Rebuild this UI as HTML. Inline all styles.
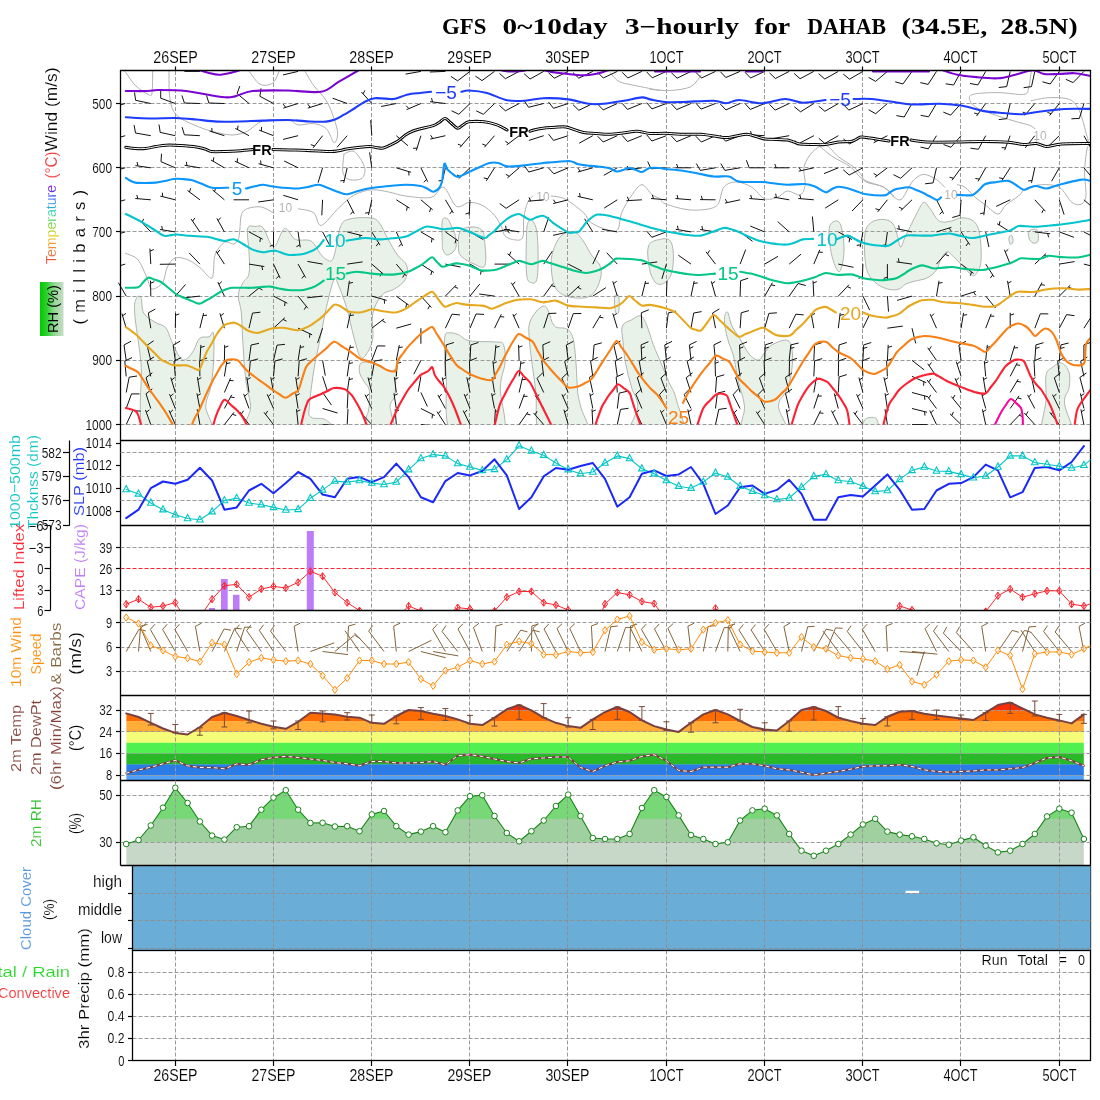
<!DOCTYPE html>
<html><head><meta charset="utf-8"><title>GFS meteogram DAHAB</title>
<style>html,body{margin:0;padding:0;background:#fff;}svg{display:block;}</style></head>
<body>
<svg width="1100" height="1100" viewBox="0 0 1100 1100" shape-rendering="auto">
<rect width="1100" height="1100" fill="#fff"/>
<g id="all" opacity="0.999">
<defs>
<clipPath id="cm"><rect x="120.5" y="70.5" width="970.0" height="354.3"/></clipPath>
<clipPath id="cmb"><rect x="100" y="70.5" width="990.5" height="354.4"/></clipPath>
<clipPath id="c3"><rect x="120.5" y="525.5" width="970.0" height="85"/></clipPath>
<clipPath id="c2"><rect x="120.5" y="441" width="970.0" height="84.5"/></clipPath>
<clipPath id="c4"><rect x="120.5" y="610.5" width="970.0" height="85"/></clipPath>
<linearGradient id="tg" x1="0" y1="0" x2="1" y2="0"><stop offset="0" stop-color="#f04040"/><stop offset="0.18" stop-color="#f08030"/><stop offset="0.36" stop-color="#e8d020"/><stop offset="0.52" stop-color="#60d840"/><stop offset="0.68" stop-color="#20d0c0"/><stop offset="0.82" stop-color="#2060f0"/><stop offset="1" stop-color="#9010d0"/></linearGradient>
<linearGradient id="rhg" x1="0" y1="0" x2="1" y2="0"><stop offset="0" stop-color="#00c800"/><stop offset="0.3" stop-color="#30d030"/><stop offset="0.6" stop-color="#90d890"/><stop offset="1" stop-color="#c8dcc8"/></linearGradient>
</defs>
<text x="442.0" y="33.5" font-family="Liberation Serif, serif" font-weight="bold" font-size="22.5" textLength="44.4" lengthAdjust="spacingAndGlyphs" fill="#000">GFS</text>
<text x="502.6" y="33.5" font-family="Liberation Serif, serif" font-weight="bold" font-size="22.5" textLength="105.0" lengthAdjust="spacingAndGlyphs" fill="#000">0~10day</text>
<text x="625.0" y="33.5" font-family="Liberation Serif, serif" font-weight="bold" font-size="22.5" textLength="114.0" lengthAdjust="spacingAndGlyphs" fill="#000">3&#8722;hourly</text>
<text x="754.6" y="33.5" font-family="Liberation Serif, serif" font-weight="bold" font-size="22.5" textLength="35.6" lengthAdjust="spacingAndGlyphs" fill="#000">for</text>
<text x="807.2" y="33.5" font-family="Liberation Serif, serif" font-weight="bold" font-size="22.5" textLength="78.8" lengthAdjust="spacingAndGlyphs" fill="#000">DAHAB</text>
<text x="901.5" y="33.5" font-family="Liberation Serif, serif" font-weight="bold" font-size="22.5" textLength="85.9" lengthAdjust="spacingAndGlyphs" fill="#000">(34.5E,</text>
<text x="1000.4" y="33.5" font-family="Liberation Serif, serif" font-weight="bold" font-size="22.5" textLength="77.3" lengthAdjust="spacingAndGlyphs" fill="#000">28.5N)</text>
<g clip-path="url(#cm)">
<path d="M136.3 298.5 C137.4 295.7 139.6 295.3 141.0 298.0 C142.4 300.7 141.2 309.1 144.0 313.6 C146.8 318.1 152.5 320.5 156.4 323.0 C160.3 325.5 162.8 324.2 165.6 327.5 C168.4 330.8 169.3 336.2 171.8 341.5 C174.3 346.8 177.0 353.8 179.5 357.0 C182.0 360.2 183.2 360.5 185.7 359.4 C188.2 358.3 191.0 354.5 193.5 350.7 C196.0 346.9 196.8 340.9 199.6 338.4 C202.4 335.9 206.5 337.6 209.0 336.8 C211.5 336.0 212.7 329.0 213.5 333.7 C214.3 338.4 214.0 353.3 213.5 363.0 C213.0 372.7 211.9 380.0 210.5 387.8 C209.1 395.6 206.1 397.7 205.8 406.4 C205.5 415.1 219.6 430.7 209.0 436.0 C198.4 441.3 159.2 449.1 147.0 436.0 C134.8 422.9 143.2 385.0 141.0 363.0 C138.8 341.0 135.5 325.2 134.7 313.6 C133.9 302.0 135.2 301.3 136.3 298.5Z" fill="#e8f2e8" stroke="#b0b4b0" stroke-width="1" stroke-linejoin="round"/>
<path d="M247.6 228.6 C248.7 224.0 252.5 226.7 255.3 226.5 C258.1 226.3 260.2 224.5 263.0 227.7 C265.8 230.8 268.5 240.8 270.7 244.0 C272.9 247.2 273.2 248.1 275.4 245.6 C277.6 243.1 280.8 232.8 283.0 230.0 C285.2 227.2 285.4 228.3 287.7 230.0 C289.9 231.7 291.3 237.5 295.5 239.5 C299.7 241.5 306.6 238.5 311.0 241.0 C315.4 243.5 317.4 250.1 320.2 253.4 C323.0 256.7 324.2 258.4 326.4 259.5 C328.6 260.6 330.7 262.6 332.6 259.5 C334.5 256.4 335.8 248.3 337.2 242.5 C338.6 236.7 338.4 231.2 340.3 227.0 C342.2 222.8 342.7 221.1 348.0 219.4 C353.3 217.7 364.1 217.2 369.7 217.8 C375.3 218.4 375.7 218.6 379.0 222.5 C382.3 226.4 384.9 233.7 388.2 239.5 C391.5 245.3 394.2 250.3 397.5 255.0 C400.8 259.7 405.4 261.3 406.8 265.7 C408.2 270.1 407.4 275.4 405.2 279.6 C403.0 283.8 398.6 286.2 394.4 289.0 C390.2 291.8 385.9 290.6 382.0 295.0 C378.1 299.4 374.5 305.8 372.8 313.6 C371.1 321.4 373.9 331.2 372.8 338.4 C371.7 345.6 368.8 350.5 366.6 353.8 C364.4 357.1 362.6 359.8 360.4 357.0 C358.2 354.2 356.7 347.3 354.2 338.4 C351.7 329.5 349.3 317.0 346.5 307.5 C343.7 298.0 340.9 290.8 338.7 285.8 C336.4 280.8 336.2 275.7 334.0 279.6 C331.8 283.5 328.9 296.9 326.4 307.5 C323.9 318.1 322.4 327.3 320.2 338.4 C318.0 349.5 315.9 357.1 314.0 369.3 C312.1 381.5 309.9 397.8 309.4 406.4 C308.9 415.0 307.9 414.7 311.0 417.2 C314.1 419.7 322.5 416.9 326.4 420.3 C330.3 423.7 346.2 433.2 332.6 436.0 C319.0 438.8 265.4 441.3 250.6 436.0 C235.8 430.7 251.4 416.2 250.6 406.4 C249.8 396.6 247.4 392.8 246.0 381.7 C244.6 370.6 243.8 356.9 243.0 344.6 C242.2 332.3 242.2 322.5 241.4 313.6 C240.6 304.7 238.0 300.6 238.3 295.0 C238.6 289.4 241.1 286.6 243.0 282.7 C244.9 278.8 247.9 279.1 249.0 273.5 C250.1 267.9 249.3 259.9 249.0 251.8 C248.7 243.7 246.5 233.2 247.6 228.6Z" fill="#e8f2e8" stroke="#b0b4b0" stroke-width="1" stroke-linejoin="round"/>
<path d="M360.2 364.0 C361.4 362.1 363.8 362.1 366.0 362.0 C368.2 361.9 370.0 362.6 372.7 363.5 C375.4 364.4 377.9 365.6 381.0 367.0 C384.1 368.4 387.6 370.4 390.2 371.0 C392.8 371.6 394.6 368.2 395.6 370.5 C396.6 372.8 395.8 378.9 395.6 383.6 C395.4 388.3 395.5 393.0 394.5 396.7 C393.5 400.4 390.8 401.2 390.2 404.4 C389.6 407.5 390.5 408.5 391.3 414.2 C392.1 419.9 399.1 432.1 394.5 436.0 C389.9 439.9 370.7 439.1 365.6 436.0 C360.5 432.9 365.7 423.0 366.2 418.5 C366.7 414.0 367.8 414.1 368.4 411.0 C369.0 407.9 369.4 405.0 369.5 401.0 C369.6 397.0 370.0 392.5 369.0 389.0 C368.0 385.5 365.7 384.4 364.0 381.5 C362.3 378.6 360.3 375.8 359.6 372.7 C358.9 369.6 359.0 365.9 360.2 364.0Z" fill="#e8f2e8" stroke="#b0b4b0" stroke-width="1" stroke-linejoin="round"/>
<path d="M442.3 221.0 C443.1 216.7 445.4 217.8 447.0 218.5 C448.6 219.2 449.5 221.8 451.0 225.0 C452.5 228.2 454.7 232.1 455.5 236.4 C456.3 240.7 456.9 245.4 455.5 248.7 C454.1 252.0 449.9 254.8 447.7 255.0 C445.4 255.2 444.0 252.2 443.0 250.0 C442.0 247.8 442.4 247.7 442.3 242.5 C442.2 237.3 441.5 225.3 442.3 221.0Z" fill="#e8f2e8" stroke="#b0b4b0" stroke-width="1" stroke-linejoin="round"/>
<path d="M460.0 231.7 C462.2 227.8 467.1 227.3 471.0 227.0 C474.9 226.7 479.2 227.2 481.7 230.0 C484.2 232.8 484.2 236.1 484.8 242.5 C485.4 248.9 486.7 261.8 484.8 265.7 C482.9 269.6 478.2 265.7 474.0 264.0 C469.8 262.3 464.4 259.3 461.6 256.5 C458.8 253.7 458.8 253.2 458.5 248.7 C458.2 244.2 457.8 235.6 460.0 231.7Z" fill="#e8f2e8" stroke="#b0b4b0" stroke-width="1" stroke-linejoin="round"/>
<path d="M528.0 222.5 C529.1 219.7 531.0 218.5 532.7 221.0 C534.4 223.5 536.6 226.4 537.4 236.4 C538.2 246.4 538.5 268.2 537.4 276.5 C536.3 284.8 533.2 283.2 531.2 282.7 C529.2 282.2 527.3 281.8 526.5 273.5 C525.7 265.2 526.2 245.6 526.5 236.4 C526.8 227.2 526.9 225.3 528.0 222.5Z" fill="#e8f2e8" stroke="#b0b4b0" stroke-width="1" stroke-linejoin="round"/>
<path d="M552.8 251.8 C554.5 246.2 557.0 240.0 560.6 236.4 C564.2 232.8 569.1 231.1 573.0 231.7 C576.9 232.3 578.9 235.3 582.2 239.5 C585.5 243.7 588.2 250.0 591.5 255.0 C594.8 260.0 599.3 262.3 600.7 267.3 C602.1 272.3 600.9 277.7 599.2 282.7 C597.5 287.7 595.1 292.2 591.5 295.0 C587.9 297.8 584.0 298.2 579.0 298.2 C574.0 298.2 568.0 297.2 563.6 295.0 C559.2 292.8 556.6 290.8 554.4 285.8 C552.2 280.8 551.6 273.4 551.3 267.3 C551.0 261.2 551.1 257.4 552.8 251.8Z" fill="#e8f2e8" stroke="#b0b4b0" stroke-width="1" stroke-linejoin="round"/>
<path d="M648.7 245.6 C650.6 241.2 655.6 240.3 659.5 239.5 C663.4 238.7 667.8 237.7 670.3 241.0 C672.8 244.3 673.4 251.6 673.4 258.0 C673.4 264.4 672.5 271.8 670.3 276.5 C668.1 281.2 664.1 283.7 661.0 284.3 C657.9 284.9 655.5 283.2 653.3 279.6 C651.1 276.0 649.5 270.3 648.7 264.2 C647.9 258.1 646.8 250.0 648.7 245.6Z" fill="#e8f2e8" stroke="#b0b4b0" stroke-width="1" stroke-linejoin="round"/>
<path d="M614.7 296.6 C615.3 293.8 618.0 293.8 618.7 296.6 C619.4 299.4 619.3 309.2 618.7 312.0 C618.1 314.8 616.2 314.8 615.5 312.0 C614.8 309.2 614.1 299.4 614.7 296.6Z" fill="#e8f2e8" stroke="#b0b4b0" stroke-width="1" stroke-linejoin="round"/>
<path d="M445.0 336.0 C445.8 332.2 446.9 333.0 449.3 332.8 C451.7 332.6 454.9 333.3 458.5 334.7 C462.1 336.1 462.7 339.5 469.4 340.8 C476.1 342.1 489.5 341.3 495.6 342.0 C501.7 342.7 501.7 340.8 503.4 344.6 C505.1 348.4 505.6 355.2 505.0 363.0 C504.4 370.8 500.9 374.7 500.3 387.8 C499.7 400.9 510.4 427.3 501.8 436.0 C493.2 444.7 462.4 446.9 452.4 436.0 C442.4 425.1 447.6 390.3 446.2 375.5 C444.8 360.7 444.8 360.9 444.6 353.8 C444.4 346.7 444.2 339.8 445.0 336.0Z" fill="#e8f2e8" stroke="#b0b4b0" stroke-width="1" stroke-linejoin="round"/>
<path d="M529.6 323.0 C530.8 318.8 533.3 315.1 535.8 312.0 C538.3 308.9 541.4 306.3 543.6 306.0 C545.8 305.7 546.3 306.9 548.2 310.5 C550.1 314.1 551.1 322.7 554.4 326.0 C557.7 329.3 563.4 326.8 566.7 329.0 C570.0 331.2 571.3 332.3 573.0 338.4 C574.7 344.5 575.2 353.5 576.0 363.0 C576.8 372.5 576.8 383.2 577.6 391.0 C578.4 398.8 578.9 398.3 580.6 406.4 C582.3 414.5 593.7 430.7 586.8 436.0 C579.9 441.3 551.2 444.1 542.0 436.0 C532.8 427.9 537.7 405.2 535.8 391.0 C533.9 376.8 532.4 367.0 531.2 357.0 C530.0 347.0 529.3 341.4 529.0 335.3 C528.7 329.2 528.4 327.2 529.6 323.0Z" fill="#e8f2e8" stroke="#b0b4b0" stroke-width="1" stroke-linejoin="round"/>
<path d="M622.4 326.0 C624.0 322.1 628.4 321.6 631.7 319.8 C635.0 318.0 638.2 314.9 641.0 316.0 C643.8 317.1 644.8 320.9 647.0 326.0 C649.2 331.1 650.8 337.9 653.3 344.6 C655.8 351.3 658.2 356.3 661.0 363.0 C663.8 369.7 665.9 375.0 668.7 381.7 C671.5 388.4 674.3 390.4 676.5 400.2 C678.7 410.0 689.1 429.6 681.0 436.0 C672.9 442.4 639.5 441.3 631.7 436.0 C623.9 430.7 637.8 415.1 637.8 406.4 C637.8 397.7 633.9 395.6 631.7 387.8 C629.5 380.0 627.1 371.3 625.5 363.0 C623.9 354.7 623.6 348.2 623.0 341.5 C622.4 334.8 620.8 329.9 622.4 326.0Z" fill="#e8f2e8" stroke="#b0b4b0" stroke-width="1" stroke-linejoin="round"/>
<path d="M724.4 319.8 C724.4 315.0 726.1 310.9 727.5 312.0 C728.9 313.1 729.8 321.2 732.0 326.0 C734.2 330.8 736.7 333.4 739.8 338.4 C742.9 343.4 745.7 349.9 749.0 353.8 C752.3 357.7 755.5 360.3 758.4 360.0 C761.3 359.7 762.5 354.8 765.0 352.0 C767.5 349.2 768.3 346.7 772.4 344.6 C776.5 342.5 784.2 338.8 787.8 340.5 C791.4 342.2 791.9 347.5 792.5 353.8 C793.1 360.1 792.1 368.8 791.0 375.5 C789.9 382.2 788.5 385.4 786.3 391.0 C784.0 396.6 778.5 398.3 778.5 406.4 C778.5 414.5 792.7 430.7 786.3 436.0 C779.9 441.3 750.5 441.3 743.0 436.0 C735.5 430.7 745.3 416.2 744.5 406.4 C743.7 396.6 740.2 390.6 738.3 381.7 C736.4 372.8 735.6 364.8 733.7 357.0 C731.8 349.2 729.2 345.1 727.5 338.4 C725.8 331.7 724.4 324.6 724.4 319.8Z" fill="#e8f2e8" stroke="#b0b4b0" stroke-width="1" stroke-linejoin="round"/>
<path d="M829.5 227.0 C830.7 222.0 835.0 220.5 837.3 221.0 C839.5 221.5 840.8 224.5 842.0 230.0 C843.2 235.5 844.3 244.5 844.0 251.8 C843.7 259.1 841.9 267.6 840.4 270.4 C838.9 273.2 837.5 271.2 835.7 267.3 C833.9 263.4 831.6 256.0 830.5 248.7 C829.4 241.4 828.3 232.0 829.5 227.0Z" fill="#e8f2e8" stroke="#b0b4b0" stroke-width="1" stroke-linejoin="round"/>
<path d="M865.0 233.3 C866.1 226.9 868.0 225.0 871.3 222.5 C874.6 220.0 879.7 219.1 883.6 219.4 C887.5 219.7 890.5 220.9 893.0 224.0 C895.5 227.1 896.2 232.2 897.6 236.4 C899.0 240.6 899.2 247.2 900.6 247.2 C902.0 247.2 903.3 240.6 905.3 236.4 C907.3 232.2 909.3 228.5 911.5 224.0 C913.7 219.5 915.5 215.5 917.7 211.6 C919.9 207.7 921.6 203.0 923.8 202.4 C926.0 201.8 927.2 205.2 930.0 208.5 C932.8 211.8 935.4 218.8 939.3 221.0 C943.2 223.2 947.8 221.6 951.7 221.0 C955.6 220.4 957.1 217.8 961.0 217.8 C964.9 217.8 970.0 218.2 973.3 221.0 C976.6 223.8 978.1 226.1 979.5 233.3 C980.9 240.5 981.6 253.8 981.0 261.0 C980.4 268.2 978.1 271.0 976.4 273.5 C974.7 276.0 974.5 276.7 971.7 275.0 C968.9 273.3 964.3 267.5 961.0 264.2 C957.7 260.9 955.7 258.7 953.2 256.5 C950.7 254.3 949.2 251.3 947.0 251.8 C944.8 252.3 942.7 256.2 940.8 259.5 C938.9 262.8 938.7 267.1 936.2 270.4 C933.7 273.7 930.9 276.1 927.0 278.0 C923.1 279.9 918.5 280.1 914.6 281.2 C910.7 282.3 908.1 282.9 905.3 284.3 C902.5 285.7 901.8 288.1 899.0 289.0 C896.2 289.9 893.7 290.3 889.8 289.5 C885.9 288.7 881.4 287.2 877.5 284.3 C873.6 281.4 870.5 278.2 868.2 273.5 C866.0 268.8 865.6 265.2 865.0 258.0 C864.4 250.8 863.9 239.7 865.0 233.3Z" fill="#e8f2e8" stroke="#b0b4b0" stroke-width="1" stroke-linejoin="round"/>
<path d="M1009.0 237.0 C1009.4 235.6 1011.3 235.1 1012.0 236.0 C1012.7 236.9 1013.4 240.6 1013.0 242.0 C1012.6 243.4 1010.7 244.9 1010.0 244.0 C1009.3 243.1 1008.6 238.4 1009.0 237.0Z" fill="#e8f2e8" stroke="#b0b4b0" stroke-width="1" stroke-linejoin="round"/>
<path d="M1029.0 231.0 C1030.4 229.6 1035.4 228.2 1037.0 230.0 C1038.6 231.8 1038.7 238.7 1038.0 241.0 C1037.3 243.3 1034.6 243.5 1033.0 243.0 C1031.4 242.5 1029.7 240.2 1029.0 238.0 C1028.3 235.8 1027.6 232.4 1029.0 231.0Z" fill="#e8f2e8" stroke="#b0b4b0" stroke-width="1" stroke-linejoin="round"/>
<path d="M862.0 436.0 C859.3 433.3 862.4 424.3 864.0 421.0 C865.6 417.7 868.7 417.7 871.0 417.5 C873.3 417.3 875.6 416.7 877.0 420.0 C878.4 423.3 881.7 433.1 879.0 436.0 C876.3 438.9 864.7 438.7 862.0 436.0Z" fill="#e8f2e8" stroke="#b0b4b0" stroke-width="1" stroke-linejoin="round"/>
<path d="M1046.0 375.5 C1047.1 369.6 1049.2 369.9 1052.0 367.7 C1054.8 365.4 1058.3 362.2 1061.4 363.0 C1064.5 363.8 1067.6 367.9 1069.0 372.4 C1070.4 376.9 1069.8 382.2 1069.0 387.8 C1068.2 393.4 1063.9 394.6 1064.5 403.3 C1065.1 412.0 1076.1 430.1 1072.2 436.0 C1068.3 441.9 1047.5 442.4 1042.8 436.0 C1038.1 429.6 1045.4 411.1 1046.0 400.2 C1046.6 389.3 1044.9 381.4 1046.0 375.5Z" fill="#e8f2e8" stroke="#b0b4b0" stroke-width="1" stroke-linejoin="round"/>
</g>
<line x1="120.5" y1="103.5" x2="1090.5" y2="103.5" stroke="#9a9a9a" stroke-width="1" stroke-dasharray="4,2"/>
<line x1="120.5" y1="167.5" x2="1090.5" y2="167.5" stroke="#9a9a9a" stroke-width="1" stroke-dasharray="4,2"/>
<line x1="120.5" y1="231.5" x2="1090.5" y2="231.5" stroke="#9a9a9a" stroke-width="1" stroke-dasharray="4,2"/>
<line x1="120.5" y1="296.5" x2="1090.5" y2="296.5" stroke="#9a9a9a" stroke-width="1" stroke-dasharray="4,2"/>
<line x1="120.5" y1="360.5" x2="1090.5" y2="360.5" stroke="#9a9a9a" stroke-width="1" stroke-dasharray="4,2"/>
<line x1="120.5" y1="424.5" x2="1090.5" y2="424.5" stroke="#9a9a9a" stroke-width="1" stroke-dasharray="4,2"/>
<line x1="175.5" y1="71.0" x2="175.5" y2="425.0" stroke="#9a9a9a" stroke-width="1" stroke-dasharray="4,2"/>
<line x1="273.5" y1="71.0" x2="273.5" y2="425.0" stroke="#9a9a9a" stroke-width="1" stroke-dasharray="4,2"/>
<line x1="371.5" y1="71.0" x2="371.5" y2="425.0" stroke="#9a9a9a" stroke-width="1" stroke-dasharray="4,2"/>
<line x1="469.5" y1="71.0" x2="469.5" y2="425.0" stroke="#9a9a9a" stroke-width="1" stroke-dasharray="4,2"/>
<line x1="567.5" y1="71.0" x2="567.5" y2="425.0" stroke="#9a9a9a" stroke-width="1" stroke-dasharray="4,2"/>
<line x1="666.5" y1="71.0" x2="666.5" y2="425.0" stroke="#9a9a9a" stroke-width="1" stroke-dasharray="4,2"/>
<line x1="764.5" y1="71.0" x2="764.5" y2="425.0" stroke="#9a9a9a" stroke-width="1" stroke-dasharray="4,2"/>
<line x1="862.5" y1="71.0" x2="862.5" y2="425.0" stroke="#9a9a9a" stroke-width="1" stroke-dasharray="4,2"/>
<line x1="960.5" y1="71.0" x2="960.5" y2="425.0" stroke="#9a9a9a" stroke-width="1" stroke-dasharray="4,2"/>
<line x1="1059.5" y1="71.0" x2="1059.5" y2="425.0" stroke="#9a9a9a" stroke-width="1" stroke-dasharray="4,2"/>
<g clip-path="url(#cm)">
<path d="M125.0 71.5 C126.7 73.7 131.7 81.7 135.4 85.4 C139.1 89.1 145.5 93.2 148.2 94.4 C150.9 95.6 151.3 96.8 152.0 93.0 C152.7 89.2 152.6 74.3 152.7 70.7" fill="none" stroke="#b0b0b0" stroke-width="1" stroke-linejoin="round" stroke-linecap="round" />
<path d="M169.0 70.7 C169.1 75.1 168.7 91.2 169.8 98.2 C170.9 105.2 172.1 110.4 176.0 114.7 C179.9 119.0 188.3 122.3 194.0 124.9 C199.7 127.5 205.7 129.6 211.8 131.2 C217.9 132.8 226.3 135.0 232.0 135.0 C237.7 135.0 242.5 133.4 247.4 131.2 C252.3 129.0 256.2 122.8 262.7 121.0 C269.2 119.2 282.3 119.2 288.0 119.8 C293.7 120.4 294.2 124.3 298.3 124.9 C302.4 125.5 309.1 123.0 313.6 123.6 C318.1 124.2 323.0 125.6 326.3 128.7 C329.6 131.8 332.2 141.9 334.0 142.7 C335.8 143.5 337.7 137.7 337.7 133.8 C337.7 129.9 335.8 123.8 334.0 118.5 C332.2 113.2 329.6 106.0 326.3 100.7 C323.0 95.4 317.1 90.2 313.6 85.4 C310.1 80.6 306.1 73.1 304.7 70.7" fill="none" stroke="#b0b0b0" stroke-width="1" stroke-linejoin="round" stroke-linecap="round" />
<path d="M248.7 70.7 C250.5 72.9 256.1 82.2 260.0 84.2 C263.9 86.2 269.7 85.2 272.8 83.0 C275.9 80.8 278.2 72.7 279.2 70.7" fill="none" stroke="#b0b0b0" stroke-width="1" stroke-linejoin="round" stroke-linecap="round" />
<path d="M344.0 154.0 C345.6 153.6 351.0 149.5 354.3 151.6 C357.6 153.7 363.3 162.6 364.5 166.9 C365.7 171.2 364.4 176.3 362.0 178.3 C359.6 180.3 352.3 180.6 349.2 179.6 C346.1 178.6 343.6 176.1 342.8 172.0 C342.0 167.9 343.8 156.9 344.0 154.0" fill="none" stroke="#b0b0b0" stroke-width="1" stroke-linejoin="round" stroke-linecap="round" />
<path d="M298.3 208.8 C300.7 209.4 309.9 210.0 313.6 212.7 C317.3 215.4 317.1 226.2 321.2 225.4 C325.3 224.6 333.7 212.5 339.0 207.6 C344.3 202.7 349.0 197.7 354.3 194.9 C359.6 192.1 366.3 190.2 372.0 189.8 C377.7 189.4 384.7 191.3 390.0 192.3 C395.3 193.3 398.8 195.2 405.4 196.0 C412.0 196.8 424.9 198.8 431.0 197.4 C437.1 196.0 439.6 185.8 443.6 187.2 C447.6 188.6 452.2 203.9 456.3 206.3 C460.4 208.7 464.9 202.7 469.0 202.5 C473.1 202.3 477.7 203.0 481.8 205.0 C485.9 207.0 491.3 211.5 494.5 215.2 C497.7 218.9 500.4 224.7 502.0 228.0 C503.6 231.3 503.1 233.8 504.7 235.6 C506.3 237.4 509.5 239.0 512.3 239.4 C515.1 239.8 520.7 241.5 522.5 238.0 C524.3 234.5 523.0 223.5 523.8 217.8 C524.6 212.1 526.2 206.0 527.6 202.5 C529.0 199.0 531.9 197.0 532.7 196.0" fill="none" stroke="#b0b0b0" stroke-width="1" stroke-linejoin="round" stroke-linecap="round" />
<path d="M610.3 72.7 C611.7 74.1 615.3 79.6 619.2 81.6 C623.1 83.6 628.0 84.0 634.5 85.4 C641.0 86.8 655.9 89.7 660.0 90.5" fill="none" stroke="#b0b0b0" stroke-width="1" stroke-linejoin="round" stroke-linecap="round" />
<path d="M551.0 196.0 C553.2 196.5 559.8 196.3 565.0 199.0 C570.2 201.7 579.4 208.9 583.6 212.7 C587.8 216.5 587.1 220.0 591.2 222.8 C595.3 225.6 604.7 229.5 609.0 230.5 C613.3 231.5 616.0 232.0 618.0 229.2 C620.0 226.4 619.5 218.2 621.7 212.7 C623.9 207.2 628.8 199.4 632.0 194.9 C635.2 190.4 638.8 184.7 642.0 184.7 C645.2 184.7 649.4 192.7 652.3 194.9 C655.2 197.1 657.9 197.3 660.0 198.7 C662.1 200.1 660.4 202.0 665.3 203.8 C670.2 205.6 682.6 209.6 690.7 210.0 C698.8 210.4 710.7 209.9 716.0 206.3 C721.3 202.7 720.5 191.1 723.8 187.2 C727.1 183.3 732.0 182.0 736.5 182.0 C741.0 182.0 747.3 184.5 751.8 187.2 C756.3 189.9 760.4 197.1 764.5 198.7 C768.6 200.3 773.5 198.6 777.2 197.4 C780.9 196.2 783.8 191.4 787.4 191.0 C791.0 190.6 797.2 195.9 800.0 194.9 C802.8 193.9 804.6 189.2 805.2 184.7 C805.8 180.2 802.8 172.2 804.0 166.9 C805.2 161.6 809.3 155.1 812.8 151.6 C816.3 148.1 821.5 144.4 825.6 145.2 C829.7 146.0 833.8 153.2 838.3 156.7 C842.8 160.2 850.0 164.1 853.6 166.9 C857.2 169.7 859.0 172.1 861.0 174.5 C863.0 176.9 862.6 180.0 866.3 182.0 C870.0 184.0 879.5 184.7 884.0 187.2 C888.5 189.7 891.4 195.6 894.3 197.4 C897.2 199.2 899.2 201.2 902.0 198.7 C904.8 196.2 908.8 185.9 912.0 182.0 C915.2 178.1 919.1 175.3 922.3 174.5 C925.5 173.7 929.2 175.8 932.0 177.0 C934.8 178.2 937.6 180.4 939.6 182.0 C941.6 183.6 943.9 186.4 944.7 187.2" fill="none" stroke="#b0b0b0" stroke-width="1" stroke-linejoin="round" stroke-linecap="round" />
<path d="M650.0 89.3 C653.3 89.5 663.9 90.9 670.4 90.5 C676.9 90.1 685.8 89.1 690.7 86.7 C695.6 84.3 699.4 77.1 701.0 75.3" fill="none" stroke="#b0b0b0" stroke-width="1" stroke-linejoin="round" stroke-linecap="round" />
<path d="M1031.2 71.5 C1030.8 74.1 1029.9 84.3 1028.7 88.0 C1027.5 91.7 1028.5 93.7 1023.6 94.4 C1018.7 95.1 1006.1 92.6 998.0 92.6 C989.9 92.6 977.2 93.1 972.7 94.4 C968.2 95.7 969.2 98.5 970.0 100.7 C970.8 102.9 973.3 105.9 977.8 108.3 C982.3 110.7 991.5 113.8 998.0 116.0 C1004.5 118.2 1013.2 120.7 1018.5 122.3 C1023.8 123.9 1028.0 124.2 1031.2 126.0 C1034.4 127.8 1038.0 131.3 1038.8 133.8 C1039.6 136.3 1036.7 140.2 1036.3 141.4" fill="none" stroke="#b0b0b0" stroke-width="1" stroke-linejoin="round" stroke-linecap="round" />
<path d="M1031.2 100.7 C1034.0 100.2 1042.9 97.9 1049.0 97.7 C1055.1 97.5 1064.5 97.3 1069.4 99.4 C1074.3 101.5 1076.7 105.0 1079.5 110.9 C1082.3 116.8 1085.2 130.6 1087.0 136.3 C1088.8 142.0 1089.9 144.9 1090.5 146.5" fill="none" stroke="#b0b0b0" stroke-width="1" stroke-linejoin="round" stroke-linecap="round" />
<path d="M820.0 146.5 C822.0 148.1 827.8 153.4 832.7 156.7 C837.6 160.0 845.6 163.2 850.5 166.9 C855.4 170.6 858.0 176.4 863.3 179.6 C868.6 182.8 878.7 184.6 883.6 187.2 C888.5 189.8 892.2 194.6 893.8 196.0" fill="none" stroke="#b0b0b0" stroke-width="1" stroke-linejoin="round" stroke-linecap="round" />
<path d="M957.4 184.7 C958.6 185.1 962.2 185.2 965.0 187.2 C967.8 189.2 971.9 194.6 975.2 197.4 C978.5 200.2 981.8 202.3 985.4 205.0 C989.0 207.7 994.7 214.0 998.0 214.0 C1001.3 214.0 1002.5 207.9 1005.8 205.0 C1009.1 202.1 1015.3 198.6 1018.5 196.0 C1021.7 193.4 1022.3 190.3 1026.0 188.5 C1029.7 186.7 1036.1 184.9 1041.4 184.7 C1046.7 184.5 1054.3 184.4 1059.2 187.2 C1064.1 190.0 1068.4 199.8 1072.0 202.5 C1075.6 205.2 1079.8 205.0 1082.0 203.8 C1084.2 202.6 1085.6 200.0 1086.0 194.9 C1086.4 189.8 1084.4 179.3 1084.6 172.0 C1084.8 164.7 1086.1 153.5 1087.0 149.0 C1087.9 144.5 1089.9 144.8 1090.5 144.0" fill="none" stroke="#b0b0b0" stroke-width="1" stroke-linejoin="round" stroke-linecap="round" />
<path d="M125.5 253.4 C127.5 254.4 134.4 255.6 137.8 259.5 C141.2 263.4 144.8 273.3 147.0 278.0 C149.2 282.7 149.2 288.2 151.7 289.0 C154.2 289.8 160.0 286.2 162.5 282.7 C165.0 279.2 165.2 271.3 167.2 267.3 C169.2 263.3 171.8 259.2 175.0 258.0 C178.2 256.8 183.4 258.0 187.3 259.5 C191.2 261.0 195.6 264.3 199.6 267.3 C203.6 270.3 209.5 280.0 212.0 278.0 C214.5 276.0 213.0 260.7 215.0 255.0 C217.0 249.3 221.4 244.3 224.4 242.5 C227.4 240.7 231.4 244.5 233.6 244.0 C235.8 243.5 237.3 241.7 238.3 239.5 C239.3 237.3 239.3 234.0 239.8 230.0 C240.3 226.0 240.2 218.1 241.4 214.7 C242.6 211.3 244.4 209.7 247.6 208.5 C250.8 207.3 257.3 206.2 261.5 207.0 C265.7 207.8 271.8 212.2 273.8 213.2" fill="none" stroke="#b0b0b0" stroke-width="1" stroke-linejoin="round" stroke-linecap="round" />
</g>
<rect x="278.0" y="201.7" width="15" height="11" fill="#fff"/>
<text x="285.5" y="212.2" font-family="Liberation Sans, sans-serif" font-size="12" fill="#aaa" text-anchor="middle" stroke="#fff" stroke-width="0.12" >10</text>
<rect x="535.5" y="190.0" width="15" height="11" fill="#fff"/>
<text x="543.0" y="200.5" font-family="Liberation Sans, sans-serif" font-size="12" fill="#aaa" text-anchor="middle" stroke="#fff" stroke-width="0.12" >10</text>
<rect x="943.5" y="188.0" width="15" height="11" fill="#fff"/>
<text x="951.0" y="198.5" font-family="Liberation Sans, sans-serif" font-size="12" fill="#aaa" text-anchor="middle" stroke="#fff" stroke-width="0.12" >10</text>
<rect x="1032.5" y="129.0" width="15" height="11" fill="#fff"/>
<text x="1040.0" y="139.5" font-family="Liberation Sans, sans-serif" font-size="12" fill="#aaa" text-anchor="middle" stroke="#fff" stroke-width="0.12" >10</text>
<g clip-path="url(#cmb)"><path d="M199.9 71.4 L184.4 71.4 M298.1 71.4 L283.0 74.9 M420.9 71.4 L405.6 74.1 M445.4 71.4 L429.9 72.0 M470.0 71.4 L457.6 80.8 L450.9 76.4 M494.5 71.4 L482.0 80.6 L475.4 76.1 M519.1 71.4 L505.4 78.7 L499.5 73.4 M543.7 71.4 L530.1 79.0 L524.1 73.7 M568.2 71.4 L554.3 78.2 L548.5 72.7 M592.8 71.4 L578.8 78.2 L573.1 72.7 M617.3 71.4 L603.3 78.0 L597.6 72.3 M641.9 71.4 L627.8 78.0 L622.2 72.3 M666.4 71.4 L652.3 77.8 L646.7 72.0 M691.0 71.4 L677.1 78.2 L671.3 72.7 M715.5 71.4 L701.5 78.0 L695.8 72.3 M740.1 71.4 L725.8 77.5 L720.4 71.7 M764.7 71.4 L750.6 78.0 L745.0 72.3 M789.2 71.4 L775.4 78.5 L769.6 73.0 M813.8 71.4 L800.1 78.7 L794.1 73.4 M838.3 71.4 L824.8 79.0 L818.7 73.7 M862.9 71.4 L849.5 79.2 L843.3 74.1 M887.4 71.4 L875.6 81.4 L868.6 77.4 M912.0 71.4 L902.9 84.0 L895.2 81.8 M936.5 71.4 L928.1 84.4 L920.3 82.6 M961.1 71.4 L953.6 85.0 L945.7 83.8 M985.7 71.4 L977.9 84.9 L970.0 83.5 M1010.2 71.4 L1006.7 86.6 L998.8 87.5 M1034.8 71.4 L1031.5 86.6 L1023.6 87.7 M1059.3 71.4 L1050.2 84.0 L1042.5 81.8 M1083.9 71.4 L1073.1 82.6 L1065.8 79.3 M120.2 105.0 L125.2 103.5 M150.8 103.5 L135.6 100.3 L134.5 92.4 M175.3 103.5 L160.7 98.2 L160.7 90.2 M199.9 103.5 L184.4 103.0 L181.9 95.4 M224.4 103.5 L208.9 103.0 L206.5 95.4 M249.0 103.5 L237.1 93.6 L239.8 86.1 M273.5 103.5 L259.9 96.3 L261.0 88.4 M298.1 103.5 L283.3 108.1 M285.7 107.4 L283.3 104.2 M322.6 103.5 L307.8 108.1 M310.2 107.4 L307.8 104.2 M347.2 103.5 L332.6 98.2 M371.8 103.5 L361.4 92.0 M363.1 93.9 L364.9 90.4 M396.3 103.5 L381.1 106.5 M420.9 103.5 L406.6 109.6 M408.9 108.6 L406.2 105.7 M445.4 103.5 L430.0 101.7 M432.5 102.0 L431.6 98.1 M470.0 103.5 L458.8 114.3 L451.6 110.8 M494.5 103.5 L483.4 114.3 L476.2 110.8 M519.1 103.5 L505.4 110.8 L499.5 105.5 M543.7 103.5 L528.6 107.3 L524.1 100.7 M568.2 103.5 L553.5 108.3 L548.5 102.0 M592.8 103.5 L578.8 110.3 L573.1 104.8 M617.3 103.5 L603.2 109.9 L597.6 104.1 M641.9 103.5 L627.5 109.4 L622.2 103.4 M666.4 103.5 L651.9 108.9 L646.7 102.7 M691.0 103.5 L676.7 109.6 L671.3 103.8 M715.5 103.5 L701.1 109.1 L695.8 103.1 M740.1 103.5 L725.9 109.9 L720.4 104.1 M764.7 103.5 L750.3 109.4 L744.9 103.4 M789.2 103.5 L775.2 110.1 L769.5 104.4 M813.8 103.5 L800.6 111.8 L794.3 106.8 M838.3 103.5 L824.9 111.3 L818.8 106.2 M862.9 103.5 L848.8 110.1 L843.2 104.4 M887.4 103.5 L875.7 113.7 L868.7 109.8 M912.0 103.5 L904.2 117.0 L896.4 115.6 M936.5 103.5 L928.6 116.8 L920.7 115.3 M961.1 103.5 L950.7 115.1 L943.3 112.1 M985.7 103.5 L976.5 116.1 M978.0 114.1 L974.2 113.0 M1010.2 103.5 L1006.7 118.7 L998.8 119.6 M1034.8 103.5 L1024.8 115.4 M1026.4 113.5 L1022.7 112.1 M1059.3 103.5 L1049.6 115.6 M1051.1 113.7 L1047.4 112.4 M1083.9 103.5 L1079.4 118.4 L1071.4 118.8 M120.2 137.2 L125.2 135.7 M150.8 135.7 L135.5 133.0 L134.1 125.1 M175.3 135.7 L160.2 132.4 L159.0 124.5 M199.9 135.7 L184.4 134.8 L182.1 127.2 M224.4 135.7 L209.6 131.1 M212.0 131.8 L211.8 127.9 M249.0 135.7 L235.3 128.4 M237.5 129.5 L238.1 125.6 M273.5 135.7 L259.1 130.1 M261.4 131.0 L261.5 127.0 M298.1 135.7 L283.1 139.4 M322.6 135.7 L313.1 147.9 M314.6 145.9 L310.8 144.7 M347.2 135.7 L337.0 147.3 M371.8 135.7 L370.7 120.2 M396.3 135.7 L408.0 145.8 M420.9 135.7 L416.3 150.5 M417.1 148.1 L413.1 148.3 M445.4 135.7 L430.3 139.1 M432.8 138.6 L430.6 135.2 M470.0 135.7 L460.0 147.5 M461.6 145.6 L457.9 144.2 M494.5 135.7 L484.4 147.3 M486.0 145.5 L482.3 144.0 M519.1 135.7 L506.7 145.0 M508.7 143.5 L505.4 141.3 M543.7 135.7 L528.9 140.4 M568.2 135.7 L553.5 140.4 L548.5 134.1 M592.8 135.7 L579.2 143.2 M617.3 135.7 L603.2 142.0 L597.6 136.2 M641.9 135.7 L627.5 141.5 L622.2 135.5 M666.4 135.7 L651.9 141.0 L646.7 134.8 M691.0 135.7 L676.7 141.7 L671.3 135.9 M715.5 135.7 L701.4 142.0 L695.8 136.2 M740.1 135.7 L725.6 141.2 L720.4 135.2 M764.7 135.7 L749.2 134.8 M751.7 135.0 L750.5 131.1 M789.2 135.7 L773.9 138.3 M813.8 135.7 L800.1 142.9 M838.3 135.7 L824.9 143.4 L818.8 138.3 M862.9 135.7 L849.7 143.9 L843.4 138.9 M887.4 135.7 L873.6 142.7 M875.9 141.6 L872.9 138.8 M936.5 135.7 L928.3 148.8 L920.5 147.1 M961.1 135.7 L950.9 147.3 L943.5 144.5 M985.7 135.7 L978.4 149.3 L970.5 148.2 M1010.2 135.7 L1004.7 150.1 M1005.6 147.8 L1001.6 147.7 M1034.8 135.7 L1025.2 147.9 M1026.8 145.9 L1023.0 144.7 M1059.3 135.7 L1048.2 146.4 M1083.9 135.7 L1091.6 149.1 M120.2 169.2 L125.2 167.8 M150.8 167.8 L135.4 165.6 M137.9 165.9 L137.1 162.0 M175.3 167.8 L161.0 161.7 L161.5 153.7 M199.9 167.8 L184.6 165.3 M187.0 165.7 L186.3 161.8 M224.4 167.8 L211.0 160.0 M213.2 161.2 L213.9 157.3 M249.0 167.8 L234.9 161.2 M237.2 162.3 L237.5 158.3 M273.5 167.8 L258.6 163.7 M261.0 164.4 L260.6 160.4 M298.1 167.8 L284.2 161.0 M322.6 167.8 L318.1 182.6 M347.2 167.8 L343.7 182.9 M344.3 180.4 L340.3 180.9 M371.8 167.8 L369.6 152.4 M396.3 167.8 L411.1 172.3 M408.7 171.6 L409.0 175.5 M420.9 167.8 L427.7 181.7 M426.6 179.4 L423.8 182.3 M445.4 167.8 L441.9 182.9 M442.5 180.4 L438.5 180.9 M470.0 167.8 L458.8 178.5 M460.6 176.8 L457.0 175.0 M494.5 167.8 L486.3 180.9 M487.7 178.8 L483.7 177.9 M519.1 167.8 L507.4 177.9 M509.3 176.3 L505.8 174.3 M543.7 167.8 L528.8 172.0 L524.1 165.6 M568.2 167.8 L553.9 173.8 L548.5 168.0 M592.8 167.8 L577.9 172.0 M580.3 171.3 L577.9 168.1 M617.3 167.8 L603.8 175.3 M641.9 167.8 L626.5 169.9 M629.0 169.6 L627.1 166.0 M666.4 167.8 L651.0 168.8 L647.7 161.5 M691.0 167.8 L675.5 167.8 M678.0 167.8 L676.6 164.0 M715.5 167.8 L700.3 170.4 L696.3 163.5 M740.1 167.8 L724.8 170.4 L720.8 163.5 M764.7 167.8 L749.2 167.8 L746.4 160.2 M789.2 167.8 L773.7 167.8 M776.2 167.8 L774.8 164.0 M813.8 167.8 L798.7 171.2 M801.1 170.7 L798.9 167.3 M838.3 167.8 L824.0 173.6 M862.9 167.8 L849.2 175.0 L843.2 169.7 M887.4 167.8 L875.1 177.1 M877.1 175.6 L873.7 173.4 M912.0 167.8 L900.7 178.3 L893.5 174.7 M936.5 167.8 L933.1 182.9 L925.1 183.8 M961.1 167.8 L952.0 180.3 M953.5 178.3 L949.6 177.2 M985.7 167.8 L978.1 181.3 M979.4 179.1 L975.4 178.5 M1010.2 167.8 L1001.8 180.7 M1003.1 178.7 L999.2 177.8 M1034.8 167.8 L1031.5 182.9 M1032.1 180.5 L1028.1 181.0 M1059.3 167.8 L1051.6 181.2 M1083.9 167.8 L1093.8 179.6 M120.2 201.3 L125.2 199.8 M150.8 199.8 L135.3 198.5 M137.8 198.7 L136.8 194.9 M175.3 199.8 L160.3 196.1 M162.7 196.7 L162.3 192.7 M199.9 199.8 L187.5 190.5 M189.5 192.0 L190.7 188.2 M224.4 199.8 L212.6 189.9 M214.5 191.5 L215.8 187.7 M249.0 199.8 L233.5 199.8 M273.5 199.8 L258.2 202.0 M298.1 199.8 L283.3 195.3 M322.6 199.8 L321.8 215.3 M347.2 199.8 L354.2 213.7 M353.1 211.4 L350.4 214.4 M371.8 199.8 L368.5 215.0 M369.1 212.6 L365.1 213.1 M396.3 199.8 L409.5 208.1 M407.3 206.7 L406.5 210.7 M420.9 199.8 L432.7 209.8 M430.8 208.2 L429.5 212.0 M445.4 199.8 L453.4 213.1 M452.1 211.0 L449.6 214.1 M470.0 199.8 L469.2 215.3 M469.3 212.8 L465.5 214.0 M519.1 199.8 L506.1 208.3 L499.7 203.5 M543.7 199.8 L528.2 201.2 M530.7 201.0 L529.0 197.4 M568.2 199.8 L553.2 203.6 M555.6 203.0 L553.4 199.7 M592.8 199.8 L577.7 196.4 M580.1 196.9 L579.6 193.0 M617.3 199.8 L604.2 208.1 M641.9 199.8 L626.4 200.7 M628.9 200.5 L627.3 196.8 M666.4 199.8 L651.0 198.5 M653.5 198.7 L652.4 194.9 M691.0 199.8 L675.5 198.5 M678.0 198.7 L677.0 194.9 M715.5 199.8 L700.0 199.6 M702.5 199.6 L701.2 195.8 M740.1 199.8 L724.9 203.1 M727.4 202.6 L725.3 199.2 M764.7 199.8 L749.2 198.5 M751.7 198.7 L750.7 194.9 M789.2 199.8 L773.9 197.2 M776.4 197.6 L775.7 193.7 M813.8 199.8 L798.3 198.5 M800.8 198.7 L799.8 194.9 M838.3 199.8 L825.2 208.1 M862.9 199.8 L852.1 211.0 M887.4 199.8 L877.7 211.9 M879.3 210.0 L875.5 208.7 M912.0 199.8 L900.8 210.6 M902.6 208.9 L899.0 207.1 M936.5 199.8 L943.6 213.7 M942.4 211.4 L939.7 214.4 M961.1 199.8 L960.0 215.3 L952.3 217.5 M985.7 199.8 L983.8 215.2 M984.1 212.8 L980.2 213.7 M1010.2 199.8 L996.2 206.4 M1034.8 199.8 L1045.3 211.2 M1043.6 209.4 L1041.8 212.9 M1059.3 199.8 L1064.1 214.6 M1083.9 199.8 L1095.6 210.0 M120.2 233.4 L125.2 231.9 M150.8 231.9 L140.2 220.6 M141.9 222.4 L143.7 218.9 M175.3 231.9 L160.0 229.5 M162.5 229.9 L161.7 226.0 M199.9 231.9 L191.2 219.1 M192.6 221.2 L194.9 217.9 M224.4 231.9 L216.9 218.4 M218.1 220.6 L220.7 217.6 M249.0 231.9 L262.7 239.2 M260.5 238.1 L259.9 242.0 M273.5 231.9 L273.5 247.4 M273.5 244.9 L269.8 246.3 M298.1 231.9 L300.2 247.3 M299.9 244.8 L296.4 246.7 M322.6 231.9 L329.9 245.6 M347.2 231.9 L362.2 235.7 M359.8 235.1 L360.2 239.1 M371.8 231.9 L380.0 245.1 M378.6 243.0 L376.2 246.1 M396.3 231.9 L402.6 246.1 M401.6 243.8 L398.7 246.6 M420.9 231.9 L434.3 239.7 M432.1 238.4 L431.4 242.4 M445.4 231.9 L458.1 240.8 M456.1 239.4 L455.0 243.3 M470.0 231.9 L483.4 239.7 M494.5 231.9 L509.8 229.3 M507.3 229.7 L509.3 233.2 M519.1 231.9 L503.8 229.3 M506.3 229.7 L505.6 225.8 M543.7 231.9 L548.7 217.3 M568.2 231.9 L553.1 235.4 M592.8 231.9 L584.6 218.8 M617.3 231.9 L602.1 229.3 M666.4 231.9 L651.9 237.3 L646.7 231.1 M691.0 231.9 L675.7 229.3 M678.2 229.7 L677.5 225.8 M715.5 231.9 L700.2 229.5 M702.7 229.9 L701.9 226.0 M740.1 231.9 L752.5 241.3 M764.7 231.9 L750.3 226.1 M789.2 231.9 L777.7 221.6 M813.8 231.9 L812.4 216.5 M838.3 231.9 L851.9 239.5 M849.7 238.3 L849.1 242.2 M862.9 231.9 L860.2 247.2 M860.6 244.8 L856.7 245.4 M887.4 231.9 L885.3 247.3 M885.6 244.8 L881.7 245.7 M912.0 231.9 L896.8 228.7 M899.3 229.2 L898.7 225.3 M936.5 231.9 L951.4 227.4 M949.0 228.1 L951.4 231.3 M961.1 231.9 L969.8 244.8 M968.4 242.7 L966.0 246.0 M985.7 231.9 L988.9 247.1 M1010.2 231.9 L997.1 223.7 M999.2 225.1 L1000.0 221.1 M1034.8 231.9 L1050.2 233.8 M1047.7 233.5 L1048.6 237.4 M1059.3 231.9 L1073.9 237.3 M1083.9 231.9 L1097.6 239.2 M120.2 265.6 L125.2 264.1 M150.8 264.1 L149.9 248.6 M150.1 251.1 L153.8 249.5 M175.3 264.1 L159.8 264.3 M199.9 264.1 L189.1 252.9 M224.4 264.1 L216.0 251.1 M217.3 253.1 L219.8 250.0 M249.0 264.1 L264.3 266.5 M261.8 266.1 L262.6 270.0 M273.5 264.1 L280.1 278.1 M279.0 275.8 L276.2 278.7 M298.1 264.1 L305.6 277.6 M304.4 275.4 L301.8 278.4 M322.6 264.1 L307.4 261.4 M347.2 264.1 L362.6 261.9 M371.8 264.1 L383.5 274.2 M381.6 272.6 L380.1 276.3 M396.3 264.1 L406.3 275.9 M404.7 274.0 L402.7 277.5 M420.9 264.1 L433.9 272.5 M431.8 271.1 L430.9 275.0 M445.4 264.1 L460.6 267.0 M470.0 264.1 L483.4 271.8 M481.2 270.6 L480.5 274.5 M494.5 264.1 L510.0 264.1 M519.1 264.1 L507.6 253.7 M509.4 255.4 L510.9 251.6 M543.7 264.1 L552.3 251.2 M568.2 264.1 L582.0 271.1 M592.8 264.1 L599.3 250.0 M617.3 264.1 L606.7 252.7 M641.9 264.1 L657.2 261.9 M666.4 264.1 L661.9 278.9 M691.0 264.1 L678.3 255.2 M715.5 264.1 L706.0 251.8 M707.5 253.8 L709.7 250.4 M740.1 264.1 L745.7 249.6 M764.7 264.1 L778.1 256.3 M789.2 264.1 L801.1 254.1 M813.8 264.1 L819.8 249.8 M818.8 252.1 L822.8 252.3 M838.3 264.1 L853.5 267.3 M862.9 264.1 L862.3 279.5 M862.4 277.0 L858.6 278.3 M887.4 264.1 L887.4 279.6 M887.4 277.1 L883.7 278.4 M912.0 264.1 L896.6 261.9 M899.1 262.2 L898.3 258.3 M936.5 264.1 L946.9 252.5 M945.2 254.4 L949.0 255.9 M961.1 264.1 L973.5 273.4 M971.5 271.9 L970.3 275.7 M985.7 264.1 L994.1 277.0 M992.7 275.0 L990.3 278.1 M1010.2 264.1 L1004.4 249.7 M1005.3 252.0 L1008.3 249.3 M1034.8 264.1 L1046.1 253.5 M1044.3 255.2 L1047.8 257.0 M1059.3 264.1 L1074.6 261.6 M1083.9 264.1 L1098.9 267.8 M126.2 296.1 L118.4 282.7 M150.8 296.1 L150.5 280.7 M150.5 283.2 L154.3 281.7 M175.3 296.1 L185.5 284.5 M199.9 296.1 L184.5 297.8 M224.4 296.1 L217.9 282.1 M218.9 284.4 L221.8 281.5 M249.0 296.1 L261.0 286.4 M259.1 288.0 L262.5 290.0 M273.5 296.1 L287.3 303.2 M285.1 302.1 L284.6 306.0 M298.1 296.1 L307.8 308.2 M306.3 306.3 L304.2 309.7 M322.6 296.1 L307.2 297.8 M347.2 296.1 L349.4 280.8 M349.0 283.3 L352.9 282.4 M371.8 296.1 L386.7 300.4 M384.3 299.7 L384.5 303.7 M396.3 296.1 L408.9 305.3 M406.8 303.8 L405.7 307.6 M420.9 296.1 L431.4 307.5 M429.7 305.7 L427.9 309.2 M445.4 296.1 L456.2 285.0 M454.5 286.8 L458.1 288.4 M470.0 296.1 L479.7 284.1 M494.5 296.1 L479.2 294.0 M519.1 296.1 L511.3 282.7 M512.6 284.9 L515.2 281.8 M543.7 296.1 L552.8 283.6 M551.3 285.6 L555.1 286.7 M568.2 296.1 L579.5 285.6 M577.7 287.3 L581.3 289.1 M592.8 296.1 L605.8 287.7 M617.3 296.1 L612.8 281.3 M613.5 283.7 L616.7 281.3 M641.9 296.1 L645.6 281.1 M645.0 283.5 L649.0 283.1 M666.4 296.1 L667.0 280.7 M691.0 296.1 L694.2 281.0 M693.7 283.4 L697.7 282.9 M715.5 296.1 L711.3 281.3 M712.0 283.7 L715.2 281.3 M740.1 296.1 L740.6 280.7 L748.2 278.2 M764.7 296.1 L772.4 282.7 M771.2 284.9 L775.1 285.6 M789.2 296.1 L798.1 283.5 L805.8 285.5 M813.8 296.1 L813.0 280.7 M813.1 283.2 L816.8 281.6 M838.3 296.1 L848.9 284.8 M847.2 286.6 L850.9 288.2 M862.9 296.1 L869.7 310.1 M887.4 296.1 L888.5 311.6 M912.0 296.1 L897.1 300.4 M936.5 296.1 L939.0 280.8 M938.6 283.3 L942.5 282.5 M961.1 296.1 L975.8 291.4 M973.5 292.1 L975.9 295.3 M985.7 296.1 L995.6 308.0 M1010.2 296.1 L1007.5 280.9 M1008.0 283.3 L1011.4 281.3 M1034.8 296.1 L1042.0 282.5 M1040.9 284.7 L1044.8 285.2 M1059.3 296.1 L1070.3 285.2 M1068.5 287.0 L1072.1 288.6 M126.2 328.2 L121.9 313.4 M122.6 315.8 L125.9 313.4 M150.8 328.2 L148.3 312.9 L155.3 309.1 M175.3 328.2 L175.6 312.8 M175.5 315.3 L179.3 313.9 M199.9 328.2 L203.6 313.2 M203.0 315.6 L207.0 315.2 M224.4 328.2 L219.9 313.4 M220.6 315.8 L223.8 313.4 M249.0 328.2 L252.5 313.1 L260.4 312.2 M273.5 328.2 L284.9 317.7 M283.0 319.4 L286.6 321.2 M298.1 328.2 L312.1 334.8 M309.9 333.7 L309.5 337.7 M322.6 328.2 L317.6 342.9 M347.2 328.2 L350.4 313.1 M349.9 315.5 L353.9 315.0 M371.8 328.2 L384.1 318.9 M382.1 320.4 L385.5 322.6 M396.3 328.2 L411.2 324.0 M420.9 328.2 L420.9 343.8 M445.4 328.2 L452.0 314.2 L459.9 314.9 M470.0 328.2 L476.0 314.0 L484.0 314.4 M494.5 328.2 L501.3 314.3 M500.2 316.6 L504.2 317.0 M519.1 328.2 L512.8 314.1 M513.8 316.4 L516.7 313.6 M543.7 328.2 L548.4 313.5 L556.4 313.2 M568.2 328.2 L573.3 313.6 L581.3 313.5 M592.8 328.2 L600.7 315.0 M599.5 317.1 L603.4 317.9 M617.3 328.2 L612.8 313.4 M613.5 315.8 L616.7 313.4 M641.9 328.2 L641.3 312.8 L648.8 309.8 M666.4 328.2 L668.3 312.9 L676.1 311.1 M691.0 328.2 L693.7 313.0 L701.6 311.6 M715.5 328.2 L712.6 313.0 L719.4 308.9 M740.1 328.2 L741.2 312.8 L748.9 310.6 M764.7 328.2 L768.9 313.4 L776.9 312.8 M789.2 328.2 L795.8 314.2 L803.7 314.9 M813.8 328.2 L811.1 313.0 M811.5 315.4 L815.0 313.4 M838.3 328.2 L840.2 312.9 M839.9 315.3 L843.8 314.4 M862.9 328.2 L869.7 314.3 M887.4 328.2 L902.8 326.1 M912.0 328.2 L915.7 343.3 M936.5 328.2 L930.2 314.1 M931.3 316.4 L934.1 313.6 M961.1 328.2 L963.5 312.9 M963.1 315.4 L967.1 314.6 M985.7 328.2 L991.2 313.8 M990.3 316.1 L994.3 316.2 M1010.2 328.2 L1010.2 312.8 M1010.2 315.2 L1014.0 313.9 M1034.8 328.2 L1040.3 313.8 L1048.3 313.9 M1059.3 328.2 L1066.6 314.6 L1074.5 315.7 M1083.9 328.2 L1092.3 315.3 M126.2 360.4 L124.0 345.0 L131.1 341.2 M150.8 360.4 L147.0 345.3 L153.6 340.8 M175.3 360.4 L173.2 345.0 L180.2 341.2 M199.9 360.4 L200.9 344.9 M200.8 347.4 L204.6 346.3 M224.4 360.4 L224.7 344.9 M224.7 347.4 L228.4 346.0 M249.0 360.4 L251.1 345.0 L259.0 343.3 M273.5 360.4 L277.0 345.2 L285.0 344.3 M298.1 360.4 L300.5 345.0 M300.1 347.5 L304.1 346.7 M322.6 360.4 L325.3 375.6 M347.2 360.4 L350.4 345.2 M349.9 347.6 L353.9 347.1 M371.8 360.4 L377.3 345.9 L385.3 346.0 M396.3 360.4 L399.3 345.1 M398.8 347.6 L402.7 347.0 M420.9 360.4 L413.8 374.2 M445.4 360.4 L446.2 344.9 L453.9 342.5 M470.0 360.4 L470.8 344.9 L478.4 342.5 M494.5 360.4 L495.9 344.9 M495.7 347.4 L499.5 346.4 M519.1 360.4 L518.6 344.9 M518.6 347.4 L522.4 345.9 M543.7 360.4 L542.8 344.9 L550.2 341.7 M568.2 360.4 L566.3 345.0 L573.4 341.3 M592.8 360.4 L594.1 344.9 L601.8 342.8 M617.3 360.4 L613.8 345.2 L620.5 340.9 M641.9 360.4 L641.1 344.9 L648.4 341.7 M641.2 348.4 L644.9 346.8 M666.4 360.4 L664.8 344.9 L672.0 341.4 M665.2 348.4 L668.8 346.7 M691.0 360.4 L689.4 344.9 L696.6 341.4 M689.7 348.4 L693.3 346.7 M715.5 360.4 L713.9 344.9 L721.1 341.4 M740.1 360.4 L739.6 344.9 L747.0 341.9 M739.7 348.4 L743.4 346.9 M764.7 360.4 L765.2 344.9 L772.8 342.4 M765.1 348.4 L768.9 347.1 M789.2 360.4 L790.8 344.9 L798.6 343.0 M790.5 348.4 L794.3 347.4 M813.8 360.4 L814.6 344.9 L822.2 342.5 M838.3 360.4 L839.1 344.9 L846.8 342.5 M862.9 360.4 L863.7 344.9 L871.3 342.5 M863.5 348.4 L867.3 347.2 M887.4 360.4 L888.2 344.9 M888.1 347.4 L891.9 346.2 M912.0 360.4 L924.2 369.9 M936.5 360.4 L927.7 347.7 M929.1 349.7 L931.4 346.4 M961.1 360.4 L958.9 345.0 L966.0 341.2 M985.7 360.4 L987.3 344.9 M987.0 347.4 L990.9 346.5 M1010.2 360.4 L1014.7 345.5 M1014.0 347.9 L1018.0 347.7 M1034.8 360.4 L1035.9 344.9 L1043.5 342.7 M1035.6 348.4 L1039.5 347.3 M1059.3 360.4 L1060.9 344.9 L1068.7 343.0 M1060.6 348.4 L1064.5 347.4 M1083.9 360.4 L1083.9 344.9 L1091.4 342.1 M126.2 376.4 L124.8 361.0 L132.1 357.6 M150.8 376.4 L147.3 361.3 L154.0 356.9 M175.3 376.4 L174.0 361.0 L181.2 357.6 M199.9 376.4 L199.6 360.9 L207.1 358.0 M224.4 376.4 L226.8 361.1 M226.5 363.6 L230.4 362.8 M249.0 376.4 L250.3 361.0 L258.1 358.9 M273.5 376.4 L274.9 361.0 L282.6 358.9 M298.1 376.4 L299.2 360.9 L306.9 358.7 M322.6 376.4 L327.4 391.1 M347.2 376.4 L349.4 361.1 M349.0 363.5 L352.9 362.7 M371.8 376.4 L374.5 361.1 L382.3 359.7 M396.3 376.4 L397.4 360.9 M397.2 363.4 L401.1 362.3 M420.9 376.4 L418.2 391.7 M445.4 376.4 L445.2 360.9 L452.6 358.0 M470.0 376.4 L469.4 360.9 L476.9 357.9 M494.5 376.4 L492.9 361.0 M493.2 363.5 L496.8 361.7 M519.1 376.4 L521.0 361.0 M520.7 363.5 L524.6 362.6 M543.7 376.4 L541.8 361.0 L548.9 357.4 M568.2 376.4 L564.7 361.3 L571.4 356.9 M592.8 376.4 L590.6 361.1 L597.7 357.3 M617.3 376.4 L615.2 361.1 L622.2 357.3 M641.9 376.4 L639.2 361.1 L646.1 357.1 M666.4 376.4 L663.7 361.1 L670.7 357.1 M691.0 376.4 L687.2 361.4 L693.9 356.9 M715.5 376.4 L715.0 360.9 M715.1 363.4 L718.8 361.9 M740.1 376.4 L737.9 361.1 L745.0 357.3 M764.7 376.4 L764.1 360.9 L771.5 357.9 M789.2 376.4 L789.5 360.9 L797.0 358.3 M813.8 376.4 L814.6 360.9 L822.2 358.6 M838.3 376.4 L838.6 360.9 L846.2 358.3 M862.9 376.4 L862.3 360.9 L869.8 357.9 M887.4 376.4 L886.6 360.9 L894.0 357.8 M912.0 376.4 L926.2 382.7 M923.9 381.7 L923.6 385.7 M936.5 376.4 L927.7 363.7 M929.1 365.8 L931.4 362.5 M961.1 376.4 L956.3 361.7 M957.1 364.0 L960.2 361.6 M985.7 376.4 L984.3 361.0 M984.5 363.4 L988.2 361.8 M1010.2 376.4 L1017.3 362.6 M1016.1 364.8 L1020.1 365.3 M1034.8 376.4 L1034.0 360.9 L1041.3 357.8 M1059.3 376.4 L1057.7 361.0 L1064.9 357.5 M1083.9 376.4 L1080.7 361.2 L1087.4 357.0 M126.2 392.5 L129.2 377.2 L137.1 376.0 M150.8 392.5 L146.0 377.7 L152.3 372.8 M175.3 392.5 L170.8 377.6 M171.5 380.0 L174.7 377.6 M199.9 392.5 L197.4 377.1 M197.8 379.6 L201.3 377.7 M224.4 392.5 L230.5 378.2 M229.5 380.5 L233.5 380.7 M249.0 392.5 L246.8 377.1 M247.2 379.6 L250.7 377.7 M273.5 392.5 L270.8 377.2 M271.3 379.6 L274.7 377.6 M298.1 392.5 L295.7 377.1 M296.1 379.6 L299.6 377.7 M322.6 392.5 L331.5 405.1 M347.2 392.5 L349.4 377.1 M349.0 379.6 L352.9 378.7 M371.8 392.5 L368.0 377.4 M368.6 379.8 L371.9 377.6 M396.3 392.5 L394.4 377.1 M394.7 379.5 L398.3 377.7 M420.9 392.5 L427.4 406.5 M445.4 392.5 L442.2 377.3 M442.7 379.7 L446.1 377.6 M470.0 392.5 L466.8 377.3 M467.3 379.7 L470.7 377.6 M494.5 392.5 L492.1 377.1 M492.5 379.6 L496.0 377.7 M519.1 392.5 L522.6 377.3 M522.0 379.8 L526.0 379.3 M543.7 392.5 L537.1 378.4 L542.8 372.7 M568.2 392.5 L561.9 378.3 L567.7 372.7 M592.8 392.5 L589.5 377.3 L596.3 373.0 M617.3 392.5 L616.2 377.0 L623.5 373.7 M641.9 392.5 L637.3 377.6 L643.7 372.8 M666.4 392.5 L660.9 378.0 L666.9 372.7 M691.0 392.5 L686.2 377.7 L692.5 372.8 M715.5 392.5 L716.6 377.0 L724.3 374.8 M740.1 392.5 L735.6 377.6 L742.0 372.8 M764.7 392.5 L759.4 377.9 L765.5 372.7 M789.2 392.5 L785.5 377.4 L792.1 372.9 M813.8 392.5 L816.5 377.2 M816.0 379.6 L820.0 379.0 M838.3 392.5 L839.1 377.0 L846.8 374.6 M862.9 392.5 L858.9 377.5 M859.5 379.9 L862.8 377.6 M887.4 392.5 L883.9 377.3 M884.5 379.8 L887.9 377.6 M912.0 392.5 L927.0 396.5 M924.5 395.8 L924.9 399.8 M936.5 392.5 L927.2 380.1 M928.7 382.1 L930.9 378.7 M961.1 392.5 L955.0 378.2 M956.0 380.5 L958.9 377.8 M985.7 392.5 L983.2 377.1 M983.6 379.6 L987.1 377.7 M1010.2 392.5 L1018.2 379.2 M1016.9 381.3 L1020.8 382.1 M1034.8 392.5 L1031.5 377.3 M1032.1 379.7 L1035.5 377.6 M1059.3 392.5 L1054.3 377.8 L1060.5 372.8 M1083.9 392.5 L1079.9 377.5 L1086.4 372.9 M126.2 408.5 L131.5 393.9 L139.5 393.9 M150.8 408.5 L146.0 393.8 L152.3 388.8 M175.3 408.5 L169.5 394.1 M170.4 396.4 L173.4 393.8 M199.9 408.5 L196.9 393.3 M197.4 395.7 L200.8 393.7 M224.4 408.5 L231.7 394.8 M230.5 397.0 L234.5 397.6 M249.0 408.5 L243.7 393.9 M244.5 396.3 L247.6 393.7 M273.5 408.5 L267.2 394.3 M268.2 396.6 L271.1 393.8 M298.1 408.5 L295.7 393.2 M296.1 395.7 L299.6 393.7 M322.6 408.5 L337.5 413.0 M347.2 408.5 L348.0 393.0 M371.8 408.5 L365.0 394.6 M366.1 396.8 L368.8 393.9 M396.3 408.5 L393.9 393.2 M394.3 395.7 L397.8 393.7 M420.9 408.5 L434.7 415.5 M432.5 414.4 L432.0 418.4 M445.4 408.5 L437.9 394.9 M439.1 397.1 L441.7 394.1 M470.0 408.5 L464.2 394.1 M465.1 396.4 L468.1 393.8 M494.5 408.5 L491.6 393.3 M492.1 395.7 L495.5 393.7 M519.1 408.5 L524.4 393.9 M523.5 396.3 L527.5 396.3 M543.7 408.5 L535.2 395.5 M536.6 397.6 L539.0 394.4 M568.2 408.5 L561.9 394.3 M562.9 396.6 L565.8 393.8 M592.8 408.5 L589.8 393.3 M590.3 395.7 L593.7 393.7 M617.3 408.5 L619.2 393.1 L627.0 391.3 M641.9 408.5 L635.8 394.2 L641.7 388.8 M666.4 408.5 L659.4 394.7 L664.9 388.8 M691.0 408.5 L684.2 394.6 L689.8 388.8 M715.5 408.5 L717.4 393.1 L725.2 391.3 M740.1 408.5 L733.1 394.7 L738.5 388.8 M764.7 408.5 L758.1 394.5 L763.8 388.8 M789.2 408.5 L785.5 393.5 L792.1 389.0 M813.8 408.5 L818.6 393.8 M817.8 396.1 L821.8 396.0 M838.3 408.5 L834.3 393.5 M835.0 395.9 L838.2 393.6 M862.9 408.5 L856.6 394.3 M857.6 396.6 L860.5 393.8 M887.4 408.5 L885.0 393.2 M885.4 395.7 L888.9 393.7 M912.0 408.5 L927.0 412.2 M924.6 411.6 L925.0 415.6 M936.5 408.5 L927.2 396.1 M928.7 398.1 L930.9 394.8 M961.1 408.5 L951.3 396.5 M952.9 398.4 L955.0 395.0 M985.7 408.5 L981.6 393.5 M982.3 395.9 L985.6 393.6 M1010.2 408.5 L1019.1 395.8 M1017.7 397.9 L1021.5 398.9 M1034.8 408.5 L1027.5 394.8 M1028.7 397.0 L1031.3 394.0 M1059.3 408.5 L1052.5 394.6 M1053.6 396.8 L1056.4 393.9 M1083.9 408.5 L1080.4 393.4 M1081.0 395.8 L1084.3 393.7 M126.2 424.6 L132.8 410.5 L140.7 411.2 M150.8 424.6 L145.5 410.0 M146.3 412.3 L149.4 409.8 M175.3 424.6 L169.0 410.4 M170.0 412.7 L172.9 409.9 M199.9 424.6 L197.2 409.3 M224.4 424.6 L234.0 412.3 M232.4 414.3 L236.2 415.5 M249.0 424.6 L239.9 412.0 M241.3 414.0 L243.6 410.7 M273.5 424.6 L264.0 412.3 M265.5 414.3 L267.7 410.9 M298.1 424.6 L296.5 409.1 M296.7 411.6 L300.3 409.9 M322.6 424.6 L338.1 425.6 M347.2 424.6 L348.0 409.1 M371.8 424.6 L361.2 413.2 M396.3 424.6 L395.2 409.1 M395.4 411.6 L399.1 410.0 M420.9 424.6 L436.3 426.2 M445.4 424.6 L437.0 411.6 M438.3 413.6 L440.8 410.5 M470.0 424.6 L463.2 410.6 M464.3 412.9 L467.1 410.0 M494.5 424.6 L495.4 409.1 M495.2 411.6 L499.0 410.4 M519.1 424.6 L528.0 411.9 M526.6 413.9 L530.4 414.9 M543.7 424.6 L533.5 412.9 M535.1 414.7 L537.1 411.2 M568.2 424.6 L563.9 409.7 M564.6 412.1 L567.9 409.7 M592.8 424.6 L592.0 409.1 M592.1 411.6 L595.8 410.0 M617.3 424.6 L620.5 409.4 L628.5 408.3 M641.9 424.6 L635.3 410.5 M636.4 412.8 L639.2 409.9 M666.4 424.6 L660.4 410.3 M661.4 412.6 L664.3 409.9 M691.0 424.6 L687.8 409.4 M688.3 411.8 L691.7 409.7 M715.5 424.6 L718.8 409.4 L726.7 408.3 M740.1 424.6 L733.1 410.7 M734.2 413.0 L736.9 410.0 M764.7 424.6 L756.2 411.6 M757.6 413.6 L760.0 410.5 M789.2 424.6 L786.3 409.3 M786.7 411.8 L790.2 409.7 M813.8 424.6 L820.6 410.6 M819.5 412.9 L823.4 413.3 M838.3 424.6 L831.5 410.6 M832.6 412.9 L835.4 410.0 M862.9 424.6 L853.6 412.2 M855.1 414.2 L857.2 410.8 M887.4 424.6 L885.0 409.2 M885.4 411.7 L888.9 409.8 M912.0 424.6 L927.5 424.6 M936.5 424.6 L929.8 410.6 M930.8 412.9 L933.6 410.0 M961.1 424.6 L950.0 413.8 M951.8 415.5 L953.4 411.9 M985.7 424.6 L982.4 409.4 M983.0 411.8 L986.3 409.7 M1010.2 424.6 L1021.0 413.4 M1019.2 415.2 L1022.9 416.8 M1034.8 424.6 L1024.4 413.0 M1026.1 414.9 L1028.0 411.4 M1059.3 424.6 L1049.8 412.3 M1051.3 414.3 L1053.4 410.9 M1083.9 424.6 L1080.9 409.3 M1081.4 411.8 L1084.8 409.7" fill="none" stroke="#111" stroke-width="1" stroke-linejoin="miter"/></g>
<g clip-path="url(#cm)">
<path d="M125.8 91.0 C129.4 91.0 142.8 91.2 148.0 91.0 C153.2 90.8 151.9 90.0 158.0 90.0 C164.1 90.0 175.8 89.9 186.0 91.0 C196.2 92.1 214.2 96.1 222.0 97.0 C229.8 97.9 230.1 97.4 235.0 96.4 C239.9 95.4 244.0 91.9 252.5 91.0 C261.0 90.1 277.0 90.4 288.0 90.5 C299.0 90.6 312.8 93.2 321.0 91.8 C329.2 90.4 332.9 85.1 339.0 81.6 C345.1 78.1 355.8 71.9 359.0 70.0" fill="none" stroke="#7a04d0" stroke-width="2.1" stroke-linejoin="round" stroke-linecap="round" />
<path d="M199.0 70.0 C200.6 70.5 205.8 72.2 209.0 73.0 C212.2 73.8 215.6 74.8 219.0 74.8 C222.4 74.8 226.6 73.8 230.0 73.0 C233.4 72.2 238.4 70.5 240.0 70.0" fill="none" stroke="#7a04d0" stroke-width="2.1" stroke-linejoin="round" stroke-linecap="round" />
<path d="M502.0 70.5 C503.6 70.7 508.3 71.5 512.0 71.5 C515.7 71.5 522.9 70.7 525.0 70.5" fill="none" stroke="#7a04d0" stroke-width="2.1" stroke-linejoin="round" stroke-linecap="round" />
<path d="M543.0 70.0 C544.9 70.4 551.0 71.9 555.0 72.5 C559.0 73.1 563.0 73.6 568.0 74.0 C573.0 74.4 581.2 75.4 586.0 75.3 C590.8 75.2 594.3 74.3 598.0 73.5 C601.7 72.7 607.2 70.6 609.0 70.0" fill="none" stroke="#7a04d0" stroke-width="2.1" stroke-linejoin="round" stroke-linecap="round" />
<path d="M655.0 71.5 L700.0 71.5" fill="none" stroke="#7a04d0" stroke-width="2.1" stroke-linejoin="round" stroke-linecap="round" />
<path d="M746.0 71.5 L762.0 71.5" fill="none" stroke="#7a04d0" stroke-width="2.1" stroke-linejoin="round" stroke-linecap="round" />
<path d="M873.0 71.5 L929.0 71.5" fill="none" stroke="#7a04d0" stroke-width="2.1" stroke-linejoin="round" stroke-linecap="round" />
<path d="M942.0 70.0 C944.5 70.8 951.7 73.6 957.4 74.8 C963.1 76.0 971.3 76.7 977.8 77.3 C984.3 77.9 992.3 78.6 998.0 78.3 C1003.7 78.0 1007.9 76.6 1013.4 75.3 C1018.9 74.0 1027.6 70.4 1032.5 70.2 C1037.4 70.0 1039.8 73.4 1044.0 74.0 C1048.2 74.6 1054.1 74.1 1059.0 74.0 C1063.9 73.9 1069.5 72.9 1074.5 73.2 C1079.5 73.5 1087.9 75.4 1090.5 75.8" fill="none" stroke="#7a04d0" stroke-width="2.1" stroke-linejoin="round" stroke-linecap="round" />
<path d="M125.8 117.3 C129.7 117.5 142.0 118.4 150.0 118.5 C158.0 118.6 168.6 117.8 176.0 118.0 C183.4 118.2 189.4 118.9 196.0 119.5 C202.6 120.1 210.0 121.3 217.0 121.6 C224.0 121.9 232.7 121.7 240.0 121.5 C247.3 121.3 255.0 120.8 262.7 120.6 C270.4 120.4 280.4 119.9 288.0 120.0 C295.6 120.1 303.9 121.2 310.0 121.5 C316.1 121.8 322.0 121.9 326.0 121.6 C330.0 121.3 332.1 120.6 335.0 119.5 C337.9 118.4 340.8 116.5 344.0 114.7 C347.2 112.9 351.7 110.0 355.0 108.0 C358.3 106.0 361.4 103.6 364.5 102.0 C367.6 100.4 370.5 98.7 374.6 98.2 C378.7 97.7 386.7 98.9 390.0 99.0 C393.3 99.1 392.1 99.4 395.0 98.7 C397.9 98.0 404.0 95.3 408.0 94.4 C412.0 93.5 416.3 93.4 420.0 93.0 C423.7 92.6 429.2 92.0 431.0 91.8" fill="none" stroke="#1e3cfc" stroke-width="2.1" stroke-linejoin="round" stroke-linecap="round" />
<path d="M461.4 91.8 C462.6 91.6 464.9 90.3 469.0 90.5 C473.1 90.7 480.9 91.4 487.0 93.0 C493.1 94.6 500.9 99.0 507.0 100.2 C513.1 101.4 519.2 101.0 525.0 100.7 C530.8 100.4 536.1 98.4 543.0 98.2 C549.9 98.0 560.7 98.5 568.0 99.4 C575.3 100.3 582.8 103.1 588.6 103.8 C594.4 104.5 598.3 104.3 604.0 103.8 C609.7 103.3 617.9 101.7 624.0 100.7 C630.1 99.7 637.8 97.6 642.0 97.4 C646.2 97.2 646.3 98.7 650.0 99.4 C653.7 100.1 659.7 101.6 665.0 102.0 C670.3 102.4 675.2 102.2 683.0 102.0 C690.8 101.8 706.7 100.5 713.6 100.7 C720.5 100.9 721.9 103.4 726.0 103.3 C730.1 103.2 733.2 100.0 739.0 100.0 C744.8 100.0 754.6 103.5 762.0 103.3 C769.4 103.1 778.5 99.1 785.0 99.0 C791.5 98.9 796.2 102.5 802.7 102.7 C809.2 102.9 821.9 100.4 825.6 100.0" fill="none" stroke="#1e3cfc" stroke-width="2.1" stroke-linejoin="round" stroke-linecap="round" />
<path d="M853.6 99.0 C856.4 99.0 864.9 98.5 871.4 99.0 C877.9 99.5 887.6 101.1 894.0 102.0 C900.4 102.9 904.3 104.2 911.6 104.5 C918.9 104.8 931.5 103.6 939.6 103.8 C947.7 104.0 955.6 104.7 962.5 105.8 C969.4 106.9 976.3 109.7 982.8 110.9 C989.3 112.1 997.1 112.5 1003.2 113.0 C1009.3 113.5 1015.3 114.4 1021.0 114.2 C1026.7 114.0 1031.9 112.5 1038.8 111.7 C1045.7 110.9 1056.0 109.4 1064.3 109.0 C1072.6 108.6 1086.3 108.9 1090.5 108.9" fill="none" stroke="#1e3cfc" stroke-width="2.1" stroke-linejoin="round" stroke-linecap="round" />
<path d="M125.8 147.3 C127.3 147.5 131.8 148.3 135.0 148.5 C138.2 148.7 142.2 148.8 145.6 148.5 C149.0 148.2 152.7 147.0 156.0 146.5 C159.3 146.0 162.2 145.4 166.0 145.2 C169.8 145.0 175.1 145.2 180.0 145.5 C184.9 145.8 192.5 146.4 196.5 147.0 C200.5 147.6 202.6 148.3 205.0 149.0 C207.4 149.7 208.6 151.2 211.8 151.6 C215.0 152.0 221.0 151.6 225.0 151.5 C229.0 151.4 232.6 151.3 237.0 151.0 C241.4 150.7 250.0 149.8 252.5 149.6" fill="none" stroke="#000" stroke-width="3.0" stroke-linejoin="round" stroke-linecap="round" />
<path d="M273.0 149.6 C275.7 149.7 285.2 149.9 290.0 150.0 C294.8 150.1 298.5 150.1 303.0 150.3 C307.5 150.5 313.5 150.8 318.0 151.0 C322.5 151.2 327.5 151.7 331.0 151.6 C334.5 151.5 337.5 150.9 340.0 150.5 C342.5 150.1 343.7 149.5 346.6 149.0 C349.5 148.5 354.3 147.9 358.0 147.5 C361.7 147.1 366.6 146.5 369.5 146.5 C372.4 146.5 374.0 147.2 376.0 147.5 C378.0 147.8 380.4 148.4 382.0 148.3 C383.6 148.2 384.7 147.5 386.0 147.0 C387.3 146.5 388.1 146.2 390.0 145.2 C391.9 144.2 395.5 142.6 398.0 141.0 C400.5 139.4 403.0 136.6 405.4 135.0 C407.8 133.4 410.6 132.0 413.0 131.0 C415.4 130.0 417.4 129.6 420.7 128.7 C424.0 127.8 430.5 126.6 433.4 125.6 C436.3 124.6 437.1 123.6 439.0 122.5 C440.9 121.4 443.1 118.4 445.0 118.5 C446.9 118.6 449.0 121.4 451.0 123.0 C453.0 124.6 455.7 127.9 457.6 128.2 C459.5 128.5 461.2 126.0 463.0 125.0 C464.8 124.0 465.6 122.3 469.0 121.8 C472.4 121.3 479.8 121.3 484.3 121.8 C488.8 122.3 493.4 123.6 497.0 124.9 C500.6 126.2 505.4 129.2 507.0 130.0" fill="none" stroke="#000" stroke-width="3.0" stroke-linejoin="round" stroke-linecap="round" />
<path d="M530.0 131.2 C531.0 130.9 533.9 130.0 536.0 129.5 C538.1 129.0 540.0 128.6 543.0 128.2 C546.0 127.8 551.4 127.5 555.0 127.3 C558.6 127.1 562.8 126.6 565.8 127.0 C568.8 127.4 571.2 128.6 574.0 129.5 C576.8 130.4 580.1 131.9 583.6 132.5 C587.1 133.1 591.9 133.2 596.0 133.5 C600.1 133.8 604.7 134.4 609.0 134.3 C613.3 134.2 618.5 133.5 623.0 133.0 C627.5 132.5 632.7 131.1 637.0 131.2 C641.3 131.3 645.5 133.2 650.0 133.5 C654.5 133.8 660.1 133.2 665.0 133.3 C669.9 133.4 674.7 134.1 680.5 134.3 C686.3 134.5 695.6 134.0 701.0 134.3 C706.4 134.6 710.0 135.5 714.0 136.0 C718.0 136.5 722.5 137.6 726.0 137.6 C729.5 137.6 732.7 136.5 736.0 136.0 C739.3 135.5 743.5 134.2 746.7 134.3 C749.9 134.4 753.2 135.8 756.0 136.5 C758.8 137.2 761.3 138.4 764.5 138.9 C767.7 139.4 772.3 139.3 776.0 139.5 C779.7 139.7 784.5 139.6 787.4 140.0 C790.3 140.4 792.0 141.4 794.0 142.0 C796.0 142.6 797.0 143.6 800.0 144.0 C803.0 144.4 808.9 144.4 813.0 144.5 C817.1 144.6 821.6 144.9 825.6 144.5 C829.6 144.1 834.2 142.5 838.3 142.0 C842.4 141.5 848.2 141.8 851.0 141.4 C853.8 141.0 854.4 140.2 856.0 139.5 C857.6 138.8 858.8 137.2 861.0 137.0 C863.2 136.8 867.1 137.6 870.0 138.0 C872.9 138.4 876.0 138.9 879.0 139.4 C882.0 139.9 887.4 140.7 889.0 141.0" fill="none" stroke="#000" stroke-width="3.0" stroke-linejoin="round" stroke-linecap="round" />
<path d="M911.0 140.0 C913.5 140.3 919.5 141.7 926.9 142.0 C934.3 142.3 948.5 142.1 957.4 142.0 C966.3 141.9 974.7 141.4 982.8 141.4 C990.9 141.4 1001.8 141.7 1008.3 142.2 C1014.8 142.7 1019.1 144.3 1023.6 144.5 C1028.1 144.7 1032.6 143.2 1036.3 143.5 C1040.0 143.8 1042.4 146.4 1046.5 146.5 C1050.6 146.6 1054.7 144.5 1061.7 144.0 C1068.7 143.5 1085.9 143.6 1090.5 143.5" fill="none" stroke="#000" stroke-width="3.0" stroke-linejoin="round" stroke-linecap="round" />
<path d="M125.8 147.3 C127.3 147.5 131.8 148.3 135.0 148.5 C138.2 148.7 142.2 148.8 145.6 148.5 C149.0 148.2 152.7 147.0 156.0 146.5 C159.3 146.0 162.2 145.4 166.0 145.2 C169.8 145.0 175.1 145.2 180.0 145.5 C184.9 145.8 192.5 146.4 196.5 147.0 C200.5 147.6 202.6 148.3 205.0 149.0 C207.4 149.7 208.6 151.2 211.8 151.6 C215.0 152.0 221.0 151.6 225.0 151.5 C229.0 151.4 232.6 151.3 237.0 151.0 C241.4 150.7 250.0 149.8 252.5 149.6" fill="none" stroke="#fff" stroke-width="1.0" stroke-linejoin="round" stroke-linecap="round" />
<path d="M273.0 149.6 C275.7 149.7 285.2 149.9 290.0 150.0 C294.8 150.1 298.5 150.1 303.0 150.3 C307.5 150.5 313.5 150.8 318.0 151.0 C322.5 151.2 327.5 151.7 331.0 151.6 C334.5 151.5 337.5 150.9 340.0 150.5 C342.5 150.1 343.7 149.5 346.6 149.0 C349.5 148.5 354.3 147.9 358.0 147.5 C361.7 147.1 366.6 146.5 369.5 146.5 C372.4 146.5 374.0 147.2 376.0 147.5 C378.0 147.8 380.4 148.4 382.0 148.3 C383.6 148.2 384.7 147.5 386.0 147.0 C387.3 146.5 388.1 146.2 390.0 145.2 C391.9 144.2 395.5 142.6 398.0 141.0 C400.5 139.4 403.0 136.6 405.4 135.0 C407.8 133.4 410.6 132.0 413.0 131.0 C415.4 130.0 417.4 129.6 420.7 128.7 C424.0 127.8 430.5 126.6 433.4 125.6 C436.3 124.6 437.1 123.6 439.0 122.5 C440.9 121.4 443.1 118.4 445.0 118.5 C446.9 118.6 449.0 121.4 451.0 123.0 C453.0 124.6 455.7 127.9 457.6 128.2 C459.5 128.5 461.2 126.0 463.0 125.0 C464.8 124.0 465.6 122.3 469.0 121.8 C472.4 121.3 479.8 121.3 484.3 121.8 C488.8 122.3 493.4 123.6 497.0 124.9 C500.6 126.2 505.4 129.2 507.0 130.0" fill="none" stroke="#fff" stroke-width="1.0" stroke-linejoin="round" stroke-linecap="round" />
<path d="M530.0 131.2 C531.0 130.9 533.9 130.0 536.0 129.5 C538.1 129.0 540.0 128.6 543.0 128.2 C546.0 127.8 551.4 127.5 555.0 127.3 C558.6 127.1 562.8 126.6 565.8 127.0 C568.8 127.4 571.2 128.6 574.0 129.5 C576.8 130.4 580.1 131.9 583.6 132.5 C587.1 133.1 591.9 133.2 596.0 133.5 C600.1 133.8 604.7 134.4 609.0 134.3 C613.3 134.2 618.5 133.5 623.0 133.0 C627.5 132.5 632.7 131.1 637.0 131.2 C641.3 131.3 645.5 133.2 650.0 133.5 C654.5 133.8 660.1 133.2 665.0 133.3 C669.9 133.4 674.7 134.1 680.5 134.3 C686.3 134.5 695.6 134.0 701.0 134.3 C706.4 134.6 710.0 135.5 714.0 136.0 C718.0 136.5 722.5 137.6 726.0 137.6 C729.5 137.6 732.7 136.5 736.0 136.0 C739.3 135.5 743.5 134.2 746.7 134.3 C749.9 134.4 753.2 135.8 756.0 136.5 C758.8 137.2 761.3 138.4 764.5 138.9 C767.7 139.4 772.3 139.3 776.0 139.5 C779.7 139.7 784.5 139.6 787.4 140.0 C790.3 140.4 792.0 141.4 794.0 142.0 C796.0 142.6 797.0 143.6 800.0 144.0 C803.0 144.4 808.9 144.4 813.0 144.5 C817.1 144.6 821.6 144.9 825.6 144.5 C829.6 144.1 834.2 142.5 838.3 142.0 C842.4 141.5 848.2 141.8 851.0 141.4 C853.8 141.0 854.4 140.2 856.0 139.5 C857.6 138.8 858.8 137.2 861.0 137.0 C863.2 136.8 867.1 137.6 870.0 138.0 C872.9 138.4 876.0 138.9 879.0 139.4 C882.0 139.9 887.4 140.7 889.0 141.0" fill="none" stroke="#fff" stroke-width="1.0" stroke-linejoin="round" stroke-linecap="round" />
<path d="M911.0 140.0 C913.5 140.3 919.5 141.7 926.9 142.0 C934.3 142.3 948.5 142.1 957.4 142.0 C966.3 141.9 974.7 141.4 982.8 141.4 C990.9 141.4 1001.8 141.7 1008.3 142.2 C1014.8 142.7 1019.1 144.3 1023.6 144.5 C1028.1 144.7 1032.6 143.2 1036.3 143.5 C1040.0 143.8 1042.4 146.4 1046.5 146.5 C1050.6 146.6 1054.7 144.5 1061.7 144.0 C1068.7 143.5 1085.9 143.6 1090.5 143.5" fill="none" stroke="#fff" stroke-width="1.0" stroke-linejoin="round" stroke-linecap="round" />
<path d="M125.8 177.8 C126.5 178.2 128.5 179.7 130.0 180.5 C131.5 181.3 133.0 182.2 135.4 182.6 C137.8 183.0 141.7 183.0 145.0 183.0 C148.3 183.0 152.6 182.9 155.8 182.6 C159.0 182.3 162.2 181.6 165.0 181.0 C167.8 180.4 170.9 179.3 173.6 179.0 C176.3 178.7 179.2 178.8 182.0 179.0 C184.8 179.2 188.4 179.3 191.4 180.0 C194.4 180.7 197.7 182.3 201.0 183.5 C204.3 184.7 207.4 187.0 211.8 187.7 C216.2 188.4 225.7 187.7 228.3 187.7" fill="none" stroke="#0a96fc" stroke-width="2.1" stroke-linejoin="round" stroke-linecap="round" />
<path d="M246.0 188.5 C247.3 188.2 251.3 187.1 254.0 186.5 C256.7 185.9 260.1 184.8 262.7 184.7 C265.3 184.6 267.6 185.6 270.0 186.0 C272.4 186.4 275.1 186.9 278.0 187.2 C280.9 187.5 284.8 187.8 288.0 188.0 C291.2 188.2 295.1 188.7 298.3 188.5 C301.5 188.3 304.8 187.6 308.0 187.0 C311.2 186.4 315.4 184.5 318.6 184.7 C321.8 184.9 324.7 186.8 328.0 188.0 C331.3 189.2 336.0 191.3 339.0 192.3 C342.0 193.3 344.0 194.3 346.6 194.3 C349.2 194.3 352.1 192.8 355.0 192.0 C357.9 191.2 361.0 190.1 364.5 189.3 C368.0 188.5 372.9 187.8 377.0 187.3 C381.1 186.8 385.5 186.4 390.0 186.0 C394.5 185.6 400.5 184.7 405.4 184.7 C410.3 184.7 417.2 185.4 420.7 186.0 C424.2 186.6 425.0 187.6 427.0 188.5 C429.0 189.4 431.4 192.0 433.4 191.8 C435.4 191.6 438.4 189.2 439.8 187.2 C441.2 185.2 441.6 183.3 442.3 179.6 C443.0 175.9 443.6 165.4 444.4 163.8 C445.2 162.2 446.2 167.8 447.4 169.4 C448.6 171.0 450.4 172.3 452.0 173.5 C453.6 174.7 455.7 176.8 457.6 177.0 C459.5 177.2 461.8 175.5 464.0 174.5 C466.2 173.5 469.0 171.9 471.6 170.7 C474.2 169.5 477.2 168.2 480.0 167.0 C482.8 165.8 486.5 163.6 489.4 163.0 C492.3 162.4 495.5 162.5 498.3 163.0 C501.1 163.5 503.1 166.0 507.0 166.4 C510.9 166.8 516.7 166.1 522.5 165.6 C528.3 165.1 537.6 163.6 543.0 163.0 C548.4 162.4 552.0 162.3 556.0 162.0 C560.0 161.7 565.6 161.0 568.3 161.0 C571.0 161.0 571.4 161.5 573.0 162.0 C574.6 162.5 576.3 163.7 578.5 164.3 C580.7 164.9 584.2 165.2 587.0 165.5 C589.8 165.8 592.8 166.0 596.3 166.4 C599.8 166.8 605.8 167.2 609.0 168.0 C612.2 168.8 614.4 171.2 616.6 171.5 C618.8 171.8 621.0 170.6 623.0 170.0 C625.0 169.4 627.3 168.0 629.4 168.0 C631.5 168.0 634.0 169.4 636.0 170.0 C638.0 170.6 639.8 172.3 642.0 172.0 C644.2 171.7 646.8 168.6 649.7 168.0 C652.6 167.4 657.6 167.8 660.0 168.0 C662.4 168.2 661.3 168.6 665.0 169.0 C668.7 169.4 677.7 170.0 683.0 170.7 C688.3 171.4 693.1 172.6 698.0 173.5 C702.9 174.4 708.6 176.0 713.6 176.5 C718.6 177.0 724.9 175.7 729.0 176.5 C733.1 177.3 733.7 180.7 739.0 181.6 C744.3 182.5 756.2 181.7 762.0 182.0 C767.8 182.3 770.9 183.1 775.0 183.5 C779.1 183.9 782.6 184.6 787.4 184.7 C792.2 184.8 800.5 183.7 805.0 184.0 C809.5 184.3 812.1 185.4 815.4 186.7 C818.7 188.0 822.9 191.9 825.6 192.3 C828.3 192.7 830.0 189.9 832.0 189.0 C834.0 188.1 835.7 186.8 838.3 186.7 C840.9 186.6 845.5 187.7 848.5 188.5 C851.5 189.3 854.2 190.6 857.0 191.5 C859.8 192.4 862.0 193.7 866.3 194.3 C870.6 194.9 880.4 195.6 884.0 195.4 C887.6 195.2 887.4 193.9 889.0 193.0 C890.6 192.1 892.7 190.5 894.3 189.8 C895.9 189.1 896.6 188.9 899.0 188.5 C901.4 188.1 906.4 187.0 909.0 187.2 C911.6 187.4 913.0 188.7 915.0 189.5 C917.0 190.3 919.6 191.3 921.8 192.3 C924.0 193.3 926.6 194.8 929.0 196.0 C931.4 197.2 935.1 199.8 937.0 200.0 C938.9 200.2 940.4 197.8 941.0 197.4" fill="none" stroke="#0a96fc" stroke-width="2.1" stroke-linejoin="round" stroke-linecap="round" />
<path d="M957.4 194.9 C958.6 195.0 962.6 195.3 965.0 195.3 C967.4 195.3 970.5 195.7 972.7 194.9 C974.9 194.1 977.0 191.7 979.0 190.0 C981.0 188.3 982.5 185.3 985.4 184.0 C988.3 182.7 993.3 182.5 997.0 182.0 C1000.7 181.5 1005.3 180.4 1008.3 180.9 C1011.3 181.4 1013.6 183.6 1016.0 185.0 C1018.4 186.4 1021.4 189.4 1023.6 189.8 C1025.8 190.2 1028.0 188.1 1030.0 187.5 C1032.0 186.9 1033.7 185.8 1036.3 186.0 C1038.9 186.2 1043.5 188.5 1046.5 188.5 C1049.5 188.5 1052.2 186.8 1055.0 186.0 C1057.8 185.2 1060.0 184.4 1064.3 183.4 C1068.6 182.4 1077.8 180.0 1082.0 179.6 C1086.2 179.2 1089.1 180.7 1090.5 180.9" fill="none" stroke="#0a96fc" stroke-width="2.1" stroke-linejoin="round" stroke-linecap="round" />
<path d="M125.8 214.0 C127.1 214.6 131.2 216.6 134.0 218.0 C136.8 219.4 140.0 221.0 143.0 222.8 C146.0 224.6 149.7 227.0 153.0 229.0 C156.3 231.0 160.8 234.6 163.4 235.6 C166.0 236.6 167.0 235.7 169.0 235.5 C171.0 235.3 172.6 234.5 176.0 234.5 C179.4 234.5 185.1 235.4 190.0 235.8 C194.9 236.2 202.5 236.3 206.7 236.8 C210.9 237.3 213.2 238.3 216.0 239.0 C218.8 239.7 222.4 240.8 224.5 241.0 C226.6 241.2 227.4 240.3 229.0 240.0 C230.6 239.7 232.5 238.8 234.7 239.4 C236.9 240.0 240.2 242.4 243.0 244.0 C245.8 245.6 249.3 248.3 252.5 249.6 C255.7 250.9 260.1 251.9 262.7 252.2 C265.3 252.5 267.0 251.4 269.0 251.2 C271.0 251.0 273.5 250.5 275.4 250.7 C277.3 250.9 279.0 251.8 281.0 252.5 C283.0 253.2 285.6 254.4 288.0 254.8 C290.4 255.2 293.5 254.9 296.0 254.8 C298.5 254.7 301.5 254.4 303.4 254.0 C305.3 253.6 306.4 253.1 308.0 252.5 C309.6 251.9 311.8 251.2 313.6 250.2 C315.4 249.2 317.4 247.6 319.0 246.0 C320.6 244.4 322.9 241.0 323.7 240.0" fill="none" stroke="#04c4cc" stroke-width="2.1" stroke-linejoin="round" stroke-linecap="round" />
<path d="M346.6 240.7 C347.9 240.5 352.1 239.6 355.0 239.2 C357.9 238.8 361.8 238.1 364.5 238.0 C367.2 237.9 369.5 238.3 372.0 238.5 C374.5 238.7 376.8 239.4 380.0 239.4 C383.2 239.4 387.9 238.7 392.0 238.3 C396.1 237.9 401.7 237.8 405.4 236.8 C409.1 235.8 411.7 233.6 415.0 232.0 C418.3 230.4 422.8 227.4 425.8 226.7 C428.8 226.0 431.2 227.1 434.0 227.5 C436.8 227.9 440.9 229.0 443.6 229.2 C446.3 229.4 448.6 228.7 451.0 228.5 C453.4 228.3 455.7 227.4 458.9 228.0 C462.1 228.6 466.9 230.9 471.0 232.5 C475.1 234.1 481.4 237.6 484.3 238.0 C487.2 238.4 487.4 236.1 489.0 235.0 C490.6 233.9 492.7 232.6 494.5 231.0 C496.3 229.4 498.0 226.9 500.0 225.0 C502.0 223.1 505.1 220.4 507.0 219.0 C508.9 217.6 510.1 216.8 512.0 216.0 C513.9 215.2 516.8 213.9 518.7 214.0 C520.6 214.1 522.2 215.6 524.0 216.5 C525.8 217.4 528.1 219.6 530.0 219.8 C531.9 220.0 533.9 218.2 536.0 217.5 C538.1 216.8 541.1 215.5 543.0 215.7 C544.9 215.9 546.4 217.4 548.0 218.5 C549.6 219.6 551.1 221.4 553.0 222.8 C554.9 224.2 557.6 225.9 560.0 227.5 C562.4 229.1 566.2 231.7 568.3 232.5 C570.4 233.3 571.4 232.6 573.0 232.5 C574.6 232.4 577.1 232.5 578.5 231.8 C579.9 231.1 580.8 229.4 582.0 228.0 C583.2 226.6 584.6 224.4 586.0 222.8 C587.4 221.2 589.4 219.3 591.0 218.0 C592.6 216.7 594.5 215.2 596.3 214.7 C598.1 214.2 600.0 214.5 602.0 214.7 C604.0 214.9 606.0 215.0 609.0 215.7 C612.0 216.4 616.9 217.9 621.0 219.0 C625.1 220.1 629.9 221.5 634.5 222.8 C639.1 224.1 645.6 226.2 650.0 227.4 C654.4 228.6 657.9 229.6 662.0 230.5 C666.1 231.4 671.2 232.3 675.4 233.0 C679.6 233.7 683.9 234.6 688.0 235.0 C692.1 235.4 697.2 236.1 701.0 235.6 C704.8 235.1 708.4 233.2 712.0 232.0 C715.6 230.8 720.9 228.5 723.8 228.0 C726.7 227.5 728.0 228.5 730.0 229.0 C732.0 229.5 734.3 230.1 736.5 231.0 C738.7 231.9 741.6 233.4 744.0 234.5 C746.4 235.6 749.2 237.0 751.8 238.0 C754.4 239.0 757.2 240.2 760.0 241.0 C762.8 241.8 766.7 242.5 769.6 243.0 C772.5 243.5 775.2 244.1 778.0 244.3 C780.8 244.5 784.7 244.8 787.4 244.5 C790.1 244.2 792.6 243.3 795.0 242.5 C797.4 241.7 799.8 240.0 802.7 239.4 C805.6 238.8 811.4 239.0 813.0 238.9" fill="none" stroke="#04c4cc" stroke-width="2.1" stroke-linejoin="round" stroke-linecap="round" />
<path d="M836.5 239.4 C837.4 239.0 840.2 237.6 842.0 237.0 C843.8 236.4 846.1 235.4 848.0 235.6 C849.9 235.8 852.0 237.5 854.0 238.5 C856.0 239.5 858.1 241.0 860.7 242.0 C863.3 243.0 866.8 243.9 870.0 244.5 C873.2 245.1 878.0 245.6 881.0 245.8 C884.0 246.0 886.4 246.3 889.0 245.5 C891.6 244.7 894.2 242.1 897.0 240.5 C899.8 238.9 903.1 236.4 906.5 235.6 C909.9 234.8 913.9 235.5 918.0 235.5 C922.1 235.5 928.3 235.8 932.0 235.6 C935.7 235.4 938.2 234.6 941.0 234.3 C943.8 234.0 946.6 233.2 949.8 233.5 C953.0 233.8 957.3 235.3 961.0 236.0 C964.7 236.7 968.1 238.2 972.7 238.0 C977.3 237.8 984.3 235.6 990.0 234.5 C995.7 233.4 1004.6 231.9 1008.3 231.0 C1012.0 230.1 1011.4 229.8 1013.0 229.0 C1014.6 228.2 1016.3 226.4 1018.5 226.0 C1020.7 225.6 1024.2 226.2 1027.0 226.3 C1029.8 226.4 1032.6 226.8 1036.3 226.7 C1040.0 226.6 1045.5 225.9 1050.0 225.5 C1054.5 225.1 1059.8 224.6 1064.3 224.0 C1068.8 223.4 1073.8 222.7 1078.0 222.0 C1082.2 221.3 1088.5 220.2 1090.5 219.8" fill="none" stroke="#04c4cc" stroke-width="2.1" stroke-linejoin="round" stroke-linecap="round" />
<path d="M125.8 287.8 C127.8 287.7 135.2 288.1 138.0 287.3 C140.8 286.5 141.4 284.0 143.0 282.5 C144.6 281.0 146.4 278.2 148.2 277.7 C150.0 277.2 152.0 278.8 154.0 279.5 C156.0 280.2 158.8 280.7 161.0 282.0 C163.2 283.3 165.6 285.6 168.0 287.5 C170.4 289.4 173.8 292.5 176.0 294.0 C178.2 295.5 179.9 296.1 182.0 297.0 C184.1 297.9 186.3 298.7 189.0 299.8 C191.7 300.9 196.4 303.4 199.0 303.6 C201.6 303.8 203.0 302.0 205.0 301.0 C207.0 300.0 209.9 298.4 211.8 297.3 C213.7 296.2 215.4 295.0 217.0 294.0 C218.6 293.0 220.4 291.8 222.0 291.0 C223.6 290.2 225.4 289.5 227.0 289.0 C228.6 288.5 229.6 288.0 232.0 287.8 C234.4 287.6 238.7 287.8 242.0 287.8 C245.3 287.8 249.5 287.9 252.5 287.8 C255.5 287.7 258.2 287.2 261.0 287.0 C263.8 286.8 267.4 286.4 270.3 286.6 C273.2 286.8 276.2 288.0 279.0 288.5 C281.8 289.0 285.3 289.7 288.0 290.0 C290.7 290.3 293.5 290.3 296.0 290.3 C298.5 290.3 301.2 290.3 303.4 290.0 C305.6 289.7 308.0 289.0 310.0 288.3 C312.0 287.6 313.8 287.0 316.0 285.8 C318.2 284.6 322.5 281.5 323.7 280.7" fill="none" stroke="#04c686" stroke-width="2.1" stroke-linejoin="round" stroke-linecap="round" />
<path d="M346.6 273.6 C347.3 273.4 349.4 272.8 351.0 272.5 C352.6 272.2 354.7 271.8 356.8 271.8 C358.9 271.8 361.6 272.2 364.0 272.5 C366.4 272.8 369.4 273.3 372.0 273.6 C374.6 273.9 376.3 274.3 380.0 274.4 C383.7 274.5 390.8 274.8 395.3 274.4 C399.8 274.0 405.0 272.7 408.0 271.8 C411.0 270.9 412.0 270.0 414.0 269.0 C416.0 268.0 418.8 266.6 420.7 265.4 C422.6 264.2 424.2 262.8 426.0 261.5 C427.8 260.2 430.4 257.2 432.2 257.3 C434.0 257.4 435.4 260.5 437.0 262.0 C438.6 263.5 440.4 266.2 442.3 266.7 C444.2 267.2 446.8 265.5 449.0 265.0 C451.2 264.5 454.2 263.6 456.3 263.4 C458.4 263.2 460.0 263.7 462.0 264.0 C464.0 264.3 466.9 264.8 469.0 265.4 C471.1 266.0 473.0 267.2 475.0 268.0 C477.0 268.8 478.7 270.2 481.8 270.5 C484.9 270.8 491.4 270.4 494.5 270.0 C497.6 269.6 499.0 268.7 501.0 268.0 C503.0 267.3 505.3 266.2 507.2 265.4 C509.1 264.6 511.2 263.7 513.0 263.0 C514.8 262.3 516.8 261.0 518.7 260.9 C520.6 260.8 523.0 262.0 525.0 262.5 C527.0 263.0 529.5 264.2 531.4 264.2 C533.3 264.2 535.2 263.0 537.0 262.5 C538.8 262.0 540.7 260.8 542.8 260.9 C544.9 261.0 547.6 262.3 550.0 263.0 C552.4 263.7 555.4 264.6 558.0 265.4 C560.6 266.2 563.5 267.2 566.0 268.0 C568.5 268.8 571.2 269.9 573.4 270.5 C575.6 271.1 578.0 271.6 580.0 272.0 C582.0 272.4 584.1 273.0 586.0 273.0 C587.9 273.0 590.0 272.5 592.0 272.0 C594.0 271.5 596.9 270.7 598.8 270.0 C600.7 269.3 602.4 268.4 604.0 267.5 C605.6 266.6 607.6 265.2 609.0 264.2 C610.4 263.2 611.8 261.9 613.0 261.0 C614.2 260.1 614.0 258.9 616.6 258.6 C619.2 258.3 625.3 258.7 629.4 259.0 C633.5 259.3 639.2 259.8 642.0 260.4 C644.8 261.0 645.4 261.7 647.0 262.5 C648.6 263.3 650.7 264.7 652.3 265.4 C653.9 266.1 655.3 266.4 657.0 267.0 C658.7 267.6 660.5 268.6 662.7 269.3 C664.9 270.0 668.2 270.7 671.0 271.3 C673.8 271.9 677.6 272.5 680.5 273.0 C683.4 273.5 686.2 274.0 689.0 274.3 C691.8 274.6 694.1 275.1 698.3 275.0 C702.5 274.9 712.3 273.8 715.0 273.6" fill="none" stroke="#04c686" stroke-width="2.1" stroke-linejoin="round" stroke-linecap="round" />
<path d="M740.3 271.8 C741.4 272.0 744.8 272.6 747.0 273.0 C749.2 273.4 751.9 273.8 754.3 274.4 C756.7 275.0 759.6 276.0 762.0 276.8 C764.4 277.6 767.0 278.6 769.6 279.4 C772.2 280.2 775.2 280.9 778.0 281.5 C780.8 282.1 784.7 283.2 787.4 283.3 C790.1 283.4 792.6 282.7 795.0 282.3 C797.4 281.9 800.5 281.2 802.7 280.7 C804.9 280.2 807.0 279.6 809.0 279.0 C811.0 278.4 813.6 277.6 815.4 277.0 C817.2 276.4 818.4 275.6 820.0 275.0 C821.6 274.4 823.7 273.2 825.6 273.0 C827.5 272.8 830.0 273.7 832.0 274.0 C834.0 274.3 835.3 274.8 838.3 274.9 C841.3 275.0 848.0 274.2 851.0 274.4 C854.0 274.6 855.0 275.4 857.0 276.0 C859.0 276.6 861.5 277.7 863.7 278.2 C865.9 278.7 868.2 279.1 871.0 279.4 C873.8 279.7 878.1 280.2 881.0 280.2 C883.9 280.2 886.6 279.8 889.0 279.5 C891.4 279.2 894.1 279.0 896.3 278.2 C898.5 277.4 901.0 275.7 903.0 274.5 C905.0 273.3 907.1 271.6 909.0 270.5 C910.9 269.4 913.0 268.3 915.0 267.5 C917.0 266.7 919.7 265.5 921.8 265.4 C923.9 265.3 926.0 266.3 928.0 266.8 C930.0 267.3 932.1 268.4 934.5 268.5 C936.9 268.6 940.2 267.8 943.0 267.6 C945.8 267.4 949.6 266.9 952.3 267.0 C955.0 267.1 957.6 267.8 960.0 268.2 C962.4 268.6 964.0 269.0 967.6 269.3 C971.2 269.6 979.2 270.1 982.8 270.0 C986.4 269.9 987.6 269.0 990.0 268.5 C992.4 268.0 995.8 267.3 998.0 266.7 C1000.2 266.1 1002.0 265.6 1004.0 265.0 C1006.0 264.4 1008.9 263.7 1010.8 263.0 C1012.7 262.3 1014.4 261.3 1016.0 260.5 C1017.6 259.7 1018.8 258.6 1021.0 258.3 C1023.2 258.0 1027.2 258.6 1030.0 258.7 C1032.8 258.8 1036.6 259.2 1038.8 259.0 C1041.0 258.8 1042.4 258.0 1044.0 257.5 C1045.6 257.0 1045.8 255.8 1049.0 255.8 C1052.2 255.8 1059.4 257.1 1064.3 257.3 C1069.2 257.5 1075.3 257.7 1079.5 257.3 C1083.7 256.9 1088.7 255.2 1090.5 254.8" fill="none" stroke="#04c686" stroke-width="2.1" stroke-linejoin="round" stroke-linecap="round" />
<path d="M125.8 327.0 C127.3 328.1 132.8 331.8 135.4 334.0 C138.0 336.2 140.0 338.4 142.0 340.5 C144.0 342.6 146.1 344.8 148.2 346.9 C150.3 349.0 153.0 351.5 155.0 353.5 C157.0 355.5 159.1 358.2 161.0 359.6 C162.9 361.0 165.0 361.6 167.0 362.5 C169.0 363.4 170.5 364.7 173.6 365.2 C176.7 365.7 183.4 365.1 186.3 365.4 C189.2 365.7 190.0 366.6 192.0 367.3 C194.0 368.0 197.2 370.8 199.0 369.8 C200.8 368.8 201.8 363.8 203.0 361.0 C204.2 358.2 205.3 354.9 206.7 352.0 C208.1 349.1 210.4 345.9 212.0 343.0 C213.6 340.1 215.5 336.2 216.9 334.0 C218.3 331.8 219.3 330.4 220.5 329.0 C221.7 327.6 223.1 325.9 224.5 325.0 C225.9 324.1 227.4 323.9 229.0 323.5 C230.6 323.1 232.8 322.3 234.7 322.7 C236.6 323.1 239.0 324.8 241.0 326.0 C243.0 327.2 245.6 329.3 247.4 330.3 C249.2 331.3 250.4 331.6 252.0 332.0 C253.6 332.4 255.5 333.1 257.6 332.9 C259.7 332.7 262.6 331.5 265.0 330.8 C267.4 330.1 269.9 328.8 272.8 328.3 C275.7 327.8 280.2 327.7 283.0 327.8 C285.8 327.9 287.6 328.6 290.0 329.0 C292.4 329.4 295.9 330.5 298.3 330.3 C300.7 330.1 303.0 328.8 305.0 328.0 C307.0 327.2 309.2 326.2 311.0 325.2 C312.8 324.2 314.4 322.7 316.0 321.5 C317.6 320.3 319.4 319.1 321.2 317.6 C323.0 316.1 325.0 314.0 327.0 312.0 C329.0 310.0 332.1 305.9 334.0 304.9 C335.9 303.9 337.4 305.0 339.0 305.6 C340.6 306.2 342.4 307.5 344.0 308.5 C345.6 309.5 346.7 311.2 349.2 311.8 C351.7 312.4 356.7 312.6 359.4 312.5 C362.1 312.4 364.0 311.5 366.0 311.0 C368.0 310.5 369.8 309.2 372.0 309.2 C374.2 309.2 377.6 310.3 380.0 310.7 C382.4 311.1 384.6 311.5 387.0 311.8 C389.4 312.1 392.9 312.7 395.3 312.5 C397.7 312.3 400.0 311.3 402.0 310.5 C404.0 309.7 406.1 308.6 408.0 307.4 C409.9 306.2 412.0 304.4 414.0 303.0 C416.0 301.6 418.8 299.8 420.7 298.5 C422.6 297.2 424.2 296.1 426.0 295.0 C427.8 293.9 430.6 291.5 432.2 291.7 C433.8 291.9 434.8 294.4 436.0 296.0 C437.2 297.6 438.6 299.8 440.0 301.5 C441.4 303.2 443.3 306.1 444.9 306.7 C446.5 307.3 448.2 305.6 450.0 305.0 C451.8 304.4 454.4 303.2 456.3 303.0 C458.2 302.8 460.0 303.7 462.0 304.0 C464.0 304.3 465.8 304.6 469.0 304.9 C472.2 305.2 478.9 305.3 481.8 305.6 C484.7 305.9 485.4 306.5 487.0 307.0 C488.6 307.5 490.2 308.8 492.0 308.7 C493.8 308.6 496.0 307.3 498.0 306.5 C500.0 305.7 502.6 304.4 504.7 303.6 C506.8 302.8 509.0 302.1 511.0 301.5 C513.0 300.9 514.4 300.2 517.4 299.8 C520.4 299.4 527.0 299.2 530.0 299.3 C533.0 299.4 534.0 300.0 536.0 300.5 C538.0 301.0 540.7 302.1 542.8 302.3 C544.9 302.5 547.0 301.8 549.0 301.5 C551.0 301.2 553.5 300.4 555.6 300.6 C557.7 300.8 560.0 302.2 562.0 303.0 C564.0 303.8 564.8 305.0 568.3 305.6 C571.8 306.2 579.1 306.4 583.6 306.7 C588.1 307.0 592.2 307.2 596.3 307.4 C600.4 307.6 606.2 308.3 609.0 308.2 C611.8 308.1 612.4 307.5 614.0 307.0 C615.6 306.5 617.6 305.9 619.2 304.9 C620.8 303.9 622.4 302.4 624.0 301.0 C625.6 299.6 627.6 296.1 629.4 296.0 C631.2 295.9 633.0 299.0 635.0 300.5 C637.0 302.0 639.6 304.9 642.0 305.6 C644.4 306.3 646.4 304.6 649.7 304.9 C653.0 305.2 659.6 306.7 662.7 307.4 C665.8 308.1 667.0 308.7 669.0 309.5 C671.0 310.3 673.2 310.8 675.4 312.5 C677.6 314.2 680.6 317.6 683.0 320.0 C685.4 322.4 688.6 326.2 690.7 327.8 C692.8 329.4 694.4 329.4 696.0 329.8 C697.6 330.2 699.2 331.4 701.0 330.3 C702.8 329.2 705.0 325.4 707.0 323.0 C709.0 320.6 711.5 315.4 713.6 315.0 C715.7 314.6 718.0 318.7 720.0 320.5 C722.0 322.3 724.4 324.7 726.3 326.5 C728.2 328.3 730.0 329.9 732.0 331.5 C734.0 333.1 736.9 336.3 739.0 336.7 C741.1 337.1 743.0 335.1 745.0 334.3 C747.0 333.5 749.9 332.4 751.8 331.6 C753.7 330.8 755.2 330.1 757.0 329.5 C758.8 328.9 761.1 327.5 763.2 327.8 C765.3 328.1 767.8 330.3 770.0 331.5 C772.2 332.7 774.0 334.8 777.2 335.4 C780.4 336.0 787.0 336.3 790.0 335.4 C793.0 334.5 794.0 331.8 796.0 330.0 C798.0 328.2 800.6 326.1 802.7 324.0 C804.8 321.9 807.0 319.2 809.0 317.0 C811.0 314.8 813.6 311.4 815.4 310.0 C817.2 308.6 818.4 308.5 820.0 308.0 C821.6 307.5 823.8 306.7 825.6 306.9 C827.4 307.1 829.4 308.6 831.0 309.5 C832.6 310.4 835.0 312.0 835.8 312.5" fill="none" stroke="#e6a81e" stroke-width="2.1" stroke-linejoin="round" stroke-linecap="round" />
<path d="M863.3 312.5 C864.5 313.0 868.6 314.9 871.0 315.6 C873.4 316.3 875.6 316.5 878.0 316.8 C880.4 317.1 883.6 317.7 886.0 317.6 C888.4 317.5 890.9 316.6 893.0 316.0 C895.1 315.4 897.2 314.8 899.0 313.8 C900.8 312.8 902.4 311.2 904.0 310.0 C905.6 308.8 907.2 307.1 909.0 306.0 C910.8 304.9 913.0 303.9 915.0 303.0 C917.0 302.1 919.1 300.8 921.8 300.3 C924.5 299.8 929.4 299.7 932.0 299.8 C934.6 299.9 936.0 300.6 938.0 301.0 C940.0 301.4 941.6 302.0 944.7 302.3 C947.8 302.6 952.9 302.6 957.4 303.0 C961.9 303.4 968.2 304.3 972.7 304.9 C977.2 305.5 981.7 306.5 985.4 306.7 C989.1 306.9 992.9 306.8 995.6 306.0 C998.3 305.2 1000.0 303.4 1002.0 302.0 C1004.0 300.6 1006.5 298.6 1008.3 297.3 C1010.1 296.0 1011.4 294.9 1013.0 294.0 C1014.6 293.1 1015.2 292.0 1018.5 291.7 C1021.8 291.4 1030.1 292.2 1033.7 292.0 C1037.3 291.8 1038.6 291.0 1041.0 290.5 C1043.4 290.0 1045.3 289.4 1049.0 289.0 C1052.7 288.6 1059.4 288.2 1064.3 288.3 C1069.2 288.4 1075.3 289.5 1079.5 289.6 C1083.7 289.7 1088.7 289.1 1090.5 289.0" fill="none" stroke="#e6a81e" stroke-width="2.1" stroke-linejoin="round" stroke-linecap="round" />
<path d="M125.8 366.0 C126.8 366.5 130.0 368.0 132.0 369.0 C134.0 370.0 136.2 370.6 138.0 372.3 C139.8 374.0 141.4 377.1 143.0 379.5 C144.6 381.9 146.4 384.9 148.2 387.6 C150.0 390.3 152.5 393.7 154.5 396.5 C156.5 399.3 159.0 402.5 161.0 405.4 C163.0 408.3 165.0 411.2 167.0 414.5 C169.0 417.8 172.5 424.2 173.6 426.0" fill="none" stroke="#f88016" stroke-width="2.1" stroke-linejoin="round" stroke-linecap="round" />
<path d="M191.4 426.0 C192.0 424.6 193.8 420.0 195.0 417.5 C196.2 415.0 197.4 413.8 199.0 410.5 C200.6 407.2 203.0 401.5 205.0 397.0 C207.0 392.5 209.9 386.3 211.8 382.5 C213.7 378.7 215.4 375.8 217.0 373.0 C218.6 370.2 220.4 366.8 222.0 364.7 C223.6 362.6 224.6 360.8 227.0 360.0 C229.4 359.2 234.8 359.2 237.2 360.0 C239.6 360.8 240.4 363.2 242.0 365.0 C243.6 366.8 245.3 369.1 247.4 371.0 C249.5 372.9 252.6 375.2 255.0 377.0 C257.4 378.8 259.9 380.4 262.7 382.5 C265.5 384.6 270.2 388.2 272.8 390.0 C275.4 391.8 277.0 392.8 279.0 394.0 C281.0 395.2 283.5 397.8 285.6 397.8 C287.7 397.8 290.0 395.2 292.0 394.0 C294.0 392.8 296.7 392.4 298.3 390.0 C299.9 387.6 300.8 382.6 302.0 379.0 C303.2 375.4 304.6 370.0 306.0 367.2 C307.4 364.4 309.4 363.1 311.0 361.5 C312.6 359.9 313.8 358.9 316.0 357.0 C318.2 355.1 322.1 351.9 325.0 349.5 C327.9 347.1 331.4 342.4 334.0 341.8 C336.6 341.2 339.1 344.6 341.5 346.0 C343.9 347.4 346.3 348.7 349.2 350.7 C352.1 352.7 356.6 356.7 359.4 358.3 C362.2 359.9 364.6 360.2 367.0 361.0 C369.4 361.8 372.5 362.6 374.6 363.4 C376.7 364.2 377.9 364.9 380.0 366.0 C382.1 367.1 385.2 369.5 387.6 370.3 C390.0 371.1 393.7 372.5 395.3 371.0 C396.9 369.5 396.6 363.7 397.8 360.9 C399.0 358.1 401.4 355.7 403.0 353.5 C404.6 351.3 406.2 349.0 408.0 346.9 C409.8 344.8 412.0 342.6 414.0 340.5 C416.0 338.4 418.7 335.7 420.7 334.0 C422.7 332.3 424.7 331.1 426.5 330.0 C428.3 328.9 430.6 326.4 432.2 327.0 C433.8 327.6 435.1 331.3 436.5 333.5 C437.9 335.7 439.0 337.3 441.0 340.5 C443.0 343.7 446.3 349.3 448.7 353.2 C451.1 357.1 454.1 362.1 456.3 364.7 C458.5 367.3 460.5 368.1 462.5 369.5 C464.5 370.9 466.9 372.5 469.0 373.6 C471.1 374.7 473.5 375.7 475.5 376.5 C477.5 377.3 479.2 378.1 481.8 378.7 C484.4 379.3 489.7 380.8 492.0 380.0 C494.3 379.2 494.8 375.5 496.0 373.5 C497.2 371.5 498.2 369.8 499.6 367.2 C501.0 364.6 502.9 360.2 504.5 357.0 C506.1 353.8 508.3 349.6 509.8 346.9 C511.3 344.2 512.6 342.1 514.0 340.0 C515.4 337.9 516.9 334.4 518.7 334.0 C520.5 333.6 523.3 336.3 525.5 337.5 C527.7 338.7 530.8 339.7 532.7 341.8 C534.6 343.9 535.9 347.7 537.5 350.5 C539.1 353.3 541.0 356.9 542.8 359.6 C544.6 362.3 547.0 365.1 549.0 367.5 C551.0 369.9 553.5 372.7 555.6 374.9 C557.7 377.1 560.0 379.5 562.0 381.5 C564.0 383.5 565.7 386.8 568.3 387.6 C570.9 388.4 575.8 387.0 578.5 386.3 C581.2 385.6 583.0 384.1 585.0 383.0 C587.0 381.9 589.2 381.5 591.2 379.4 C593.2 377.3 595.5 373.2 597.5 370.0 C599.5 366.8 602.0 362.7 604.0 359.6 C606.0 356.5 608.0 353.5 610.0 350.5 C612.0 347.5 614.8 341.5 616.6 341.0 C618.4 340.5 619.9 345.3 621.5 347.5 C623.1 349.7 625.0 351.8 626.8 354.5 C628.6 357.2 631.0 361.2 633.0 364.5 C635.0 367.8 636.8 371.2 639.5 374.9 C642.2 378.6 646.8 384.4 649.7 387.6 C652.6 390.8 654.9 391.9 657.6 395.2 C660.3 398.5 665.1 406.0 666.5 408.0" fill="none" stroke="#f88016" stroke-width="2.1" stroke-linejoin="round" stroke-linecap="round" />
<path d="M683.0 402.8 C683.8 401.2 686.4 395.9 688.2 392.7 C690.0 389.5 692.5 386.1 694.5 383.0 C696.5 379.9 698.8 376.6 701.0 373.6 C703.2 370.6 706.1 367.3 708.5 364.5 C710.9 361.7 713.8 356.8 716.0 355.8 C718.2 354.8 720.4 357.6 722.5 358.5 C724.6 359.4 727.2 359.8 729.0 361.6 C730.8 363.4 732.4 367.3 734.0 370.0 C735.6 372.7 737.2 376.3 739.0 378.7 C740.8 381.1 743.5 383.0 745.5 385.0 C747.5 387.0 749.8 389.6 751.8 391.4 C753.8 393.2 756.0 394.9 758.0 396.5 C760.0 398.1 761.8 401.1 764.5 401.6 C767.2 402.1 772.1 401.0 774.7 399.8 C777.3 398.6 779.0 396.0 781.0 394.0 C783.0 392.0 785.2 390.6 787.4 387.6 C789.6 384.6 792.6 379.1 795.0 375.0 C797.4 370.9 800.5 365.6 802.7 362.0 C804.9 358.4 807.0 355.4 809.0 352.5 C811.0 349.6 812.7 345.5 815.4 343.8 C818.1 342.1 822.9 341.3 825.6 341.8 C828.3 342.3 830.0 345.4 832.0 347.0 C834.0 348.6 835.3 350.2 838.3 352.0 C841.3 353.8 848.0 356.4 851.0 358.3 C854.0 360.2 855.0 362.1 857.0 364.0 C859.0 365.9 861.0 368.7 863.7 370.3 C866.4 371.9 871.4 373.8 874.0 374.0 C876.6 374.2 878.0 372.5 880.0 371.5 C882.0 370.5 884.7 369.5 886.6 367.7 C888.5 365.9 890.4 362.4 892.0 360.0 C893.6 357.6 894.7 354.8 896.6 352.5 C898.5 350.2 901.6 347.6 904.0 345.5 C906.4 343.4 908.4 340.7 911.6 339.2 C914.8 337.7 920.2 336.3 924.3 336.0 C928.4 335.7 933.4 336.9 937.0 337.5 C940.6 338.1 943.7 339.2 947.0 340.0 C950.3 340.8 953.3 341.6 957.4 342.5 C961.5 343.4 969.2 344.6 972.7 345.6 C976.2 346.6 977.0 347.5 979.0 348.5 C981.0 349.5 983.6 352.2 985.4 352.0 C987.2 351.8 988.9 348.6 990.5 347.0 C992.1 345.4 993.8 343.8 995.6 341.8 C997.4 339.8 1000.0 336.7 1002.0 334.5 C1004.0 332.3 1006.5 329.3 1008.3 327.8 C1010.1 326.3 1011.4 325.7 1013.0 325.0 C1014.6 324.3 1016.4 323.3 1018.5 323.5 C1020.6 323.7 1024.1 325.3 1026.0 326.5 C1027.9 327.7 1029.1 329.5 1030.5 331.0 C1031.9 332.5 1033.5 335.8 1035.0 336.0 C1036.5 336.2 1038.4 333.2 1040.0 332.0 C1041.6 330.8 1043.4 328.6 1045.2 328.5 C1047.0 328.4 1049.7 329.7 1051.5 331.6 C1053.3 333.5 1055.0 336.8 1056.6 340.5 C1058.2 344.2 1059.7 350.8 1061.7 354.5 C1063.7 358.2 1066.6 361.7 1069.4 363.4 C1072.2 365.1 1077.1 365.6 1079.5 365.4 C1081.9 365.2 1083.6 365.4 1084.6 362.0 C1085.6 358.6 1085.1 348.1 1086.0 344.3 C1086.9 340.5 1089.8 339.0 1090.5 338.0" fill="none" stroke="#f88016" stroke-width="2.1" stroke-linejoin="round" stroke-linecap="round" />
<path d="M125.8 408.0 C127.3 408.5 133.4 409.7 135.4 411.0 C137.4 412.3 137.6 413.6 138.5 416.0 C139.4 418.4 140.9 424.4 141.3 426.0" fill="none" stroke="#fc2234" stroke-width="2.1" stroke-linejoin="round" stroke-linecap="round" />
<path d="M213.0 426.0 C213.5 424.4 215.0 418.9 216.0 416.0 C217.0 413.1 218.0 410.6 219.4 408.0 C220.8 405.4 222.6 400.3 224.5 399.8 C226.4 399.3 229.0 403.3 231.0 405.0 C233.0 406.7 235.4 408.6 237.2 410.5 C239.0 412.4 240.9 414.5 242.5 417.0 C244.1 419.5 246.6 424.6 247.4 426.0" fill="none" stroke="#fc2234" stroke-width="2.1" stroke-linejoin="round" stroke-linecap="round" />
<path d="M300.8 426.0 C301.4 423.6 303.3 415.1 304.5 411.0 C305.7 406.9 306.9 402.6 308.5 400.3 C310.1 398.0 312.5 397.8 314.5 396.8 C316.5 395.8 319.1 394.9 321.2 394.0 C323.3 393.1 325.5 392.0 327.5 391.0 C329.5 390.0 331.4 388.3 334.0 388.0 C336.6 387.7 341.8 388.3 344.0 388.9 C346.2 389.5 346.8 390.5 348.0 391.5 C349.2 392.5 350.5 393.7 351.7 395.2 C352.9 396.7 354.3 399.0 355.5 401.0 C356.7 403.0 358.2 405.7 359.4 408.0 C360.6 410.3 361.8 412.6 363.0 415.5 C364.2 418.4 366.4 424.3 367.0 426.0" fill="none" stroke="#fc2234" stroke-width="2.1" stroke-linejoin="round" stroke-linecap="round" />
<path d="M390.0 426.0 C391.2 423.1 395.7 412.4 397.8 408.0 C399.9 403.6 401.4 401.4 403.0 398.5 C404.6 395.6 406.2 392.6 408.0 390.0 C409.8 387.4 412.5 384.4 414.5 382.0 C416.5 379.6 418.5 376.7 420.7 374.9 C422.9 373.1 426.5 372.2 428.3 371.0 C430.1 369.8 431.2 366.6 432.2 367.2 C433.2 367.8 433.6 372.7 434.7 374.9 C435.8 377.1 437.6 379.2 439.0 381.0 C440.4 382.8 442.2 384.4 443.6 386.3 C445.0 388.2 446.3 390.8 447.5 393.0 C448.7 395.2 449.8 397.3 451.2 400.3 C452.6 403.3 454.4 407.4 456.0 411.5 C457.6 415.6 460.5 423.7 461.4 426.0" fill="none" stroke="#fc2234" stroke-width="2.1" stroke-linejoin="round" stroke-linecap="round" />
<path d="M494.5 426.0 C495.3 422.7 498.0 410.4 499.6 405.4 C501.2 400.4 502.9 398.3 504.5 395.0 C506.1 391.7 508.3 387.7 509.8 385.0 C511.3 382.3 512.6 380.2 514.0 378.0 C515.4 375.8 517.1 371.2 518.7 371.0 C520.3 370.8 522.2 374.7 524.0 376.5 C525.8 378.3 528.4 380.3 530.0 382.5 C531.6 384.7 532.8 387.6 534.0 390.0 C535.2 392.4 536.0 394.1 537.8 397.8 C539.6 401.5 543.2 408.5 545.4 413.0 C547.6 417.5 550.8 423.9 551.8 426.0" fill="none" stroke="#fc2234" stroke-width="2.1" stroke-linejoin="round" stroke-linecap="round" />
<path d="M595.0 426.0 C596.0 423.1 599.8 411.9 601.4 408.0 C603.0 404.1 603.8 403.5 605.0 401.5 C606.2 399.5 607.6 397.1 609.0 395.2 C610.4 393.3 612.1 391.2 613.5 389.5 C614.9 387.8 616.4 384.5 618.0 384.3 C619.6 384.1 621.7 386.7 623.5 388.0 C625.3 389.3 628.0 390.8 629.4 392.7 C630.8 394.6 631.2 397.6 632.0 400.0 C632.8 402.4 633.1 403.8 634.5 408.0 C635.9 412.2 639.8 423.1 640.8 426.0" fill="none" stroke="#fc2234" stroke-width="2.1" stroke-linejoin="round" stroke-linecap="round" />
<path d="M697.0 426.0 C698.0 423.1 701.3 412.1 703.4 408.0 C705.5 403.9 707.8 402.7 710.0 400.5 C712.2 398.3 714.8 394.8 717.4 394.0 C720.0 393.2 724.4 394.1 726.3 395.2 C728.2 396.3 728.2 399.0 729.0 401.0 C729.8 403.0 730.0 404.0 731.4 408.0 C732.8 412.0 736.8 423.1 737.8 426.0" fill="none" stroke="#fc2234" stroke-width="2.1" stroke-linejoin="round" stroke-linecap="round" />
<path d="M791.2 426.0 C792.2 422.7 795.8 410.2 797.6 405.4 C799.4 400.6 800.9 398.8 802.5 396.0 C804.1 393.2 806.2 389.8 807.8 387.6 C809.4 385.4 810.9 383.9 812.5 382.5 C814.1 381.1 816.3 379.1 818.0 378.7 C819.7 378.3 821.4 379.4 823.0 380.0 C824.6 380.6 826.4 381.1 828.0 382.5 C829.6 383.9 831.4 386.5 833.0 388.5 C834.6 390.5 836.7 393.0 838.3 395.2 C839.9 397.4 841.6 400.1 843.0 402.5 C844.4 404.9 846.1 406.7 847.2 410.5 C848.3 414.3 849.3 423.5 849.7 426.0" fill="none" stroke="#fc2234" stroke-width="2.1" stroke-linejoin="round" stroke-linecap="round" />
<path d="M883.0 426.0 C883.9 422.7 886.9 410.0 888.7 405.4 C890.5 400.8 892.4 399.5 894.0 397.0 C895.6 394.5 897.1 392.1 899.0 390.0 C900.9 387.9 903.6 385.8 906.0 384.0 C908.4 382.2 911.3 380.1 914.0 378.7 C916.7 377.3 919.9 376.3 923.0 375.5 C926.1 374.7 930.5 373.4 933.2 373.6 C935.9 373.8 937.8 375.8 940.0 377.0 C942.2 378.2 943.6 379.5 947.2 381.2 C950.8 382.9 958.0 385.8 962.5 387.6 C967.0 389.4 971.5 391.3 975.2 392.2 C978.9 393.1 983.0 394.2 985.4 393.4 C987.8 392.6 988.9 389.5 990.5 387.5 C992.1 385.5 994.0 383.4 995.6 381.2 C997.2 379.0 998.9 375.9 1000.5 373.5 C1002.1 371.1 1004.1 367.8 1005.8 366.0 C1007.5 364.2 1009.4 363.0 1011.0 362.0 C1012.6 361.0 1014.0 359.8 1016.0 359.6 C1018.0 359.4 1021.8 359.4 1023.6 360.9 C1025.4 362.4 1026.3 366.4 1027.5 369.0 C1028.7 371.6 1029.8 375.0 1031.2 377.4 C1032.6 379.8 1034.4 382.0 1036.0 384.0 C1037.6 386.0 1039.3 387.0 1041.4 390.0 C1043.5 393.0 1047.1 399.1 1049.0 402.8 C1050.9 406.5 1052.1 409.3 1053.5 413.0 C1054.9 416.7 1057.3 423.9 1058.0 426.0" fill="none" stroke="#fc2234" stroke-width="2.1" stroke-linejoin="round" stroke-linecap="round" />
<path d="M1074.5 426.0 C1074.9 423.5 1076.0 414.1 1077.0 410.5 C1078.0 406.9 1079.3 405.5 1080.5 403.5 C1081.7 401.5 1083.0 400.0 1084.6 397.8 C1086.2 395.6 1089.6 391.2 1090.5 390.0" fill="none" stroke="#fc2234" stroke-width="2.1" stroke-linejoin="round" stroke-linecap="round" />
<path d="M994.3 426.0 C995.3 423.9 998.9 416.3 1000.7 413.0 C1002.5 409.7 1003.9 407.7 1005.5 405.5 C1007.1 403.3 1009.1 399.4 1010.8 399.0 C1012.5 398.6 1014.4 401.6 1016.0 403.0 C1017.6 404.4 1020.0 406.1 1021.0 408.0 C1022.0 409.9 1022.2 412.1 1022.5 415.0 C1022.8 417.9 1022.9 424.2 1023.0 426.0" fill="none" stroke="#f808a0" stroke-width="2.1" stroke-linejoin="round" stroke-linecap="round" />
</g>
<text x="237.0" y="194.5" font-family="Liberation Sans, sans-serif" font-size="19" fill="#0a96fc" text-anchor="middle" >5</text>
<text x="335.0" y="246.5" font-family="Liberation Sans, sans-serif" font-size="19" fill="#04c4cc" text-anchor="middle" >10</text>
<text x="335.5" y="280.0" font-family="Liberation Sans, sans-serif" font-size="19" fill="#04c686" text-anchor="middle" >15</text>
<text x="446.0" y="98.5" font-family="Liberation Sans, sans-serif" font-size="19" fill="#1e3cfc" text-anchor="middle" >&#8722;5</text>
<text x="262.0" y="155.0" font-family="Liberation Sans, sans-serif" font-size="14.5" fill="#000" text-anchor="middle" font-weight="bold" >FR</text>
<text x="519.0" y="136.5" font-family="Liberation Sans, sans-serif" font-size="14.5" fill="#000" text-anchor="middle" font-weight="bold" >FR</text>
<text x="900.0" y="146.0" font-family="Liberation Sans, sans-serif" font-size="14.5" fill="#000" text-anchor="middle" font-weight="bold" >FR</text>
<text x="840.0" y="106.0" font-family="Liberation Sans, sans-serif" font-size="19" fill="#1e3cfc" text-anchor="middle" >&#8722;5</text>
<text x="827.0" y="246.0" font-family="Liberation Sans, sans-serif" font-size="19" fill="#04c4cc" text-anchor="middle" >10</text>
<text x="728.0" y="279.5" font-family="Liberation Sans, sans-serif" font-size="19" fill="#04c686" text-anchor="middle" >15</text>
<text x="850.5" y="319.5" font-family="Liberation Sans, sans-serif" font-size="19" fill="#e6a81e" text-anchor="middle" >20</text>
<text x="678.5" y="424.0" font-family="Liberation Sans, sans-serif" font-size="19" fill="#f88016" text-anchor="middle" >25</text>
<line x1="119.9" y1="70.5" x2="1091.1" y2="70.5" stroke="#000" stroke-width="1.3" />
<line x1="120.5" y1="70.5" x2="120.5" y2="865.5" stroke="#000" stroke-width="1.3" />
<line x1="1090.5" y1="70.5" x2="1090.5" y2="950.5" stroke="#000" stroke-width="1.3" />
<line x1="175.5" y1="425.0" x2="175.5" y2="440.0" stroke="#9a9a9a" stroke-width="1" stroke-dasharray="4,2"/>
<line x1="273.5" y1="425.0" x2="273.5" y2="440.0" stroke="#9a9a9a" stroke-width="1" stroke-dasharray="4,2"/>
<line x1="371.5" y1="425.0" x2="371.5" y2="440.0" stroke="#9a9a9a" stroke-width="1" stroke-dasharray="4,2"/>
<line x1="469.5" y1="425.0" x2="469.5" y2="440.0" stroke="#9a9a9a" stroke-width="1" stroke-dasharray="4,2"/>
<line x1="567.5" y1="425.0" x2="567.5" y2="440.0" stroke="#9a9a9a" stroke-width="1" stroke-dasharray="4,2"/>
<line x1="666.5" y1="425.0" x2="666.5" y2="440.0" stroke="#9a9a9a" stroke-width="1" stroke-dasharray="4,2"/>
<line x1="764.5" y1="425.0" x2="764.5" y2="440.0" stroke="#9a9a9a" stroke-width="1" stroke-dasharray="4,2"/>
<line x1="862.5" y1="425.0" x2="862.5" y2="440.0" stroke="#9a9a9a" stroke-width="1" stroke-dasharray="4,2"/>
<line x1="960.5" y1="425.0" x2="960.5" y2="440.0" stroke="#9a9a9a" stroke-width="1" stroke-dasharray="4,2"/>
<line x1="1059.5" y1="425.0" x2="1059.5" y2="440.0" stroke="#9a9a9a" stroke-width="1" stroke-dasharray="4,2"/>
<line x1="116.0" y1="103.5" x2="120.5" y2="103.5" stroke="#000" stroke-width="1.2" />
<text x="112.0" y="108.5" font-family="Liberation Sans, sans-serif" font-size="14" fill="#000" text-anchor="end" stroke="#fff" stroke-width="0.12" textLength="19.8" lengthAdjust="spacingAndGlyphs" >500</text>
<line x1="116.0" y1="167.5" x2="120.5" y2="167.5" stroke="#000" stroke-width="1.2" />
<text x="112.0" y="172.8" font-family="Liberation Sans, sans-serif" font-size="14" fill="#000" text-anchor="end" stroke="#fff" stroke-width="0.12" textLength="19.8" lengthAdjust="spacingAndGlyphs" >600</text>
<line x1="116.0" y1="231.5" x2="120.5" y2="231.5" stroke="#000" stroke-width="1.2" />
<text x="112.0" y="236.9" font-family="Liberation Sans, sans-serif" font-size="14" fill="#000" text-anchor="end" stroke="#fff" stroke-width="0.12" textLength="19.8" lengthAdjust="spacingAndGlyphs" >700</text>
<line x1="116.0" y1="296.5" x2="120.5" y2="296.5" stroke="#000" stroke-width="1.2" />
<text x="112.0" y="301.1" font-family="Liberation Sans, sans-serif" font-size="14" fill="#000" text-anchor="end" stroke="#fff" stroke-width="0.12" textLength="19.8" lengthAdjust="spacingAndGlyphs" >800</text>
<line x1="116.0" y1="360.5" x2="120.5" y2="360.5" stroke="#000" stroke-width="1.2" />
<text x="112.0" y="365.4" font-family="Liberation Sans, sans-serif" font-size="14" fill="#000" text-anchor="end" stroke="#fff" stroke-width="0.12" textLength="19.8" lengthAdjust="spacingAndGlyphs" >900</text>
<line x1="116.0" y1="424.5" x2="120.5" y2="424.5" stroke="#000" stroke-width="1.2" />
<text x="112.0" y="429.6" font-family="Liberation Sans, sans-serif" font-size="14" fill="#000" text-anchor="end" stroke="#fff" stroke-width="0.12" textLength="26.6" lengthAdjust="spacingAndGlyphs" >1000</text>
<line x1="175.5" y1="66.5" x2="175.5" y2="71.0" stroke="#000" stroke-width="1.2" />
<text x="175.5" y="63.0" font-family="Liberation Sans, sans-serif" font-size="16" fill="#000" text-anchor="middle" stroke="#fff" stroke-width="0.12" textLength="44.5" lengthAdjust="spacingAndGlyphs" >26SEP</text>
<line x1="273.5" y1="66.5" x2="273.5" y2="71.0" stroke="#000" stroke-width="1.2" />
<text x="273.5" y="63.0" font-family="Liberation Sans, sans-serif" font-size="16" fill="#000" text-anchor="middle" stroke="#fff" stroke-width="0.12" textLength="44.5" lengthAdjust="spacingAndGlyphs" >27SEP</text>
<line x1="371.5" y1="66.5" x2="371.5" y2="71.0" stroke="#000" stroke-width="1.2" />
<text x="371.5" y="63.0" font-family="Liberation Sans, sans-serif" font-size="16" fill="#000" text-anchor="middle" stroke="#fff" stroke-width="0.12" textLength="44.5" lengthAdjust="spacingAndGlyphs" >28SEP</text>
<line x1="469.5" y1="66.5" x2="469.5" y2="71.0" stroke="#000" stroke-width="1.2" />
<text x="469.5" y="63.0" font-family="Liberation Sans, sans-serif" font-size="16" fill="#000" text-anchor="middle" stroke="#fff" stroke-width="0.12" textLength="44.5" lengthAdjust="spacingAndGlyphs" >29SEP</text>
<line x1="567.5" y1="66.5" x2="567.5" y2="71.0" stroke="#000" stroke-width="1.2" />
<text x="567.5" y="63.0" font-family="Liberation Sans, sans-serif" font-size="16" fill="#000" text-anchor="middle" stroke="#fff" stroke-width="0.12" textLength="44.5" lengthAdjust="spacingAndGlyphs" >30SEP</text>
<line x1="666.5" y1="66.5" x2="666.5" y2="71.0" stroke="#000" stroke-width="1.2" />
<text x="666.5" y="63.0" font-family="Liberation Sans, sans-serif" font-size="16" fill="#000" text-anchor="middle" stroke="#fff" stroke-width="0.12" textLength="34.0" lengthAdjust="spacingAndGlyphs" >1OCT</text>
<line x1="764.5" y1="66.5" x2="764.5" y2="71.0" stroke="#000" stroke-width="1.2" />
<text x="764.5" y="63.0" font-family="Liberation Sans, sans-serif" font-size="16" fill="#000" text-anchor="middle" stroke="#fff" stroke-width="0.12" textLength="34.0" lengthAdjust="spacingAndGlyphs" >2OCT</text>
<line x1="862.5" y1="66.5" x2="862.5" y2="71.0" stroke="#000" stroke-width="1.2" />
<text x="862.5" y="63.0" font-family="Liberation Sans, sans-serif" font-size="16" fill="#000" text-anchor="middle" stroke="#fff" stroke-width="0.12" textLength="34.0" lengthAdjust="spacingAndGlyphs" >3OCT</text>
<line x1="960.5" y1="66.5" x2="960.5" y2="71.0" stroke="#000" stroke-width="1.2" />
<text x="960.5" y="63.0" font-family="Liberation Sans, sans-serif" font-size="16" fill="#000" text-anchor="middle" stroke="#fff" stroke-width="0.12" textLength="34.0" lengthAdjust="spacingAndGlyphs" >4OCT</text>
<line x1="1059.5" y1="66.5" x2="1059.5" y2="71.0" stroke="#000" stroke-width="1.2" />
<text x="1059.5" y="63.0" font-family="Liberation Sans, sans-serif" font-size="16" fill="#000" text-anchor="middle" stroke="#fff" stroke-width="0.12" textLength="34.0" lengthAdjust="spacingAndGlyphs" >5OCT</text>
<text transform="translate(57.0,151.5) rotate(-90)" font-family="Liberation Sans, sans-serif" font-size="16.5" fill="#000" text-anchor="start" stroke="#fff" stroke-width="0.12" textLength="84.0" lengthAdjust="spacingAndGlyphs" >Wind (m/s)</text>
<text transform="translate(57.0,178.5) rotate(-90)" font-family="Liberation Sans, sans-serif" font-size="16.5" fill="#f03030" text-anchor="start" stroke="#fff" stroke-width="0.12" textLength="27.0" lengthAdjust="spacingAndGlyphs" >(&#176;C)</text>
<text transform="translate(56.0,264.0) rotate(-90)" font-family="Liberation Sans, sans-serif" font-size="15.5" fill="url(#tg)" text-anchor="start" stroke="#fff" stroke-width="0.12" textLength="79.0" lengthAdjust="spacingAndGlyphs" >Temperature</text>
<rect x="40" y="282" width="23.5" height="54" fill="url(#rhg)"/>
<text transform="translate(57.5,333.0) rotate(-90)" font-family="Liberation Sans, sans-serif" font-size="15.5" fill="#000" text-anchor="start" textLength="48.0" lengthAdjust="spacingAndGlyphs" >RH (%)</text>
<text transform="translate(84.5,324.5) rotate(-90)" font-family="Liberation Sans, sans-serif" font-size="16.5" fill="#000" text-anchor="start" stroke="#fff" stroke-width="0.12" letter-spacing="6.3">(millibars)</text>
<line x1="120.5" y1="452.5" x2="1090.5" y2="452.5" stroke="#9a9a9a" stroke-width="1" stroke-dasharray="4,2"/>
<line x1="120.5" y1="476.5" x2="1090.5" y2="476.5" stroke="#9a9a9a" stroke-width="1" stroke-dasharray="4,2"/>
<line x1="120.5" y1="500.5" x2="1090.5" y2="500.5" stroke="#9a9a9a" stroke-width="1" stroke-dasharray="4,2"/>
<line x1="175.5" y1="440.5" x2="175.5" y2="525.5" stroke="#9a9a9a" stroke-width="1" stroke-dasharray="4,2"/>
<line x1="273.5" y1="440.5" x2="273.5" y2="525.5" stroke="#9a9a9a" stroke-width="1" stroke-dasharray="4,2"/>
<line x1="371.5" y1="440.5" x2="371.5" y2="525.5" stroke="#9a9a9a" stroke-width="1" stroke-dasharray="4,2"/>
<line x1="469.5" y1="440.5" x2="469.5" y2="525.5" stroke="#9a9a9a" stroke-width="1" stroke-dasharray="4,2"/>
<line x1="567.5" y1="440.5" x2="567.5" y2="525.5" stroke="#9a9a9a" stroke-width="1" stroke-dasharray="4,2"/>
<line x1="666.5" y1="440.5" x2="666.5" y2="525.5" stroke="#9a9a9a" stroke-width="1" stroke-dasharray="4,2"/>
<line x1="764.5" y1="440.5" x2="764.5" y2="525.5" stroke="#9a9a9a" stroke-width="1" stroke-dasharray="4,2"/>
<line x1="862.5" y1="440.5" x2="862.5" y2="525.5" stroke="#9a9a9a" stroke-width="1" stroke-dasharray="4,2"/>
<line x1="960.5" y1="440.5" x2="960.5" y2="525.5" stroke="#9a9a9a" stroke-width="1" stroke-dasharray="4,2"/>
<line x1="1059.5" y1="440.5" x2="1059.5" y2="525.5" stroke="#9a9a9a" stroke-width="1" stroke-dasharray="4,2"/>
<g clip-path="url(#c2)">
<polyline points="126.2,489.5 138.5,493.9 150.8,503.0 163.0,509.7 175.3,514.8 187.6,518.5 199.9,519.8 212.1,511.7 224.4,500.6 236.7,498.3 249.0,503.0 261.3,504.7 273.5,507.4 285.8,510.0 298.1,509.4 310.4,498.3 322.6,489.9 334.9,481.1 347.2,482.1 359.5,480.5 371.8,483.1 384.0,484.5 396.3,482.1 408.6,469.7 420.9,458.6 433.1,454.6 445.4,455.9 457.7,463.6 470.0,467.0 482.3,470.4 494.5,469.4 506.8,459.6 519.1,445.8 531.4,450.9 543.7,455.2 555.9,463.0 568.2,469.7 580.5,473.7 592.8,472.0 605.0,463.0 617.3,455.9 629.6,458.6 641.9,468.7 654.2,473.7 666.4,480.5 678.7,486.2 691.0,488.2 703.3,482.1 715.5,473.0 727.8,477.0 740.1,486.2 752.4,491.2 764.7,495.6 776.9,499.6 789.2,498.0 801.5,487.2 813.8,476.4 826.0,474.4 838.3,480.5 850.6,481.5 862.9,486.2 875.2,491.6 887.4,490.5 899.7,479.4 912.0,470.4 924.3,467.0 936.5,471.0 948.8,471.4 961.1,474.4 973.4,477.8 985.7,476.0 997.9,467.0 1010.2,455.9 1022.5,455.9 1034.8,462.6 1047.0,464.3 1059.3,466.3 1071.6,468.0 1083.9,465.3 1096.2,455.0" fill="none" stroke="#04c6c6" stroke-width="1.1" stroke-linejoin="round" stroke-linecap="round" />
<polyline points="126.2,518.1 138.5,509.7 150.8,488.2 163.0,481.5 175.3,483.8 187.6,479.8 199.9,467.7 212.1,480.5 224.4,509.7 236.7,507.4 249.0,490.5 261.3,483.8 273.5,493.2 285.8,483.1 298.1,472.0 310.4,478.8 322.6,494.6 334.9,497.3 347.2,478.8 359.5,477.1 371.8,482.1 384.0,477.1 396.3,463.6 408.6,477.1 420.9,497.3 433.1,502.3 445.4,481.1 457.7,473.0 470.0,475.4 482.3,471.0 494.5,459.3 506.8,475.4 519.1,509.0 531.4,497.3 543.7,476.4 555.9,468.0 568.2,469.7 580.5,466.0 592.8,463.0 605.0,478.8 617.3,506.7 629.6,497.3 641.9,473.7 654.2,470.4 666.4,476.0 678.7,474.4 691.0,467.0 703.3,483.8 715.5,514.0 727.8,505.5 740.1,487.2 752.4,485.5 764.7,493.9 776.9,489.9 789.2,479.8 801.5,493.9 813.8,519.8 826.0,519.8 838.3,497.3 850.6,494.9 862.9,496.6 875.2,485.5 887.4,474.4 899.7,489.9 912.0,509.7 924.3,509.0 936.5,490.5 948.8,483.8 961.1,483.1 973.4,477.1 985.7,464.6 997.9,470.4 1010.2,497.3 1022.5,492.2 1034.8,468.0 1047.0,467.0 1059.3,470.4 1071.6,462.0 1083.9,446.1" fill="none" stroke="#1a28f8" stroke-width="2.0" stroke-linejoin="round" stroke-linecap="round" />
<path d="M126.2 485.5 L122.9 491.7 L129.5 491.7 Z M138.5 489.9 L135.2 496.1 L141.8 496.1 Z M150.8 499.0 L147.5 505.2 L154.1 505.2 Z M163.0 505.7 L159.7 511.9 L166.3 511.9 Z M175.3 510.8 L172.0 517.0 L178.6 517.0 Z M187.6 514.5 L184.3 520.7 L190.9 520.7 Z M199.9 515.8 L196.6 522.0 L203.2 522.0 Z M212.1 507.7 L208.8 513.9 L215.4 513.9 Z M224.4 496.6 L221.1 502.8 L227.7 502.8 Z M236.7 494.3 L233.4 500.5 L240.0 500.5 Z M249.0 499.0 L245.7 505.2 L252.3 505.2 Z M261.3 500.7 L258.0 506.9 L264.6 506.9 Z M273.5 503.4 L270.2 509.6 L276.8 509.6 Z M285.8 506.0 L282.5 512.2 L289.1 512.2 Z M298.1 505.4 L294.8 511.6 L301.4 511.6 Z M310.4 494.3 L307.1 500.5 L313.7 500.5 Z M322.6 485.9 L319.3 492.1 L325.9 492.1 Z M334.9 477.1 L331.6 483.3 L338.2 483.3 Z M347.2 478.1 L343.9 484.3 L350.5 484.3 Z M359.5 476.5 L356.2 482.7 L362.8 482.7 Z M371.8 479.1 L368.5 485.3 L375.1 485.3 Z M384.0 480.5 L380.7 486.7 L387.3 486.7 Z M396.3 478.1 L393.0 484.3 L399.6 484.3 Z M408.6 465.7 L405.3 471.9 L411.9 471.9 Z M420.9 454.6 L417.6 460.8 L424.2 460.8 Z M433.1 450.6 L429.8 456.8 L436.4 456.8 Z M445.4 451.9 L442.1 458.1 L448.7 458.1 Z M457.7 459.6 L454.4 465.8 L461.0 465.8 Z M470.0 463.0 L466.7 469.2 L473.3 469.2 Z M482.3 466.4 L479.0 472.6 L485.6 472.6 Z M494.5 465.4 L491.2 471.6 L497.8 471.6 Z M506.8 455.6 L503.5 461.8 L510.1 461.8 Z M519.1 441.8 L515.8 448.0 L522.4 448.0 Z M531.4 446.9 L528.1 453.1 L534.7 453.1 Z M543.7 451.2 L540.4 457.4 L547.0 457.4 Z M555.9 459.0 L552.6 465.2 L559.2 465.2 Z M568.2 465.7 L564.9 471.9 L571.5 471.9 Z M580.5 469.7 L577.2 475.9 L583.8 475.9 Z M592.8 468.0 L589.5 474.2 L596.1 474.2 Z M605.0 459.0 L601.7 465.2 L608.3 465.2 Z M617.3 451.9 L614.0 458.1 L620.6 458.1 Z M629.6 454.6 L626.3 460.8 L632.9 460.8 Z M641.9 464.7 L638.6 470.9 L645.2 470.9 Z M654.2 469.7 L650.9 475.9 L657.5 475.9 Z M666.4 476.5 L663.1 482.7 L669.7 482.7 Z M678.7 482.2 L675.4 488.4 L682.0 488.4 Z M691.0 484.2 L687.7 490.4 L694.3 490.4 Z M703.3 478.1 L700.0 484.3 L706.6 484.3 Z M715.5 469.0 L712.2 475.2 L718.8 475.2 Z M727.8 473.0 L724.5 479.2 L731.1 479.2 Z M740.1 482.2 L736.8 488.4 L743.4 488.4 Z M752.4 487.2 L749.1 493.4 L755.7 493.4 Z M764.7 491.6 L761.4 497.8 L768.0 497.8 Z M776.9 495.6 L773.6 501.8 L780.2 501.8 Z M789.2 494.0 L785.9 500.2 L792.5 500.2 Z M801.5 483.2 L798.2 489.4 L804.8 489.4 Z M813.8 472.4 L810.5 478.6 L817.1 478.6 Z M826.0 470.4 L822.7 476.6 L829.3 476.6 Z M838.3 476.5 L835.0 482.7 L841.6 482.7 Z M850.6 477.5 L847.3 483.7 L853.9 483.7 Z M862.9 482.2 L859.6 488.4 L866.2 488.4 Z M875.2 487.6 L871.9 493.8 L878.5 493.8 Z M887.4 486.5 L884.1 492.7 L890.7 492.7 Z M899.7 475.4 L896.4 481.6 L903.0 481.6 Z M912.0 466.4 L908.7 472.6 L915.3 472.6 Z M924.3 463.0 L921.0 469.2 L927.6 469.2 Z M936.5 467.0 L933.2 473.2 L939.8 473.2 Z M948.8 467.4 L945.5 473.6 L952.1 473.6 Z M961.1 470.4 L957.8 476.6 L964.4 476.6 Z M973.4 473.8 L970.1 480.0 L976.7 480.0 Z M985.7 472.0 L982.4 478.2 L989.0 478.2 Z M997.9 463.0 L994.6 469.2 L1001.2 469.2 Z M1010.2 451.9 L1006.9 458.1 L1013.5 458.1 Z M1022.5 451.9 L1019.2 458.1 L1025.8 458.1 Z M1034.8 458.6 L1031.5 464.8 L1038.1 464.8 Z M1047.0 460.3 L1043.8 466.5 L1050.3 466.5 Z M1059.3 462.3 L1056.0 468.5 L1062.6 468.5 Z M1071.6 464.0 L1068.3 470.2 L1074.9 470.2 Z M1083.9 461.3 L1080.6 467.5 L1087.2 467.5 Z M1096.2 451.0 L1092.9 457.2 L1099.5 457.2 Z" fill="none" stroke="#04c6c6" stroke-width="1.1"/>
</g>
<line x1="120.5" y1="440.5" x2="1090.5" y2="440.5" stroke="#000" stroke-width="1.3" />
<line x1="120.5" y1="525.5" x2="1090.5" y2="525.5" stroke="#000" stroke-width="1.3" />
<line x1="116.0" y1="443.5" x2="120.5" y2="443.5" stroke="#000" stroke-width="1.2" />
<text x="112.0" y="448.2" font-family="Liberation Sans, sans-serif" font-size="14" fill="#000" text-anchor="end" stroke="#fff" stroke-width="0.12" textLength="26.6" lengthAdjust="spacingAndGlyphs" >1014</text>
<line x1="116.0" y1="465.5" x2="120.5" y2="465.5" stroke="#000" stroke-width="1.2" />
<text x="112.0" y="470.4" font-family="Liberation Sans, sans-serif" font-size="14" fill="#000" text-anchor="end" stroke="#fff" stroke-width="0.12" textLength="26.6" lengthAdjust="spacingAndGlyphs" >1012</text>
<line x1="116.0" y1="488.5" x2="120.5" y2="488.5" stroke="#000" stroke-width="1.2" />
<text x="112.0" y="493.2" font-family="Liberation Sans, sans-serif" font-size="14" fill="#000" text-anchor="end" stroke="#fff" stroke-width="0.12" textLength="26.6" lengthAdjust="spacingAndGlyphs" >1010</text>
<line x1="116.0" y1="511.5" x2="120.5" y2="511.5" stroke="#000" stroke-width="1.2" />
<text x="112.0" y="516.2" font-family="Liberation Sans, sans-serif" font-size="14" fill="#000" text-anchor="end" stroke="#fff" stroke-width="0.12" textLength="26.6" lengthAdjust="spacingAndGlyphs" >1008</text>
<line x1="69.5" y1="440.5" x2="69.5" y2="525.5" stroke="#000" stroke-width="1.2" />
<line x1="63.0" y1="452.5" x2="69.6" y2="452.5" stroke="#000" stroke-width="1.2" />
<text x="61.5" y="457.5" font-family="Liberation Sans, sans-serif" font-size="14" fill="#000" text-anchor="end" stroke="#fff" stroke-width="0.12" textLength="19.8" lengthAdjust="spacingAndGlyphs" >582</text>
<line x1="63.0" y1="476.5" x2="69.6" y2="476.5" stroke="#000" stroke-width="1.2" />
<text x="61.5" y="481.4" font-family="Liberation Sans, sans-serif" font-size="14" fill="#000" text-anchor="end" stroke="#fff" stroke-width="0.12" textLength="19.8" lengthAdjust="spacingAndGlyphs" >579</text>
<line x1="63.0" y1="500.5" x2="69.6" y2="500.5" stroke="#000" stroke-width="1.2" />
<text x="61.5" y="505.3" font-family="Liberation Sans, sans-serif" font-size="14" fill="#000" text-anchor="end" stroke="#fff" stroke-width="0.12" textLength="19.8" lengthAdjust="spacingAndGlyphs" >576</text>
<line x1="63.0" y1="525.5" x2="69.6" y2="525.5" stroke="#000" stroke-width="1.2" />
<text x="61.5" y="530.3" font-family="Liberation Sans, sans-serif" font-size="14" fill="#000" text-anchor="end" stroke="#fff" stroke-width="0.12" textLength="19.8" lengthAdjust="spacingAndGlyphs" >573</text>
<text transform="translate(20.0,529.0) rotate(-90)" font-family="Liberation Sans, sans-serif" font-size="15.5" fill="#10c4c4" text-anchor="start" stroke="#fff" stroke-width="0.12" textLength="94.0" lengthAdjust="spacingAndGlyphs" >1000&#8722;500mb</text>
<text transform="translate(37.5,529.0) rotate(-90)" font-family="Liberation Sans, sans-serif" font-size="15.5" fill="#10c4c4" text-anchor="start" stroke="#fff" stroke-width="0.12" textLength="94.0" lengthAdjust="spacingAndGlyphs" >Thcknss (dm)</text>
<text transform="translate(83.5,516.0) rotate(-90)" font-family="Liberation Sans, sans-serif" font-size="15.5" fill="#2438f4" text-anchor="start" stroke="#fff" stroke-width="0.12" textLength="69.0" lengthAdjust="spacingAndGlyphs" >SLP (mb)</text>
<line x1="120.5" y1="547.5" x2="1090.5" y2="547.5" stroke="#9a9a9a" stroke-width="1" stroke-dasharray="4,2"/>
<line x1="120.5" y1="590.5" x2="1090.5" y2="590.5" stroke="#9a9a9a" stroke-width="1" stroke-dasharray="4,2"/>
<line x1="175.5" y1="525.5" x2="175.5" y2="610.5" stroke="#9a9a9a" stroke-width="1" stroke-dasharray="4,2"/>
<line x1="273.5" y1="525.5" x2="273.5" y2="610.5" stroke="#9a9a9a" stroke-width="1" stroke-dasharray="4,2"/>
<line x1="371.5" y1="525.5" x2="371.5" y2="610.5" stroke="#9a9a9a" stroke-width="1" stroke-dasharray="4,2"/>
<line x1="469.5" y1="525.5" x2="469.5" y2="610.5" stroke="#9a9a9a" stroke-width="1" stroke-dasharray="4,2"/>
<line x1="567.5" y1="525.5" x2="567.5" y2="610.5" stroke="#9a9a9a" stroke-width="1" stroke-dasharray="4,2"/>
<line x1="666.5" y1="525.5" x2="666.5" y2="610.5" stroke="#9a9a9a" stroke-width="1" stroke-dasharray="4,2"/>
<line x1="764.5" y1="525.5" x2="764.5" y2="610.5" stroke="#9a9a9a" stroke-width="1" stroke-dasharray="4,2"/>
<line x1="862.5" y1="525.5" x2="862.5" y2="610.5" stroke="#9a9a9a" stroke-width="1" stroke-dasharray="4,2"/>
<line x1="960.5" y1="525.5" x2="960.5" y2="610.5" stroke="#9a9a9a" stroke-width="1" stroke-dasharray="4,2"/>
<line x1="1059.5" y1="525.5" x2="1059.5" y2="610.5" stroke="#9a9a9a" stroke-width="1" stroke-dasharray="4,2"/>
<line x1="120.5" y1="568.5" x2="1090.5" y2="568.5" stroke="#fc2430" stroke-width="1" stroke-dasharray="4,2"/>
<g clip-path="url(#c3)">
<rect x="209.0" y="608.0" width="6.0" height="2.5" fill="#be7cf8"/>
<rect x="221.0" y="579.0" width="6.7" height="31.5" fill="#be7cf8"/>
<rect x="233.0" y="594.8" width="6.5" height="15.7" fill="#be7cf8"/>
<rect x="306.8" y="531.0" width="7.0" height="79.5" fill="#be7cf8"/>
<polyline points="126.2,604.2 138.5,599.2 150.8,607.3 163.0,606.0 175.3,602.6 187.6,623.0 199.9,617.0 212.1,599.2 224.4,585.7 236.7,584.4 249.0,597.2 261.3,589.0 273.5,586.4 285.8,588.0 298.1,582.4 310.4,571.3 322.6,576.3 334.9,592.5 347.2,602.6 359.5,610.6 371.8,618.0 384.0,620.0 396.3,618.0 408.6,606.0 420.9,611.0 433.1,618.0 445.4,616.0 457.7,607.6 470.0,609.0 482.3,614.0 494.5,611.0 506.8,597.2 519.1,591.5 531.4,591.5 543.7,602.6 555.9,605.0 568.2,610.0 580.5,618.0 592.8,634.0 605.0,604.0 617.3,592.5 629.6,594.8 641.9,601.5 654.2,603.6 666.4,620.0 678.7,622.0 691.0,622.0 703.3,618.0 715.5,608.3 727.8,620.0 740.1,622.0 752.4,622.0 764.7,622.0 776.9,622.0 789.2,622.0 801.5,622.0 813.8,622.0 826.0,622.0 838.3,622.0 850.6,622.0 862.9,622.0 875.2,622.0 887.4,619.0 899.7,606.0 912.0,610.0 924.3,618.0 936.5,620.0 948.8,620.0 961.1,620.0 973.4,620.0 985.7,611.5 997.9,595.8 1010.2,589.0 1022.5,597.2 1034.8,593.8 1047.0,590.8 1059.3,590.8 1071.6,604.2 1083.9,606.0 1096.2,602.0" fill="none" stroke="#fc2430" stroke-width="1" stroke-linejoin="round" stroke-linecap="round" />
<path d="M126.2 600.6 L128.8 604.2 L126.2 607.8 L123.6 604.2 Z M126.2 600.6 L126.2 607.8 M138.5 595.6 L141.1 599.2 L138.5 602.8 L135.9 599.2 Z M138.5 595.6 L138.5 602.8 M150.8 603.7 L153.4 607.3 L150.8 610.9 L148.2 607.3 Z M150.8 603.7 L150.8 610.9 M163.0 602.4 L165.6 606.0 L163.0 609.6 L160.4 606.0 Z M163.0 602.4 L163.0 609.6 M175.3 599.0 L177.9 602.6 L175.3 606.2 L172.7 602.6 Z M175.3 599.0 L175.3 606.2 M187.6 619.4 L190.2 623.0 L187.6 626.6 L185.0 623.0 Z M187.6 619.4 L187.6 626.6 M199.9 613.4 L202.5 617.0 L199.9 620.6 L197.3 617.0 Z M199.9 613.4 L199.9 620.6 M212.1 595.6 L214.7 599.2 L212.1 602.8 L209.5 599.2 Z M212.1 595.6 L212.1 602.8 M224.4 582.1 L227.0 585.7 L224.4 589.3 L221.8 585.7 Z M224.4 582.1 L224.4 589.3 M236.7 580.8 L239.3 584.4 L236.7 588.0 L234.1 584.4 Z M236.7 580.8 L236.7 588.0 M249.0 593.6 L251.6 597.2 L249.0 600.8 L246.4 597.2 Z M249.0 593.6 L249.0 600.8 M261.3 585.4 L263.9 589.0 L261.3 592.6 L258.7 589.0 Z M261.3 585.4 L261.3 592.6 M273.5 582.8 L276.1 586.4 L273.5 590.0 L270.9 586.4 Z M273.5 582.8 L273.5 590.0 M285.8 584.4 L288.4 588.0 L285.8 591.6 L283.2 588.0 Z M285.8 584.4 L285.8 591.6 M298.1 578.8 L300.7 582.4 L298.1 586.0 L295.5 582.4 Z M298.1 578.8 L298.1 586.0 M310.4 567.7 L313.0 571.3 L310.4 574.9 L307.8 571.3 Z M310.4 567.7 L310.4 574.9 M322.6 572.7 L325.2 576.3 L322.6 579.9 L320.0 576.3 Z M322.6 572.7 L322.6 579.9 M334.9 588.9 L337.5 592.5 L334.9 596.1 L332.3 592.5 Z M334.9 588.9 L334.9 596.1 M347.2 599.0 L349.8 602.6 L347.2 606.2 L344.6 602.6 Z M347.2 599.0 L347.2 606.2 M359.5 607.0 L362.1 610.6 L359.5 614.2 L356.9 610.6 Z M359.5 607.0 L359.5 614.2 M371.8 614.4 L374.4 618.0 L371.8 621.6 L369.2 618.0 Z M371.8 614.4 L371.8 621.6 M384.0 616.4 L386.6 620.0 L384.0 623.6 L381.4 620.0 Z M384.0 616.4 L384.0 623.6 M396.3 614.4 L398.9 618.0 L396.3 621.6 L393.7 618.0 Z M396.3 614.4 L396.3 621.6 M408.6 602.4 L411.2 606.0 L408.6 609.6 L406.0 606.0 Z M408.6 602.4 L408.6 609.6 M420.9 607.4 L423.5 611.0 L420.9 614.6 L418.3 611.0 Z M420.9 607.4 L420.9 614.6 M433.1 614.4 L435.8 618.0 L433.1 621.6 L430.5 618.0 Z M433.1 614.4 L433.1 621.6 M445.4 612.4 L448.0 616.0 L445.4 619.6 L442.8 616.0 Z M445.4 612.4 L445.4 619.6 M457.7 604.0 L460.3 607.6 L457.7 611.2 L455.1 607.6 Z M457.7 604.0 L457.7 611.2 M470.0 605.4 L472.6 609.0 L470.0 612.6 L467.4 609.0 Z M470.0 605.4 L470.0 612.6 M482.3 610.4 L484.9 614.0 L482.3 617.6 L479.7 614.0 Z M482.3 610.4 L482.3 617.6 M494.5 607.4 L497.1 611.0 L494.5 614.6 L491.9 611.0 Z M494.5 607.4 L494.5 614.6 M506.8 593.6 L509.4 597.2 L506.8 600.8 L504.2 597.2 Z M506.8 593.6 L506.8 600.8 M519.1 587.9 L521.7 591.5 L519.1 595.1 L516.5 591.5 Z M519.1 587.9 L519.1 595.1 M531.4 587.9 L534.0 591.5 L531.4 595.1 L528.8 591.5 Z M531.4 587.9 L531.4 595.1 M543.7 599.0 L546.3 602.6 L543.7 606.2 L541.1 602.6 Z M543.7 599.0 L543.7 606.2 M555.9 601.4 L558.5 605.0 L555.9 608.6 L553.3 605.0 Z M555.9 601.4 L555.9 608.6 M568.2 606.4 L570.8 610.0 L568.2 613.6 L565.6 610.0 Z M568.2 606.4 L568.2 613.6 M580.5 614.4 L583.1 618.0 L580.5 621.6 L577.9 618.0 Z M580.5 614.4 L580.5 621.6 M592.8 630.4 L595.4 634.0 L592.8 637.6 L590.2 634.0 Z M592.8 630.4 L592.8 637.6 M605.0 600.4 L607.6 604.0 L605.0 607.6 L602.4 604.0 Z M605.0 600.4 L605.0 607.6 M617.3 588.9 L619.9 592.5 L617.3 596.1 L614.7 592.5 Z M617.3 588.9 L617.3 596.1 M629.6 591.2 L632.2 594.8 L629.6 598.4 L627.0 594.8 Z M629.6 591.2 L629.6 598.4 M641.9 597.9 L644.5 601.5 L641.9 605.1 L639.3 601.5 Z M641.9 597.9 L641.9 605.1 M654.2 600.0 L656.8 603.6 L654.2 607.2 L651.6 603.6 Z M654.2 600.0 L654.2 607.2 M666.4 616.4 L669.0 620.0 L666.4 623.6 L663.8 620.0 Z M666.4 616.4 L666.4 623.6 M678.7 618.4 L681.3 622.0 L678.7 625.6 L676.1 622.0 Z M678.7 618.4 L678.7 625.6 M691.0 618.4 L693.6 622.0 L691.0 625.6 L688.4 622.0 Z M691.0 618.4 L691.0 625.6 M703.3 614.4 L705.9 618.0 L703.3 621.6 L700.7 618.0 Z M703.3 614.4 L703.3 621.6 M715.5 604.7 L718.1 608.3 L715.5 611.9 L712.9 608.3 Z M715.5 604.7 L715.5 611.9 M727.8 616.4 L730.4 620.0 L727.8 623.6 L725.2 620.0 Z M727.8 616.4 L727.8 623.6 M740.1 618.4 L742.7 622.0 L740.1 625.6 L737.5 622.0 Z M740.1 618.4 L740.1 625.6 M752.4 618.4 L755.0 622.0 L752.4 625.6 L749.8 622.0 Z M752.4 618.4 L752.4 625.6 M764.7 618.4 L767.3 622.0 L764.7 625.6 L762.1 622.0 Z M764.7 618.4 L764.7 625.6 M776.9 618.4 L779.5 622.0 L776.9 625.6 L774.3 622.0 Z M776.9 618.4 L776.9 625.6 M789.2 618.4 L791.8 622.0 L789.2 625.6 L786.6 622.0 Z M789.2 618.4 L789.2 625.6 M801.5 618.4 L804.1 622.0 L801.5 625.6 L798.9 622.0 Z M801.5 618.4 L801.5 625.6 M813.8 618.4 L816.4 622.0 L813.8 625.6 L811.2 622.0 Z M813.8 618.4 L813.8 625.6 M826.0 618.4 L828.6 622.0 L826.0 625.6 L823.4 622.0 Z M826.0 618.4 L826.0 625.6 M838.3 618.4 L840.9 622.0 L838.3 625.6 L835.7 622.0 Z M838.3 618.4 L838.3 625.6 M850.6 618.4 L853.2 622.0 L850.6 625.6 L848.0 622.0 Z M850.6 618.4 L850.6 625.6 M862.9 618.4 L865.5 622.0 L862.9 625.6 L860.3 622.0 Z M862.9 618.4 L862.9 625.6 M875.2 618.4 L877.8 622.0 L875.2 625.6 L872.6 622.0 Z M875.2 618.4 L875.2 625.6 M887.4 615.4 L890.0 619.0 L887.4 622.6 L884.8 619.0 Z M887.4 615.4 L887.4 622.6 M899.7 602.4 L902.3 606.0 L899.7 609.6 L897.1 606.0 Z M899.7 602.4 L899.7 609.6 M912.0 606.4 L914.6 610.0 L912.0 613.6 L909.4 610.0 Z M912.0 606.4 L912.0 613.6 M924.3 614.4 L926.9 618.0 L924.3 621.6 L921.7 618.0 Z M924.3 614.4 L924.3 621.6 M936.5 616.4 L939.1 620.0 L936.5 623.6 L933.9 620.0 Z M936.5 616.4 L936.5 623.6 M948.8 616.4 L951.4 620.0 L948.8 623.6 L946.2 620.0 Z M948.8 616.4 L948.8 623.6 M961.1 616.4 L963.7 620.0 L961.1 623.6 L958.5 620.0 Z M961.1 616.4 L961.1 623.6 M973.4 616.4 L976.0 620.0 L973.4 623.6 L970.8 620.0 Z M973.4 616.4 L973.4 623.6 M985.7 607.9 L988.3 611.5 L985.7 615.1 L983.1 611.5 Z M985.7 607.9 L985.7 615.1 M997.9 592.2 L1000.5 595.8 L997.9 599.4 L995.3 595.8 Z M997.9 592.2 L997.9 599.4 M1010.2 585.4 L1012.8 589.0 L1010.2 592.6 L1007.6 589.0 Z M1010.2 585.4 L1010.2 592.6 M1022.5 593.6 L1025.1 597.2 L1022.5 600.8 L1019.9 597.2 Z M1022.5 593.6 L1022.5 600.8 M1034.8 590.2 L1037.4 593.8 L1034.8 597.4 L1032.2 593.8 Z M1034.8 590.2 L1034.8 597.4 M1047.0 587.2 L1049.6 590.8 L1047.0 594.4 L1044.5 590.8 Z M1047.0 587.2 L1047.0 594.4 M1059.3 587.2 L1061.9 590.8 L1059.3 594.4 L1056.7 590.8 Z M1059.3 587.2 L1059.3 594.4 M1071.6 600.6 L1074.2 604.2 L1071.6 607.8 L1069.0 604.2 Z M1071.6 600.6 L1071.6 607.8 M1083.9 602.4 L1086.5 606.0 L1083.9 609.6 L1081.3 606.0 Z M1083.9 602.4 L1083.9 609.6 M1096.2 598.4 L1098.8 602.0 L1096.2 605.6 L1093.6 602.0 Z M1096.2 598.4 L1096.2 605.6" fill="none" stroke="#fc2430" stroke-width="1"/>
</g>
<line x1="120.5" y1="610.5" x2="1090.5" y2="610.5" stroke="#000" stroke-width="1.3" />
<line x1="116.0" y1="547.5" x2="120.5" y2="547.5" stroke="#000" stroke-width="1.2" />
<text x="112.2" y="552.7" font-family="Liberation Sans, sans-serif" font-size="14" fill="#000" text-anchor="end" stroke="#fff" stroke-width="0.12" textLength="13.0" lengthAdjust="spacingAndGlyphs" >39</text>
<line x1="116.0" y1="568.5" x2="120.5" y2="568.5" stroke="#000" stroke-width="1.2" />
<text x="112.2" y="573.7" font-family="Liberation Sans, sans-serif" font-size="14" fill="#000" text-anchor="end" stroke="#fff" stroke-width="0.12" textLength="13.0" lengthAdjust="spacingAndGlyphs" >26</text>
<line x1="116.0" y1="590.5" x2="120.5" y2="590.5" stroke="#000" stroke-width="1.2" />
<text x="112.2" y="595.4" font-family="Liberation Sans, sans-serif" font-size="14" fill="#000" text-anchor="end" stroke="#fff" stroke-width="0.12" textLength="13.0" lengthAdjust="spacingAndGlyphs" >13</text>
<line x1="50.5" y1="525.5" x2="50.5" y2="610.5" stroke="#000" stroke-width="1.2" />
<line x1="44.5" y1="525.5" x2="50.5" y2="525.5" stroke="#000" stroke-width="1.2" />
<text x="43.5" y="530.5" font-family="Liberation Sans, sans-serif" font-size="14" fill="#000" text-anchor="end" stroke="#fff" stroke-width="0.12" textLength="15.0" lengthAdjust="spacingAndGlyphs" >&#8722;6</text>
<line x1="44.5" y1="547.5" x2="50.5" y2="547.5" stroke="#000" stroke-width="1.2" />
<text x="43.5" y="552.7" font-family="Liberation Sans, sans-serif" font-size="14" fill="#000" text-anchor="end" stroke="#fff" stroke-width="0.12" textLength="15.0" lengthAdjust="spacingAndGlyphs" >&#8722;3</text>
<line x1="44.5" y1="568.5" x2="50.5" y2="568.5" stroke="#000" stroke-width="1.2" />
<text x="43.5" y="573.7" font-family="Liberation Sans, sans-serif" font-size="14" fill="#000" text-anchor="end" stroke="#fff" stroke-width="0.12" textLength="6.2" lengthAdjust="spacingAndGlyphs" >0</text>
<line x1="44.5" y1="590.5" x2="50.5" y2="590.5" stroke="#000" stroke-width="1.2" />
<text x="43.5" y="595.0" font-family="Liberation Sans, sans-serif" font-size="14" fill="#000" text-anchor="end" stroke="#fff" stroke-width="0.12" textLength="6.2" lengthAdjust="spacingAndGlyphs" >3</text>
<line x1="44.5" y1="610.5" x2="50.5" y2="610.5" stroke="#000" stroke-width="1.2" />
<text x="43.5" y="615.5" font-family="Liberation Sans, sans-serif" font-size="14" fill="#000" text-anchor="end" stroke="#fff" stroke-width="0.12" textLength="6.2" lengthAdjust="spacingAndGlyphs" >6</text>
<text transform="translate(24.0,610.0) rotate(-90)" font-family="Liberation Sans, sans-serif" font-size="15.5" fill="#fc2430" text-anchor="start" stroke="#fff" stroke-width="0.12" textLength="86.0" lengthAdjust="spacingAndGlyphs" >Lifted Index</text>
<text transform="translate(85.0,610.0) rotate(-90)" font-family="Liberation Sans, sans-serif" font-size="15.5" fill="#be7cf8" text-anchor="start" stroke="#fff" stroke-width="0.12" textLength="86.0" lengthAdjust="spacingAndGlyphs" >CAPE (J/kg)</text>
<line x1="120.5" y1="622.5" x2="1090.5" y2="622.5" stroke="#9a9a9a" stroke-width="1" stroke-dasharray="4,2"/>
<line x1="120.5" y1="647.5" x2="1090.5" y2="647.5" stroke="#9a9a9a" stroke-width="1" stroke-dasharray="4,2"/>
<line x1="120.5" y1="671.5" x2="1090.5" y2="671.5" stroke="#9a9a9a" stroke-width="1" stroke-dasharray="4,2"/>
<line x1="175.5" y1="610.5" x2="175.5" y2="695.5" stroke="#9a9a9a" stroke-width="1" stroke-dasharray="4,2"/>
<line x1="273.5" y1="610.5" x2="273.5" y2="695.5" stroke="#9a9a9a" stroke-width="1" stroke-dasharray="4,2"/>
<line x1="371.5" y1="610.5" x2="371.5" y2="695.5" stroke="#9a9a9a" stroke-width="1" stroke-dasharray="4,2"/>
<line x1="469.5" y1="610.5" x2="469.5" y2="695.5" stroke="#9a9a9a" stroke-width="1" stroke-dasharray="4,2"/>
<line x1="567.5" y1="610.5" x2="567.5" y2="695.5" stroke="#9a9a9a" stroke-width="1" stroke-dasharray="4,2"/>
<line x1="666.5" y1="610.5" x2="666.5" y2="695.5" stroke="#9a9a9a" stroke-width="1" stroke-dasharray="4,2"/>
<line x1="764.5" y1="610.5" x2="764.5" y2="695.5" stroke="#9a9a9a" stroke-width="1" stroke-dasharray="4,2"/>
<line x1="862.5" y1="610.5" x2="862.5" y2="695.5" stroke="#9a9a9a" stroke-width="1" stroke-dasharray="4,2"/>
<line x1="960.5" y1="610.5" x2="960.5" y2="695.5" stroke="#9a9a9a" stroke-width="1" stroke-dasharray="4,2"/>
<line x1="1059.5" y1="610.5" x2="1059.5" y2="695.5" stroke="#9a9a9a" stroke-width="1" stroke-dasharray="4,2"/>
<g clip-path="url(#c4)">
<path d="M126.2 651.5 L138.9 629.4 L145.8 630.9 M138.5 651.5 L140.7 626.1 L147.5 624.5 M150.8 651.5 L140.8 628.0 L146.1 623.4 M163.0 651.5 L150.3 629.4 L155.0 624.2 M175.3 651.5 L162.6 629.4 L167.2 624.2 M187.6 651.5 L174.8 629.4 L179.5 624.2 M199.9 651.5 L195.4 626.4 L201.6 623.1 M212.1 651.5 L224.1 629.0 L231.0 630.2 M224.4 651.5 L234.8 628.2 L241.8 628.9 M236.7 651.5 L244.6 627.2 L251.6 627.2 M249.0 651.5 L235.1 630.1 L239.5 624.7 M261.3 651.5 L246.6 630.6 L250.8 625.0 M273.5 651.5 L259.3 630.4 L263.6 624.8 M285.8 651.5 L270.5 631.1 L274.5 625.4 M298.1 651.5 L294.1 626.3 L300.3 623.1 M310.4 651.5 L334.3 642.8 M322.6 651.5 L348.0 654.6 M334.9 651.5 L354.5 635.1 L360.4 638.8 M347.2 651.5 L348.5 626.0 L355.3 624.2 M359.5 651.5 L344.9 630.6 M371.8 651.5 L354.4 632.9 M384.0 651.5 L368.7 631.1 L372.7 625.4 M396.3 651.5 L393.7 626.1 L400.0 623.3 M408.6 651.5 L431.5 640.3 M420.9 651.5 L445.6 657.7 M433.1 651.5 L458.3 655.9 M445.4 651.5 L432.7 629.4 L437.4 624.2 M457.7 651.5 L442.0 631.4 L445.9 625.6 M470.0 651.5 L458.0 629.0 L462.9 623.9 M482.3 651.5 L473.5 627.5 L479.1 623.2 M494.5 651.5 L495.9 626.0 L502.6 624.2 M506.8 651.5 L520.7 630.1 L527.5 631.9 M519.1 651.5 L533.0 630.1 L539.7 631.9 M531.4 651.5 L531.8 626.0 L538.5 624.0 M543.7 651.5 L532.9 628.4 L538.0 623.6 M555.9 651.5 L544.0 629.0 L548.8 623.9 M568.2 651.5 L557.0 628.6 L562.1 623.7 M580.5 651.5 L569.7 628.4 L574.8 623.6 M592.8 651.5 L591.4 626.0 L598.0 623.5 M605.0 651.5 L610.8 626.7 L617.8 626.0 M617.3 651.5 L625.6 627.4 L632.6 627.5 M629.6 651.5 L630.5 626.0 L637.2 624.1 M641.9 651.5 L630.7 628.6 L635.7 623.7 M654.2 651.5 L641.4 629.4 L646.1 624.2 M666.4 651.5 L654.5 629.0 L659.3 623.9 M678.7 651.5 L667.9 628.4 L673.1 623.6 M691.0 651.5 L687.9 626.2 L694.2 623.2 M703.3 651.5 L708.1 626.5 L715.1 625.6 M715.5 651.5 L724.3 627.5 L731.3 627.8 M727.8 651.5 L728.3 626.0 L735.0 624.0 M740.1 651.5 L729.3 628.4 L734.4 623.6 M752.4 651.5 L738.9 629.9 L743.4 624.5 M764.7 651.5 L751.1 629.9 L755.6 624.5 M776.9 651.5 L764.2 629.4 L768.9 624.2 M789.2 651.5 L783.9 626.6 L790.0 623.1 M801.5 651.5 L807.7 626.8 L814.6 626.3 M813.8 651.5 L826.1 629.2 L833.0 630.5 M826.0 651.5 L835.6 627.9 L842.6 628.3 M838.3 651.5 L823.0 631.1 M850.6 651.5 L834.2 632.0 M862.9 651.5 L847.2 631.4 L851.1 625.6 M875.2 651.5 L862.4 629.4 L867.1 624.2 M887.4 651.5 L886.1 626.0 L892.6 623.5 M899.7 651.5 L925.2 653.3 M912.0 651.5 L937.4 654.2 M924.3 651.5 L916.8 675.9 M936.5 651.5 L925.0 628.8 L929.9 623.8 M948.8 651.5 L933.5 631.1 L937.5 625.4 M961.1 651.5 L943.4 633.2 L946.7 627.0 M973.4 651.5 L956.3 632.5 L959.8 626.5 M985.7 651.5 L981.7 626.3 L987.9 623.1 M997.9 651.5 L1012.2 630.4 L1018.9 632.3 M1010.2 651.5 L1024.5 630.4 L1031.2 632.3 M1022.5 651.5 L1029.1 626.9 L1036.1 626.5 M1034.8 651.5 L1020.9 630.1 M1047.0 651.5 L1030.7 632.0 M1059.3 651.5 L1043.6 631.4 L1047.5 625.6 M1071.6 651.5 L1055.2 632.0 L1058.9 626.0 M1083.9 651.5 L1079.0 626.5 L1085.1 623.1" fill="none" stroke="#82643c" stroke-width="1"/>
<polyline points="126.2,617.5 138.5,623.5 150.8,645.4 163.0,650.5 175.3,656.5 187.6,658.2 199.9,661.6 212.1,642.7 224.4,644.7 236.7,674.0 249.0,662.2 261.3,657.9 273.5,659.9 285.8,661.2 298.1,660.5 310.4,664.0 322.6,675.7 334.9,689.8 347.2,678.0 359.5,660.5 371.8,660.5 384.0,664.0 396.3,664.0 408.6,662.2 420.9,679.0 433.1,685.8 445.4,670.6 457.7,667.3 470.0,660.5 482.3,664.0 494.5,661.6 506.8,644.7 519.1,641.4 531.4,643.7 543.7,654.5 555.9,654.8 568.2,651.5 580.5,652.8 592.8,652.0 605.0,630.3 617.3,619.5 629.6,616.0 641.9,642.0 654.2,649.8 666.4,648.8 678.7,649.8 691.0,648.8 703.3,629.6 715.5,622.9 727.8,620.2 740.1,644.4 752.4,651.0 764.7,652.0 776.9,652.8 789.2,652.8 801.5,637.0 813.8,647.0 826.0,648.8 838.3,655.5 850.6,657.9 862.9,658.9 875.2,661.2 887.4,669.0 899.7,665.0 912.0,681.4 924.3,684.8 936.5,674.7 948.8,661.2 961.1,659.9 973.4,660.5 985.7,667.3 997.9,650.5 1010.2,655.5 1022.5,689.0 1034.8,653.8 1047.0,652.0 1059.3,652.0 1071.6,654.5 1083.9,648.8 1096.2,643.0" fill="none" stroke="#ff8c08" stroke-width="1" stroke-linejoin="round" stroke-linecap="round" />
<path d="M126.2 613.9 L128.8 617.5 L126.2 621.1 L123.6 617.5 Z M138.5 619.9 L141.1 623.5 L138.5 627.1 L135.9 623.5 Z M150.8 641.8 L153.4 645.4 L150.8 649.0 L148.2 645.4 Z M163.0 646.9 L165.6 650.5 L163.0 654.1 L160.4 650.5 Z M175.3 652.9 L177.9 656.5 L175.3 660.1 L172.7 656.5 Z M187.6 654.6 L190.2 658.2 L187.6 661.8 L185.0 658.2 Z M199.9 658.0 L202.5 661.6 L199.9 665.2 L197.3 661.6 Z M212.1 639.1 L214.7 642.7 L212.1 646.3 L209.5 642.7 Z M224.4 641.1 L227.0 644.7 L224.4 648.3 L221.8 644.7 Z M236.7 670.4 L239.3 674.0 L236.7 677.6 L234.1 674.0 Z M249.0 658.6 L251.6 662.2 L249.0 665.8 L246.4 662.2 Z M261.3 654.3 L263.9 657.9 L261.3 661.5 L258.7 657.9 Z M273.5 656.3 L276.1 659.9 L273.5 663.5 L270.9 659.9 Z M285.8 657.6 L288.4 661.2 L285.8 664.8 L283.2 661.2 Z M298.1 656.9 L300.7 660.5 L298.1 664.1 L295.5 660.5 Z M310.4 660.4 L313.0 664.0 L310.4 667.6 L307.8 664.0 Z M322.6 672.1 L325.2 675.7 L322.6 679.3 L320.0 675.7 Z M334.9 686.2 L337.5 689.8 L334.9 693.4 L332.3 689.8 Z M347.2 674.4 L349.8 678.0 L347.2 681.6 L344.6 678.0 Z M359.5 656.9 L362.1 660.5 L359.5 664.1 L356.9 660.5 Z M371.8 656.9 L374.4 660.5 L371.8 664.1 L369.2 660.5 Z M384.0 660.4 L386.6 664.0 L384.0 667.6 L381.4 664.0 Z M396.3 660.4 L398.9 664.0 L396.3 667.6 L393.7 664.0 Z M408.6 658.6 L411.2 662.2 L408.6 665.8 L406.0 662.2 Z M420.9 675.4 L423.5 679.0 L420.9 682.6 L418.3 679.0 Z M433.1 682.2 L435.8 685.8 L433.1 689.4 L430.5 685.8 Z M445.4 667.0 L448.0 670.6 L445.4 674.2 L442.8 670.6 Z M457.7 663.7 L460.3 667.3 L457.7 670.9 L455.1 667.3 Z M470.0 656.9 L472.6 660.5 L470.0 664.1 L467.4 660.5 Z M482.3 660.4 L484.9 664.0 L482.3 667.6 L479.7 664.0 Z M494.5 658.0 L497.1 661.6 L494.5 665.2 L491.9 661.6 Z M506.8 641.1 L509.4 644.7 L506.8 648.3 L504.2 644.7 Z M519.1 637.8 L521.7 641.4 L519.1 645.0 L516.5 641.4 Z M531.4 640.1 L534.0 643.7 L531.4 647.3 L528.8 643.7 Z M543.7 650.9 L546.3 654.5 L543.7 658.1 L541.1 654.5 Z M555.9 651.2 L558.5 654.8 L555.9 658.4 L553.3 654.8 Z M568.2 647.9 L570.8 651.5 L568.2 655.1 L565.6 651.5 Z M580.5 649.2 L583.1 652.8 L580.5 656.4 L577.9 652.8 Z M592.8 648.4 L595.4 652.0 L592.8 655.6 L590.2 652.0 Z M605.0 626.7 L607.6 630.3 L605.0 633.9 L602.4 630.3 Z M617.3 615.9 L619.9 619.5 L617.3 623.1 L614.7 619.5 Z M629.6 612.4 L632.2 616.0 L629.6 619.6 L627.0 616.0 Z M641.9 638.4 L644.5 642.0 L641.9 645.6 L639.3 642.0 Z M654.2 646.2 L656.8 649.8 L654.2 653.4 L651.6 649.8 Z M666.4 645.2 L669.0 648.8 L666.4 652.4 L663.8 648.8 Z M678.7 646.2 L681.3 649.8 L678.7 653.4 L676.1 649.8 Z M691.0 645.2 L693.6 648.8 L691.0 652.4 L688.4 648.8 Z M703.3 626.0 L705.9 629.6 L703.3 633.2 L700.7 629.6 Z M715.5 619.3 L718.1 622.9 L715.5 626.5 L712.9 622.9 Z M727.8 616.6 L730.4 620.2 L727.8 623.8 L725.2 620.2 Z M740.1 640.8 L742.7 644.4 L740.1 648.0 L737.5 644.4 Z M752.4 647.4 L755.0 651.0 L752.4 654.6 L749.8 651.0 Z M764.7 648.4 L767.3 652.0 L764.7 655.6 L762.1 652.0 Z M776.9 649.2 L779.5 652.8 L776.9 656.4 L774.3 652.8 Z M789.2 649.2 L791.8 652.8 L789.2 656.4 L786.6 652.8 Z M801.5 633.4 L804.1 637.0 L801.5 640.6 L798.9 637.0 Z M813.8 643.4 L816.4 647.0 L813.8 650.6 L811.2 647.0 Z M826.0 645.2 L828.6 648.8 L826.0 652.4 L823.4 648.8 Z M838.3 651.9 L840.9 655.5 L838.3 659.1 L835.7 655.5 Z M850.6 654.3 L853.2 657.9 L850.6 661.5 L848.0 657.9 Z M862.9 655.3 L865.5 658.9 L862.9 662.5 L860.3 658.9 Z M875.2 657.6 L877.8 661.2 L875.2 664.8 L872.6 661.2 Z M887.4 665.4 L890.0 669.0 L887.4 672.6 L884.8 669.0 Z M899.7 661.4 L902.3 665.0 L899.7 668.6 L897.1 665.0 Z M912.0 677.8 L914.6 681.4 L912.0 685.0 L909.4 681.4 Z M924.3 681.2 L926.9 684.8 L924.3 688.4 L921.7 684.8 Z M936.5 671.1 L939.1 674.7 L936.5 678.3 L933.9 674.7 Z M948.8 657.6 L951.4 661.2 L948.8 664.8 L946.2 661.2 Z M961.1 656.3 L963.7 659.9 L961.1 663.5 L958.5 659.9 Z M973.4 656.9 L976.0 660.5 L973.4 664.1 L970.8 660.5 Z M985.7 663.7 L988.3 667.3 L985.7 670.9 L983.1 667.3 Z M997.9 646.9 L1000.5 650.5 L997.9 654.1 L995.3 650.5 Z M1010.2 651.9 L1012.8 655.5 L1010.2 659.1 L1007.6 655.5 Z M1022.5 685.4 L1025.1 689.0 L1022.5 692.6 L1019.9 689.0 Z M1034.8 650.2 L1037.4 653.8 L1034.8 657.4 L1032.2 653.8 Z M1047.0 648.4 L1049.6 652.0 L1047.0 655.6 L1044.5 652.0 Z M1059.3 648.4 L1061.9 652.0 L1059.3 655.6 L1056.7 652.0 Z M1071.6 650.9 L1074.2 654.5 L1071.6 658.1 L1069.0 654.5 Z M1083.9 645.2 L1086.5 648.8 L1083.9 652.4 L1081.3 648.8 Z M1096.2 639.4 L1098.8 643.0 L1096.2 646.6 L1093.6 643.0 Z" fill="#fff" fill-opacity="0.5" stroke="#ff8c08" stroke-width="1"/>
</g>
<line x1="120.5" y1="695.5" x2="1090.5" y2="695.5" stroke="#000" stroke-width="1.3" />
<line x1="116.0" y1="622.5" x2="120.5" y2="622.5" stroke="#000" stroke-width="1.2" />
<text x="112.2" y="627.5" font-family="Liberation Sans, sans-serif" font-size="14" fill="#000" text-anchor="end" stroke="#fff" stroke-width="0.12" textLength="6.2" lengthAdjust="spacingAndGlyphs" >9</text>
<line x1="116.0" y1="647.5" x2="120.5" y2="647.5" stroke="#000" stroke-width="1.2" />
<text x="112.2" y="652.0" font-family="Liberation Sans, sans-serif" font-size="14" fill="#000" text-anchor="end" stroke="#fff" stroke-width="0.12" textLength="6.2" lengthAdjust="spacingAndGlyphs" >6</text>
<line x1="116.0" y1="671.5" x2="120.5" y2="671.5" stroke="#000" stroke-width="1.2" />
<text x="112.2" y="676.3" font-family="Liberation Sans, sans-serif" font-size="14" fill="#000" text-anchor="end" stroke="#fff" stroke-width="0.12" textLength="6.2" lengthAdjust="spacingAndGlyphs" >3</text>
<text transform="translate(21.0,687.0) rotate(-90)" font-family="Liberation Sans, sans-serif" font-size="15.5" fill="#ff8c08" text-anchor="start" stroke="#fff" stroke-width="0.12" textLength="70.0" lengthAdjust="spacingAndGlyphs" >10m Wind</text>
<text transform="translate(41.0,674.5) rotate(-90)" font-family="Liberation Sans, sans-serif" font-size="15.5" fill="#ff8c08" text-anchor="start" stroke="#fff" stroke-width="0.12" textLength="41.0" lengthAdjust="spacingAndGlyphs" >Speed</text>
<text transform="translate(61.0,684.5) rotate(-90)" font-family="Liberation Sans, sans-serif" font-size="15.5" fill="#82643c" text-anchor="start" stroke="#fff" stroke-width="0.12" textLength="62.0" lengthAdjust="spacingAndGlyphs" >&amp; Barbs</text>
<text transform="translate(80.5,675.0) rotate(-90)" font-family="Liberation Sans, sans-serif" font-size="16" fill="#000" text-anchor="start" stroke="#fff" stroke-width="0.12" textLength="43.0" lengthAdjust="spacingAndGlyphs" >(m/s)</text>
<defs><clipPath id="ct"><path d="M126.2 780.5 L126.2 713.4 L138.5 717.0 L150.8 722.8 L163.0 728.5 L175.3 732.9 L187.6 734.5 L199.9 727.0 L212.1 717.0 L224.4 712.7 L236.7 716.0 L249.0 720.0 L261.3 723.8 L273.5 726.8 L285.8 728.8 L298.1 721.8 L310.4 712.7 L322.6 713.4 L334.9 714.4 L347.2 716.7 L359.5 717.7 L371.8 722.8 L384.0 723.8 L396.3 716.0 L408.6 710.0 L420.9 711.0 L433.1 713.7 L445.4 716.0 L457.7 719.4 L470.0 723.8 L482.3 725.1 L494.5 717.7 L506.8 709.3 L519.1 705.0 L531.4 710.3 L543.7 717.7 L555.9 722.8 L568.2 726.1 L580.5 727.8 L592.8 719.4 L605.0 712.0 L617.3 707.0 L629.6 712.0 L641.9 720.4 L654.2 726.1 L666.4 729.5 L678.7 731.9 L691.0 722.8 L703.3 714.4 L715.5 710.0 L727.8 714.4 L740.1 721.0 L752.4 727.0 L764.7 729.5 L776.9 730.5 L789.2 721.0 L801.5 710.0 L813.8 707.0 L826.0 711.0 L838.3 717.7 L850.6 721.0 L862.9 723.8 L875.2 725.0 L887.4 716.7 L899.7 711.7 L912.0 711.0 L924.3 713.7 L936.5 715.4 L948.8 717.0 L961.1 718.4 L973.4 720.0 L985.7 712.7 L997.9 705.0 L1010.2 702.6 L1022.5 708.3 L1034.8 714.4 L1047.0 717.7 L1059.3 720.4 L1071.6 723.4 L1083.9 714.4 L1083.9 780.5 Z"/></clipPath></defs>
<g clip-path="url(#ct)">
<rect x="126.2" y="695.0" width="957.7" height="15.7" fill="#fc2c04"/>
<rect x="126.2" y="710.4" width="957.7" height="11.1" fill="#ff6c00"/>
<rect x="126.2" y="721.2" width="957.7" height="11.1" fill="#ffac38"/>
<rect x="126.2" y="732.0" width="957.7" height="11.1" fill="#f4fc78"/>
<rect x="126.2" y="742.8" width="957.7" height="11.1" fill="#50f050"/>
<rect x="126.2" y="753.6" width="957.7" height="11.1" fill="#28b828"/>
<rect x="126.2" y="764.4" width="957.7" height="11.1" fill="#2c7ce8"/>
<rect x="126.2" y="775.2" width="957.7" height="6.1" fill="#50a0f8"/>
</g>
<line x1="120.5" y1="710.5" x2="1090.5" y2="710.5" stroke="#9a9a9a" stroke-width="1" stroke-dasharray="4,2"/>
<line x1="120.5" y1="731.5" x2="1090.5" y2="731.5" stroke="#9a9a9a" stroke-width="1" stroke-dasharray="4,2"/>
<line x1="120.5" y1="753.5" x2="1090.5" y2="753.5" stroke="#9a9a9a" stroke-width="1" stroke-dasharray="4,2"/>
<line x1="120.5" y1="775.5" x2="1090.5" y2="775.5" stroke="#9a9a9a" stroke-width="1" stroke-dasharray="4,2"/>
<line x1="175.5" y1="695.5" x2="175.5" y2="780.5" stroke="#9a9a9a" stroke-width="1" stroke-dasharray="4,2"/>
<line x1="273.5" y1="695.5" x2="273.5" y2="780.5" stroke="#9a9a9a" stroke-width="1" stroke-dasharray="4,2"/>
<line x1="371.5" y1="695.5" x2="371.5" y2="780.5" stroke="#9a9a9a" stroke-width="1" stroke-dasharray="4,2"/>
<line x1="469.5" y1="695.5" x2="469.5" y2="780.5" stroke="#9a9a9a" stroke-width="1" stroke-dasharray="4,2"/>
<line x1="567.5" y1="695.5" x2="567.5" y2="780.5" stroke="#9a9a9a" stroke-width="1" stroke-dasharray="4,2"/>
<line x1="666.5" y1="695.5" x2="666.5" y2="780.5" stroke="#9a9a9a" stroke-width="1" stroke-dasharray="4,2"/>
<line x1="764.5" y1="695.5" x2="764.5" y2="780.5" stroke="#9a9a9a" stroke-width="1" stroke-dasharray="4,2"/>
<line x1="862.5" y1="695.5" x2="862.5" y2="780.5" stroke="#9a9a9a" stroke-width="1" stroke-dasharray="4,2"/>
<line x1="960.5" y1="695.5" x2="960.5" y2="780.5" stroke="#9a9a9a" stroke-width="1" stroke-dasharray="4,2"/>
<line x1="1059.5" y1="695.5" x2="1059.5" y2="780.5" stroke="#9a9a9a" stroke-width="1" stroke-dasharray="4,2"/>
<polyline points="126.2,713.4 138.5,717.0 150.8,722.8 163.0,728.5 175.3,732.9 187.6,734.5 199.9,727.0 212.1,717.0 224.4,712.7 236.7,716.0 249.0,720.0 261.3,723.8 273.5,726.8 285.8,728.8 298.1,721.8 310.4,712.7 322.6,713.4 334.9,714.4 347.2,716.7 359.5,717.7 371.8,722.8 384.0,723.8 396.3,716.0 408.6,710.0 420.9,711.0 433.1,713.7 445.4,716.0 457.7,719.4 470.0,723.8 482.3,725.1 494.5,717.7 506.8,709.3 519.1,705.0 531.4,710.3 543.7,717.7 555.9,722.8 568.2,726.1 580.5,727.8 592.8,719.4 605.0,712.0 617.3,707.0 629.6,712.0 641.9,720.4 654.2,726.1 666.4,729.5 678.7,731.9 691.0,722.8 703.3,714.4 715.5,710.0 727.8,714.4 740.1,721.0 752.4,727.0 764.7,729.5 776.9,730.5 789.2,721.0 801.5,710.0 813.8,707.0 826.0,711.0 838.3,717.7 850.6,721.0 862.9,723.8 875.2,725.0 887.4,716.7 899.7,711.7 912.0,711.0 924.3,713.7 936.5,715.4 948.8,717.0 961.1,718.4 973.4,720.0 985.7,712.7 997.9,705.0 1010.2,702.6 1022.5,708.3 1034.8,714.4 1047.0,717.7 1059.3,720.4 1071.6,723.4 1083.9,714.4" fill="none" stroke="#784040" stroke-width="2.0" stroke-linejoin="round" stroke-linecap="round" />
<polyline points="126.2,773.2 138.5,769.9 150.8,767.2 163.0,763.8 175.3,760.4 187.6,765.8 199.9,767.5 212.1,767.5 224.4,768.8 236.7,764.0 249.0,764.8 261.3,759.8 273.5,757.4 285.8,756.4 298.1,757.4 310.4,759.0 322.6,760.4 334.9,762.5 347.2,763.8 359.5,765.8 371.8,761.5 384.0,761.5 396.3,763.0 408.6,763.0 420.9,762.5 433.1,761.5 445.4,764.8 457.7,755.7 470.0,754.7 482.3,756.4 494.5,759.0 506.8,761.5 519.1,763.0 531.4,758.8 543.7,758.0 555.9,757.0 568.2,757.0 580.5,767.5 592.8,771.5 605.0,765.8 617.3,762.0 629.6,760.8 641.9,756.4 654.2,754.7 666.4,760.8 678.7,770.5 691.0,771.5 703.3,767.2 715.5,767.2 727.8,767.2 740.1,763.8 752.4,763.8 764.7,765.8 776.9,768.8 789.2,769.9 801.5,772.2 813.8,775.0 826.0,773.2 838.3,771.5 850.6,769.2 862.9,766.5 875.2,765.8 887.4,765.8 899.7,764.8 912.0,766.5 924.3,769.9 936.5,771.5 948.8,772.2 961.1,771.5 973.4,770.9 985.7,769.9 997.9,769.9 1010.2,768.8 1022.5,767.5 1034.8,763.0 1047.0,758.0 1059.3,757.0 1071.6,760.8 1083.9,765.8" fill="none" stroke="#784040" stroke-width="2.0" stroke-linejoin="round" stroke-linecap="round" />
<polyline points="126.2,773.2 138.5,769.9 150.8,767.2 163.0,763.8 175.3,760.4 187.6,765.8 199.9,767.5 212.1,767.5 224.4,768.8 236.7,764.0 249.0,764.8 261.3,759.8 273.5,757.4 285.8,756.4 298.1,757.4 310.4,759.0 322.6,760.4 334.9,762.5 347.2,763.8 359.5,765.8 371.8,761.5 384.0,761.5 396.3,763.0 408.6,763.0 420.9,762.5 433.1,761.5 445.4,764.8 457.7,755.7 470.0,754.7 482.3,756.4 494.5,759.0 506.8,761.5 519.1,763.0 531.4,758.8 543.7,758.0 555.9,757.0 568.2,757.0 580.5,767.5 592.8,771.5 605.0,765.8 617.3,762.0 629.6,760.8 641.9,756.4 654.2,754.7 666.4,760.8 678.7,770.5 691.0,771.5 703.3,767.2 715.5,767.2 727.8,767.2 740.1,763.8 752.4,763.8 764.7,765.8 776.9,768.8 789.2,769.9 801.5,772.2 813.8,775.0 826.0,773.2 838.3,771.5 850.6,769.2 862.9,766.5 875.2,765.8 887.4,765.8 899.7,764.8 912.0,766.5 924.3,769.9 936.5,771.5 948.8,772.2 961.1,771.5 973.4,770.9 985.7,769.9 997.9,769.9 1010.2,768.8 1022.5,767.5 1034.8,763.0 1047.0,758.0 1059.3,757.0 1071.6,760.8 1083.9,765.8" fill="none" stroke="#fff" stroke-width="1.0" stroke-linejoin="round" stroke-linecap="round" stroke-dasharray="3,4"/>
<path d="M150.8 713.4 L150.8 725.0 M147.8 713.4 L153.8 713.4 M147.8 725.0 L153.8 725.0 M175.3 724.5 L175.3 732.9 M172.3 724.5 L178.3 724.5 M172.3 732.9 L178.3 732.9 M199.9 727.8 L199.9 735.2 M196.9 727.8 L202.9 727.8 M196.9 735.2 L202.9 735.2 M224.4 712.7 L224.4 727.0 M221.4 712.7 L227.4 712.7 M221.4 727.0 L227.4 727.0 M249.0 711.0 L249.0 722.8 M246.0 711.0 L252.0 711.0 M246.0 722.8 L252.0 722.8 M273.5 721.0 L273.5 728.8 M270.5 721.0 L276.5 721.0 M270.5 728.8 L276.5 728.8 M298.1 721.0 L298.1 729.5 M295.1 721.0 L301.1 721.0 M295.1 729.5 L301.1 729.5 M322.6 711.0 L322.6 721.8 M319.6 711.0 L325.6 711.0 M319.6 721.8 L325.6 721.8 M347.2 712.7 L347.2 720.0 M344.2 712.7 L350.2 712.7 M344.2 720.0 L350.2 720.0 M371.8 715.0 L371.8 722.8 M368.8 715.0 L374.8 715.0 M368.8 722.8 L374.8 722.8 M396.3 716.0 L396.3 723.8 M393.3 716.0 L399.3 716.0 M393.3 723.8 L399.3 723.8 M420.9 707.6 L420.9 719.4 M417.9 707.6 L423.9 707.6 M417.9 719.4 L423.9 719.4 M445.4 708.6 L445.4 720.4 M442.4 708.6 L448.4 708.6 M442.4 720.4 L448.4 720.4 M470.0 715.4 L470.0 723.8 M467.0 715.4 L473.0 715.4 M467.0 723.8 L473.0 723.8 M494.5 717.7 L494.5 726.1 M491.5 717.7 L497.5 717.7 M491.5 726.1 L497.5 726.1 M519.1 705.0 L519.1 719.4 M516.1 705.0 L522.1 705.0 M516.1 719.4 L522.1 719.4 M543.7 703.6 L543.7 717.7 M540.7 703.6 L546.7 703.6 M540.7 717.7 L546.7 717.7 M568.2 717.7 L568.2 727.0 M565.2 717.7 L571.2 717.7 M565.2 727.0 L571.2 727.0 M592.8 719.4 L592.8 729.5 M589.8 719.4 L595.8 719.4 M589.8 729.5 L595.8 729.5 M617.3 707.0 L617.3 719.4 M614.3 707.0 L620.3 707.0 M614.3 719.4 L620.3 719.4 M641.9 706.6 L641.9 720.4 M638.9 706.6 L644.9 706.6 M638.9 720.4 L644.9 720.4 M666.4 721.8 L666.4 730.5 M663.4 721.8 L669.4 721.8 M663.4 730.5 L669.4 730.5 M691.0 722.8 L691.0 732.2 M688.0 722.8 L694.0 722.8 M688.0 732.2 L694.0 732.2 M715.5 710.0 L715.5 722.8 M712.5 710.0 L718.5 710.0 M712.5 722.8 L718.5 722.8 M740.1 709.3 L740.1 721.0 M737.1 709.3 L743.1 709.3 M737.1 721.0 L743.1 721.0 M764.7 722.8 L764.7 730.5 M761.7 722.8 L767.7 722.8 M761.7 730.5 L767.7 730.5 M789.2 721.0 L789.2 731.2 M786.2 721.0 L792.2 721.0 M786.2 731.2 L792.2 731.2 M813.8 707.0 L813.8 720.0 M810.8 707.0 L816.8 707.0 M810.8 720.0 L816.8 720.0 M838.3 706.6 L838.3 717.7 M835.3 706.6 L841.3 706.6 M835.3 717.7 L841.3 717.7 M862.9 718.4 L862.9 724.5 M859.9 718.4 L865.9 718.4 M859.9 724.5 L865.9 724.5 M887.4 716.7 L887.4 726.0 M884.4 716.7 L890.4 716.7 M884.4 726.0 L890.4 726.0 M912.0 711.0 L912.0 719.4 M909.0 711.0 L915.0 711.0 M909.0 719.4 L915.0 719.4 M936.5 710.0 L936.5 719.4 M933.5 710.0 L939.5 710.0 M933.5 719.4 L939.5 719.4 M961.1 715.0 L961.1 719.4 M958.1 715.0 L964.1 715.0 M958.1 719.4 L964.1 719.4 M985.7 712.7 L985.7 720.4 M982.7 712.7 L988.7 712.7 M982.7 720.4 L988.7 720.4 M1010.2 702.6 L1010.2 713.4 M1007.2 702.6 L1013.2 702.6 M1007.2 713.4 L1013.2 713.4 M1034.8 701.0 L1034.8 716.0 M1031.8 701.0 L1037.8 701.0 M1031.8 716.0 L1037.8 716.0 M1059.3 714.4 L1059.3 721.0 M1056.3 714.4 L1062.3 714.4 M1056.3 721.0 L1062.3 721.0 M1083.9 714.4 L1083.9 723.4 M1080.9 714.4 L1086.9 714.4 M1080.9 723.4 L1086.9 723.4" fill="none" stroke="#784838" stroke-width="1"/>
<line x1="120.5" y1="780.5" x2="1090.5" y2="780.5" stroke="#000" stroke-width="1.3" />
<line x1="116.0" y1="710.5" x2="120.5" y2="710.5" stroke="#000" stroke-width="1.2" />
<text x="112.2" y="715.3" font-family="Liberation Sans, sans-serif" font-size="14" fill="#000" text-anchor="end" stroke="#fff" stroke-width="0.12" textLength="13.0" lengthAdjust="spacingAndGlyphs" >32</text>
<line x1="116.0" y1="731.5" x2="120.5" y2="731.5" stroke="#000" stroke-width="1.2" />
<text x="112.2" y="736.5" font-family="Liberation Sans, sans-serif" font-size="14" fill="#000" text-anchor="end" stroke="#fff" stroke-width="0.12" textLength="13.0" lengthAdjust="spacingAndGlyphs" >24</text>
<line x1="116.0" y1="753.5" x2="120.5" y2="753.5" stroke="#000" stroke-width="1.2" />
<text x="112.2" y="758.4" font-family="Liberation Sans, sans-serif" font-size="14" fill="#000" text-anchor="end" stroke="#fff" stroke-width="0.12" textLength="13.0" lengthAdjust="spacingAndGlyphs" >16</text>
<line x1="116.0" y1="775.5" x2="120.5" y2="775.5" stroke="#000" stroke-width="1.2" />
<text x="112.2" y="780.2" font-family="Liberation Sans, sans-serif" font-size="14" fill="#000" text-anchor="end" stroke="#fff" stroke-width="0.12" textLength="6.2" lengthAdjust="spacingAndGlyphs" >8</text>
<text transform="translate(21.0,772.0) rotate(-90)" font-family="Liberation Sans, sans-serif" font-size="15.5" fill="#804038" text-anchor="start" stroke="#fff" stroke-width="0.12" textLength="67.0" lengthAdjust="spacingAndGlyphs" >2m Temp</text>
<text transform="translate(41.0,775.0) rotate(-90)" font-family="Liberation Sans, sans-serif" font-size="15.5" fill="#804038" text-anchor="start" stroke="#fff" stroke-width="0.12" textLength="75.0" lengthAdjust="spacingAndGlyphs" >2m DewPt</text>
<text transform="translate(61.0,790.0) rotate(-90)" font-family="Liberation Sans, sans-serif" font-size="15.5" fill="#804038" text-anchor="start" stroke="#fff" stroke-width="0.12" textLength="104.0" lengthAdjust="spacingAndGlyphs" >(6hr Min/Max)</text>
<text transform="translate(80.5,751.0) rotate(-90)" font-family="Liberation Sans, sans-serif" font-size="16" fill="#000" text-anchor="start" stroke="#fff" stroke-width="0.12" textLength="26.0" lengthAdjust="spacingAndGlyphs" >(&#176;C)</text>
<defs><clipPath id="cr"><path d="M126.2 865.5 L126.2 844.0 L138.5 840.0 L150.8 825.5 L163.0 807.7 L175.3 787.8 L187.6 803.0 L199.9 821.5 L212.1 835.6 L224.4 839.6 L236.7 827.2 L249.0 826.2 L261.3 809.7 L273.5 797.6 L285.8 790.2 L298.1 809.7 L310.4 823.0 L322.6 822.8 L334.9 826.5 L347.2 826.2 L359.5 831.2 L371.8 814.4 L384.0 811.0 L396.3 826.2 L408.6 834.6 L420.9 831.6 L433.1 826.2 L445.4 832.2 L457.7 810.4 L470.0 796.2 L482.3 795.2 L494.5 816.0 L506.8 833.0 L519.1 841.3 L531.4 831.2 L543.7 820.5 L555.9 806.0 L568.2 794.6 L580.5 816.0 L592.8 838.0 L605.0 839.0 L617.3 839.0 L629.6 834.0 L641.9 808.0 L654.2 790.2 L666.4 797.0 L678.7 815.4 L691.0 835.0 L703.3 839.0 L715.5 844.0 L727.8 842.3 L740.1 820.5 L752.4 810.4 L764.7 808.7 L776.9 815.4 L789.2 834.0 L801.5 850.7 L813.8 855.8 L826.0 850.7 L838.3 844.0 L850.6 834.6 L862.9 824.5 L875.2 818.8 L887.4 831.6 L899.7 834.6 L912.0 836.3 L924.3 839.0 L936.5 843.3 L948.8 844.7 L961.1 840.6 L973.4 837.3 L985.7 845.7 L997.9 852.4 L1010.2 850.7 L1022.5 844.0 L1034.8 834.0 L1047.0 816.4 L1059.3 808.7 L1071.6 812.7 L1083.9 839.0 L1083.9 865.5 Z"/></clipPath></defs>
<g clip-path="url(#cr)">
<rect x="126.2" y="780.0" width="957.7" height="39.1" fill="#78d878"/>
<rect x="126.2" y="818.8" width="957.7" height="23.8" fill="#a0d0a0"/>
<rect x="126.2" y="842.3" width="957.7" height="24.0" fill="#c8d8c8"/>
</g>
<line x1="120.5" y1="795.5" x2="1090.5" y2="795.5" stroke="#9a9a9a" stroke-width="1" stroke-dasharray="4,2"/>
<line x1="120.5" y1="842.5" x2="1090.5" y2="842.5" stroke="#9a9a9a" stroke-width="1" stroke-dasharray="4,2"/>
<line x1="175.5" y1="780.5" x2="175.5" y2="865.5" stroke="#9a9a9a" stroke-width="1" stroke-dasharray="4,2"/>
<line x1="273.5" y1="780.5" x2="273.5" y2="865.5" stroke="#9a9a9a" stroke-width="1" stroke-dasharray="4,2"/>
<line x1="371.5" y1="780.5" x2="371.5" y2="865.5" stroke="#9a9a9a" stroke-width="1" stroke-dasharray="4,2"/>
<line x1="469.5" y1="780.5" x2="469.5" y2="865.5" stroke="#9a9a9a" stroke-width="1" stroke-dasharray="4,2"/>
<line x1="567.5" y1="780.5" x2="567.5" y2="865.5" stroke="#9a9a9a" stroke-width="1" stroke-dasharray="4,2"/>
<line x1="666.5" y1="780.5" x2="666.5" y2="865.5" stroke="#9a9a9a" stroke-width="1" stroke-dasharray="4,2"/>
<line x1="764.5" y1="780.5" x2="764.5" y2="865.5" stroke="#9a9a9a" stroke-width="1" stroke-dasharray="4,2"/>
<line x1="862.5" y1="780.5" x2="862.5" y2="865.5" stroke="#9a9a9a" stroke-width="1" stroke-dasharray="4,2"/>
<line x1="960.5" y1="780.5" x2="960.5" y2="865.5" stroke="#9a9a9a" stroke-width="1" stroke-dasharray="4,2"/>
<line x1="1059.5" y1="780.5" x2="1059.5" y2="865.5" stroke="#9a9a9a" stroke-width="1" stroke-dasharray="4,2"/>
<polyline points="126.2,844.0 138.5,840.0 150.8,825.5 163.0,807.7 175.3,787.8 187.6,803.0 199.9,821.5 212.1,835.6 224.4,839.6 236.7,827.2 249.0,826.2 261.3,809.7 273.5,797.6 285.8,790.2 298.1,809.7 310.4,823.0 322.6,822.8 334.9,826.5 347.2,826.2 359.5,831.2 371.8,814.4 384.0,811.0 396.3,826.2 408.6,834.6 420.9,831.6 433.1,826.2 445.4,832.2 457.7,810.4 470.0,796.2 482.3,795.2 494.5,816.0 506.8,833.0 519.1,841.3 531.4,831.2 543.7,820.5 555.9,806.0 568.2,794.6 580.5,816.0 592.8,838.0 605.0,839.0 617.3,839.0 629.6,834.0 641.9,808.0 654.2,790.2 666.4,797.0 678.7,815.4 691.0,835.0 703.3,839.0 715.5,844.0 727.8,842.3 740.1,820.5 752.4,810.4 764.7,808.7 776.9,815.4 789.2,834.0 801.5,850.7 813.8,855.8 826.0,850.7 838.3,844.0 850.6,834.6 862.9,824.5 875.2,818.8 887.4,831.6 899.7,834.6 912.0,836.3 924.3,839.0 936.5,843.3 948.8,844.7 961.1,840.6 973.4,837.3 985.7,845.7 997.9,852.4 1010.2,850.7 1022.5,844.0 1034.8,834.0 1047.0,816.4 1059.3,808.7 1071.6,812.7 1083.9,839.0" fill="none" stroke="#188418" stroke-width="1.1" stroke-linejoin="round" stroke-linecap="round" />
<g fill="#fff" stroke="#188418" stroke-width="1">
<circle cx="126.2" cy="844.0" r="2.8"/>
<circle cx="138.5" cy="840.0" r="2.8"/>
<circle cx="150.8" cy="825.5" r="2.8"/>
<circle cx="163.0" cy="807.7" r="2.8"/>
<circle cx="175.3" cy="787.8" r="2.8"/>
<circle cx="187.6" cy="803.0" r="2.8"/>
<circle cx="199.9" cy="821.5" r="2.8"/>
<circle cx="212.1" cy="835.6" r="2.8"/>
<circle cx="224.4" cy="839.6" r="2.8"/>
<circle cx="236.7" cy="827.2" r="2.8"/>
<circle cx="249.0" cy="826.2" r="2.8"/>
<circle cx="261.3" cy="809.7" r="2.8"/>
<circle cx="273.5" cy="797.6" r="2.8"/>
<circle cx="285.8" cy="790.2" r="2.8"/>
<circle cx="298.1" cy="809.7" r="2.8"/>
<circle cx="310.4" cy="823.0" r="2.8"/>
<circle cx="322.6" cy="822.8" r="2.8"/>
<circle cx="334.9" cy="826.5" r="2.8"/>
<circle cx="347.2" cy="826.2" r="2.8"/>
<circle cx="359.5" cy="831.2" r="2.8"/>
<circle cx="371.8" cy="814.4" r="2.8"/>
<circle cx="384.0" cy="811.0" r="2.8"/>
<circle cx="396.3" cy="826.2" r="2.8"/>
<circle cx="408.6" cy="834.6" r="2.8"/>
<circle cx="420.9" cy="831.6" r="2.8"/>
<circle cx="433.1" cy="826.2" r="2.8"/>
<circle cx="445.4" cy="832.2" r="2.8"/>
<circle cx="457.7" cy="810.4" r="2.8"/>
<circle cx="470.0" cy="796.2" r="2.8"/>
<circle cx="482.3" cy="795.2" r="2.8"/>
<circle cx="494.5" cy="816.0" r="2.8"/>
<circle cx="506.8" cy="833.0" r="2.8"/>
<circle cx="519.1" cy="841.3" r="2.8"/>
<circle cx="531.4" cy="831.2" r="2.8"/>
<circle cx="543.7" cy="820.5" r="2.8"/>
<circle cx="555.9" cy="806.0" r="2.8"/>
<circle cx="568.2" cy="794.6" r="2.8"/>
<circle cx="580.5" cy="816.0" r="2.8"/>
<circle cx="592.8" cy="838.0" r="2.8"/>
<circle cx="605.0" cy="839.0" r="2.8"/>
<circle cx="617.3" cy="839.0" r="2.8"/>
<circle cx="629.6" cy="834.0" r="2.8"/>
<circle cx="641.9" cy="808.0" r="2.8"/>
<circle cx="654.2" cy="790.2" r="2.8"/>
<circle cx="666.4" cy="797.0" r="2.8"/>
<circle cx="678.7" cy="815.4" r="2.8"/>
<circle cx="691.0" cy="835.0" r="2.8"/>
<circle cx="703.3" cy="839.0" r="2.8"/>
<circle cx="715.5" cy="844.0" r="2.8"/>
<circle cx="727.8" cy="842.3" r="2.8"/>
<circle cx="740.1" cy="820.5" r="2.8"/>
<circle cx="752.4" cy="810.4" r="2.8"/>
<circle cx="764.7" cy="808.7" r="2.8"/>
<circle cx="776.9" cy="815.4" r="2.8"/>
<circle cx="789.2" cy="834.0" r="2.8"/>
<circle cx="801.5" cy="850.7" r="2.8"/>
<circle cx="813.8" cy="855.8" r="2.8"/>
<circle cx="826.0" cy="850.7" r="2.8"/>
<circle cx="838.3" cy="844.0" r="2.8"/>
<circle cx="850.6" cy="834.6" r="2.8"/>
<circle cx="862.9" cy="824.5" r="2.8"/>
<circle cx="875.2" cy="818.8" r="2.8"/>
<circle cx="887.4" cy="831.6" r="2.8"/>
<circle cx="899.7" cy="834.6" r="2.8"/>
<circle cx="912.0" cy="836.3" r="2.8"/>
<circle cx="924.3" cy="839.0" r="2.8"/>
<circle cx="936.5" cy="843.3" r="2.8"/>
<circle cx="948.8" cy="844.7" r="2.8"/>
<circle cx="961.1" cy="840.6" r="2.8"/>
<circle cx="973.4" cy="837.3" r="2.8"/>
<circle cx="985.7" cy="845.7" r="2.8"/>
<circle cx="997.9" cy="852.4" r="2.8"/>
<circle cx="1010.2" cy="850.7" r="2.8"/>
<circle cx="1022.5" cy="844.0" r="2.8"/>
<circle cx="1034.8" cy="834.0" r="2.8"/>
<circle cx="1047.0" cy="816.4" r="2.8"/>
<circle cx="1059.3" cy="808.7" r="2.8"/>
<circle cx="1071.6" cy="812.7" r="2.8"/>
<circle cx="1083.9" cy="839.0" r="2.8"/>
</g>
<line x1="116.0" y1="795.5" x2="120.5" y2="795.5" stroke="#000" stroke-width="1.2" />
<text x="112.2" y="800.2" font-family="Liberation Sans, sans-serif" font-size="14" fill="#000" text-anchor="end" stroke="#fff" stroke-width="0.12" textLength="13.0" lengthAdjust="spacingAndGlyphs" >50</text>
<line x1="116.0" y1="842.5" x2="120.5" y2="842.5" stroke="#000" stroke-width="1.2" />
<text x="112.2" y="847.3" font-family="Liberation Sans, sans-serif" font-size="14" fill="#000" text-anchor="end" stroke="#fff" stroke-width="0.12" textLength="13.0" lengthAdjust="spacingAndGlyphs" >30</text>
<text transform="translate(41.0,847.0) rotate(-90)" font-family="Liberation Sans, sans-serif" font-size="15.5" fill="#30c030" text-anchor="start" stroke="#fff" stroke-width="0.12" textLength="48.0" lengthAdjust="spacingAndGlyphs" >2m RH</text>
<text transform="translate(80.5,834.0) rotate(-90)" font-family="Liberation Sans, sans-serif" font-size="16" fill="#000" text-anchor="start" stroke="#fff" stroke-width="0.12" textLength="21.0" lengthAdjust="spacingAndGlyphs" >(%)</text>
<rect x="132.5" y="865.5" width="958.0" height="85.0" fill="#6aaed8"/>
<rect x="905.6" y="890.8" width="13.5" height="2.4" fill="#fff"/>
<line x1="132.5" y1="893.5" x2="1090.5" y2="893.5" stroke="#8c9094" stroke-width="1" stroke-dasharray="4,2"/>
<line x1="132.5" y1="920.5" x2="1090.5" y2="920.5" stroke="#8c9094" stroke-width="1" stroke-dasharray="4,2"/>
<line x1="132.5" y1="948.5" x2="1090.5" y2="948.5" stroke="#8c9094" stroke-width="1" stroke-dasharray="4,2"/>
<line x1="175.5" y1="865.5" x2="175.5" y2="950.5" stroke="#8c9094" stroke-width="1" stroke-dasharray="4,2"/>
<line x1="273.5" y1="865.5" x2="273.5" y2="950.5" stroke="#8c9094" stroke-width="1" stroke-dasharray="4,2"/>
<line x1="371.5" y1="865.5" x2="371.5" y2="950.5" stroke="#8c9094" stroke-width="1" stroke-dasharray="4,2"/>
<line x1="469.5" y1="865.5" x2="469.5" y2="950.5" stroke="#8c9094" stroke-width="1" stroke-dasharray="4,2"/>
<line x1="567.5" y1="865.5" x2="567.5" y2="950.5" stroke="#8c9094" stroke-width="1" stroke-dasharray="4,2"/>
<line x1="666.5" y1="865.5" x2="666.5" y2="950.5" stroke="#8c9094" stroke-width="1" stroke-dasharray="4,2"/>
<line x1="764.5" y1="865.5" x2="764.5" y2="950.5" stroke="#8c9094" stroke-width="1" stroke-dasharray="4,2"/>
<line x1="862.5" y1="865.5" x2="862.5" y2="950.5" stroke="#8c9094" stroke-width="1" stroke-dasharray="4,2"/>
<line x1="960.5" y1="865.5" x2="960.5" y2="950.5" stroke="#8c9094" stroke-width="1" stroke-dasharray="4,2"/>
<line x1="1059.5" y1="865.5" x2="1059.5" y2="950.5" stroke="#8c9094" stroke-width="1" stroke-dasharray="4,2"/>
<line x1="120.5" y1="865.5" x2="1090.5" y2="865.5" stroke="#000" stroke-width="1.3" />
<line x1="132.5" y1="865.5" x2="132.5" y2="950.5" stroke="#000" stroke-width="1.3" />
<line x1="128.0" y1="893.5" x2="132.5" y2="893.5" stroke="#000" stroke-width="1.2" />
<line x1="128.0" y1="920.5" x2="132.5" y2="920.5" stroke="#000" stroke-width="1.2" />
<line x1="128.0" y1="948.5" x2="132.5" y2="948.5" stroke="#000" stroke-width="1.2" />
<text x="122.0" y="886.5" font-family="Liberation Sans, sans-serif" font-size="16" fill="#000" text-anchor="end" stroke="#fff" stroke-width="0.12" textLength="29.0" lengthAdjust="spacingAndGlyphs" >high</text>
<text x="122.0" y="914.5" font-family="Liberation Sans, sans-serif" font-size="16" fill="#000" text-anchor="end" stroke="#fff" stroke-width="0.12" textLength="44.0" lengthAdjust="spacingAndGlyphs" >middle</text>
<text x="122.0" y="942.5" font-family="Liberation Sans, sans-serif" font-size="16" fill="#000" text-anchor="end" stroke="#fff" stroke-width="0.12" textLength="21.0" lengthAdjust="spacingAndGlyphs" >low</text>
<text transform="translate(31.0,950.0) rotate(-90)" font-family="Liberation Sans, sans-serif" font-size="15.5" fill="#5898d8" text-anchor="start" stroke="#fff" stroke-width="0.12" textLength="83.0" lengthAdjust="spacingAndGlyphs" >Cloud Cover</text>
<text transform="translate(54.0,920.0) rotate(-90)" font-family="Liberation Sans, sans-serif" font-size="15.5" fill="#000" text-anchor="start" stroke="#fff" stroke-width="0.12" textLength="21.0" lengthAdjust="spacingAndGlyphs" >(%)</text>
<line x1="132.5" y1="972.5" x2="1090.5" y2="972.5" stroke="#9a9a9a" stroke-width="1" stroke-dasharray="4,2"/>
<line x1="132.5" y1="994.5" x2="1090.5" y2="994.5" stroke="#9a9a9a" stroke-width="1" stroke-dasharray="4,2"/>
<line x1="132.5" y1="1016.5" x2="1090.5" y2="1016.5" stroke="#9a9a9a" stroke-width="1" stroke-dasharray="4,2"/>
<line x1="132.5" y1="1038.5" x2="1090.5" y2="1038.5" stroke="#9a9a9a" stroke-width="1" stroke-dasharray="4,2"/>
<line x1="175.5" y1="950.5" x2="175.5" y2="1060.5" stroke="#9a9a9a" stroke-width="1" stroke-dasharray="4,2"/>
<line x1="273.5" y1="950.5" x2="273.5" y2="1060.5" stroke="#9a9a9a" stroke-width="1" stroke-dasharray="4,2"/>
<line x1="371.5" y1="950.5" x2="371.5" y2="1060.5" stroke="#9a9a9a" stroke-width="1" stroke-dasharray="4,2"/>
<line x1="469.5" y1="950.5" x2="469.5" y2="1060.5" stroke="#9a9a9a" stroke-width="1" stroke-dasharray="4,2"/>
<line x1="567.5" y1="950.5" x2="567.5" y2="1060.5" stroke="#9a9a9a" stroke-width="1" stroke-dasharray="4,2"/>
<line x1="666.5" y1="950.5" x2="666.5" y2="1060.5" stroke="#9a9a9a" stroke-width="1" stroke-dasharray="4,2"/>
<line x1="764.5" y1="950.5" x2="764.5" y2="1060.5" stroke="#9a9a9a" stroke-width="1" stroke-dasharray="4,2"/>
<line x1="862.5" y1="950.5" x2="862.5" y2="1060.5" stroke="#9a9a9a" stroke-width="1" stroke-dasharray="4,2"/>
<line x1="960.5" y1="950.5" x2="960.5" y2="1060.5" stroke="#9a9a9a" stroke-width="1" stroke-dasharray="4,2"/>
<line x1="1059.5" y1="950.5" x2="1059.5" y2="1060.5" stroke="#9a9a9a" stroke-width="1" stroke-dasharray="4,2"/>
<rect x="132.5" y="950.5" width="958.0" height="110.0" fill="none" stroke="#000" stroke-width="1.3"/>
<line x1="128.0" y1="972.5" x2="132.5" y2="972.5" stroke="#000" stroke-width="1.2" />
<text x="124.5" y="977.4" font-family="Liberation Sans, sans-serif" font-size="14" fill="#000" text-anchor="end" stroke="#fff" stroke-width="0.12" textLength="17.0" lengthAdjust="spacingAndGlyphs" >0.8</text>
<line x1="128.0" y1="994.5" x2="132.5" y2="994.5" stroke="#000" stroke-width="1.2" />
<text x="124.5" y="999.2" font-family="Liberation Sans, sans-serif" font-size="14" fill="#000" text-anchor="end" stroke="#fff" stroke-width="0.12" textLength="17.0" lengthAdjust="spacingAndGlyphs" >0.6</text>
<line x1="128.0" y1="1016.5" x2="132.5" y2="1016.5" stroke="#000" stroke-width="1.2" />
<text x="124.5" y="1021.4" font-family="Liberation Sans, sans-serif" font-size="14" fill="#000" text-anchor="end" stroke="#fff" stroke-width="0.12" textLength="17.0" lengthAdjust="spacingAndGlyphs" >0.4</text>
<line x1="128.0" y1="1038.5" x2="132.5" y2="1038.5" stroke="#000" stroke-width="1.2" />
<text x="124.5" y="1043.3" font-family="Liberation Sans, sans-serif" font-size="14" fill="#000" text-anchor="end" stroke="#fff" stroke-width="0.12" textLength="17.0" lengthAdjust="spacingAndGlyphs" >0.2</text>
<line x1="128.0" y1="1060.5" x2="132.5" y2="1060.5" stroke="#000" stroke-width="1.2" />
<text x="124.5" y="1065.5" font-family="Liberation Sans, sans-serif" font-size="14" fill="#000" text-anchor="end" stroke="#fff" stroke-width="0.12" textLength="6.2" lengthAdjust="spacingAndGlyphs" >0</text>
<line x1="175.5" y1="1060.5" x2="175.5" y2="1066.0" stroke="#000" stroke-width="1.2" />
<text x="175.5" y="1081.0" font-family="Liberation Sans, sans-serif" font-size="16" fill="#000" text-anchor="middle" stroke="#fff" stroke-width="0.12" textLength="44.0" lengthAdjust="spacingAndGlyphs" >26SEP</text>
<line x1="273.5" y1="1060.5" x2="273.5" y2="1066.0" stroke="#000" stroke-width="1.2" />
<text x="273.5" y="1081.0" font-family="Liberation Sans, sans-serif" font-size="16" fill="#000" text-anchor="middle" stroke="#fff" stroke-width="0.12" textLength="44.0" lengthAdjust="spacingAndGlyphs" >27SEP</text>
<line x1="371.5" y1="1060.5" x2="371.5" y2="1066.0" stroke="#000" stroke-width="1.2" />
<text x="371.5" y="1081.0" font-family="Liberation Sans, sans-serif" font-size="16" fill="#000" text-anchor="middle" stroke="#fff" stroke-width="0.12" textLength="44.0" lengthAdjust="spacingAndGlyphs" >28SEP</text>
<line x1="469.5" y1="1060.5" x2="469.5" y2="1066.0" stroke="#000" stroke-width="1.2" />
<text x="469.5" y="1081.0" font-family="Liberation Sans, sans-serif" font-size="16" fill="#000" text-anchor="middle" stroke="#fff" stroke-width="0.12" textLength="44.0" lengthAdjust="spacingAndGlyphs" >29SEP</text>
<line x1="567.5" y1="1060.5" x2="567.5" y2="1066.0" stroke="#000" stroke-width="1.2" />
<text x="567.5" y="1081.0" font-family="Liberation Sans, sans-serif" font-size="16" fill="#000" text-anchor="middle" stroke="#fff" stroke-width="0.12" textLength="44.0" lengthAdjust="spacingAndGlyphs" >30SEP</text>
<line x1="666.5" y1="1060.5" x2="666.5" y2="1066.0" stroke="#000" stroke-width="1.2" />
<text x="666.5" y="1081.0" font-family="Liberation Sans, sans-serif" font-size="16" fill="#000" text-anchor="middle" stroke="#fff" stroke-width="0.12" textLength="34.0" lengthAdjust="spacingAndGlyphs" >1OCT</text>
<line x1="764.5" y1="1060.5" x2="764.5" y2="1066.0" stroke="#000" stroke-width="1.2" />
<text x="764.5" y="1081.0" font-family="Liberation Sans, sans-serif" font-size="16" fill="#000" text-anchor="middle" stroke="#fff" stroke-width="0.12" textLength="34.0" lengthAdjust="spacingAndGlyphs" >2OCT</text>
<line x1="862.5" y1="1060.5" x2="862.5" y2="1066.0" stroke="#000" stroke-width="1.2" />
<text x="862.5" y="1081.0" font-family="Liberation Sans, sans-serif" font-size="16" fill="#000" text-anchor="middle" stroke="#fff" stroke-width="0.12" textLength="34.0" lengthAdjust="spacingAndGlyphs" >3OCT</text>
<line x1="960.5" y1="1060.5" x2="960.5" y2="1066.0" stroke="#000" stroke-width="1.2" />
<text x="960.5" y="1081.0" font-family="Liberation Sans, sans-serif" font-size="16" fill="#000" text-anchor="middle" stroke="#fff" stroke-width="0.12" textLength="34.0" lengthAdjust="spacingAndGlyphs" >4OCT</text>
<line x1="1059.5" y1="1060.5" x2="1059.5" y2="1066.0" stroke="#000" stroke-width="1.2" />
<text x="1059.5" y="1081.0" font-family="Liberation Sans, sans-serif" font-size="16" fill="#000" text-anchor="middle" stroke="#fff" stroke-width="0.12" textLength="34.0" lengthAdjust="spacingAndGlyphs" >5OCT</text>
<text x="981.6" y="965.3" font-family="Liberation Sans, sans-serif" font-size="14" fill="#000" text-anchor="start" stroke="#fff" stroke-width="0.12" textLength="25.9" lengthAdjust="spacingAndGlyphs" >Run</text>
<text x="1017.6" y="965.3" font-family="Liberation Sans, sans-serif" font-size="14" fill="#000" text-anchor="start" stroke="#fff" stroke-width="0.12" textLength="30.4" lengthAdjust="spacingAndGlyphs" >Total</text>
<text x="1059.0" y="965.3" font-family="Liberation Sans, sans-serif" font-size="14" fill="#000" text-anchor="start" stroke="#fff" stroke-width="0.12" textLength="7.9" lengthAdjust="spacingAndGlyphs" >=</text>
<text x="1078.0" y="965.3" font-family="Liberation Sans, sans-serif" font-size="14" fill="#000" text-anchor="start" stroke="#fff" stroke-width="0.12" textLength="7.0" lengthAdjust="spacingAndGlyphs" >0</text>
<text x="70.0" y="977.0" font-family="Liberation Sans, sans-serif" font-size="15.5" fill="#28d828" text-anchor="end" stroke="#fff" stroke-width="0.12" textLength="92.0" lengthAdjust="spacingAndGlyphs" >Total / Rain</text>
<text x="70.0" y="997.5" font-family="Liberation Sans, sans-serif" font-size="15.5" fill="#f03838" text-anchor="end" stroke="#fff" stroke-width="0.12" textLength="72.0" lengthAdjust="spacingAndGlyphs" >Convective</text>
<text transform="translate(89.0,1049.0) rotate(-90)" font-family="Liberation Sans, sans-serif" font-size="15.5" fill="#000" text-anchor="start" stroke="#fff" stroke-width="0.12" textLength="121.0" lengthAdjust="spacingAndGlyphs" >3hr Precip (mm)</text>
</g>
</svg>
</body></html>
